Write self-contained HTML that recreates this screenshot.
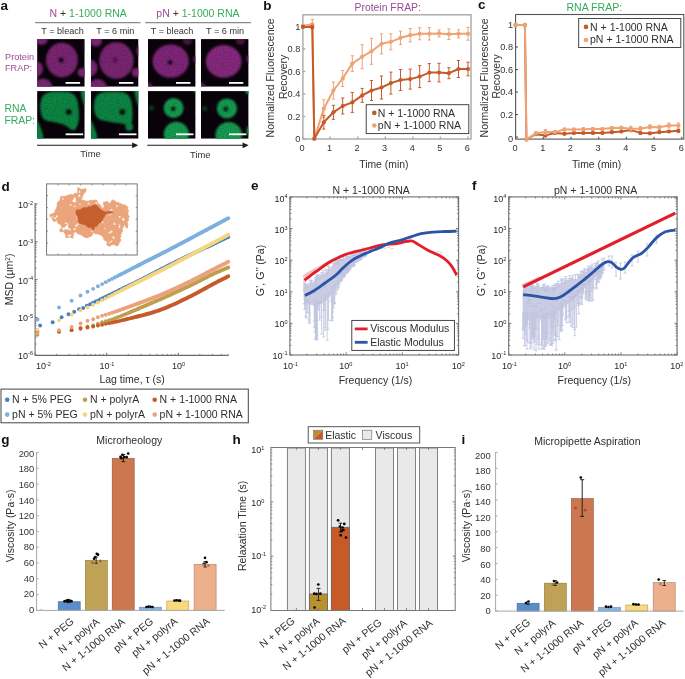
<!DOCTYPE html><html><head><meta charset="utf-8"><style>html,body{margin:0;padding:0;background:#fff;}svg{display:block;will-change:transform;font-family:"Liberation Sans",sans-serif;}</style></head><body>
<svg width="685" height="679" viewBox="0 0 685 679">
<defs><filter id="bl" x="-20%" y="-20%" width="140%" height="140%"><feGaussianBlur stdDeviation="0.9"/></filter><filter id="bl2" x="-50%" y="-50%" width="200%" height="200%"><feGaussianBlur stdDeviation="1.2"/></filter><filter id="bl3" x="-20%" y="-20%" width="140%" height="140%"><feGaussianBlur stdDeviation="1.3"/></filter><filter id="nz" x="0" y="0" width="100%" height="100%" filterUnits="objectBoundingBox"><feTurbulence type="fractalNoise" baseFrequency="0.85" numOctaves="1" seed="4" result="t"/><feColorMatrix in="t" type="matrix" values="0 0 0 0 0  0 0 0 0 0  0 0 0 0 0  0.5 0 0 0 -0.17"/></filter></defs>
<rect width="685" height="679" fill="#fff"/>
<text x="0.4" y="9.7" font-size="13.5" text-anchor="start" fill="#111" font-weight="bold">a</text>
<text x="49.5" y="16.9" font-size="10.5" fill="#262626"><tspan fill="#9a4a98">N</tspan><tspan fill="#333"> + </tspan><tspan fill="#36ac5c">1-1000 RNA</tspan></text>
<text x="156.3" y="16.9" font-size="10.5" fill="#262626"><tspan fill="#9a4a98">pN</tspan><tspan fill="#333"> + </tspan><tspan fill="#36ac5c">1-1000 RNA</tspan></text>
<line x1="35" y1="22.6" x2="140.5" y2="22.6" stroke="#8a8a8a" stroke-width="1.1"/>
<line x1="145.3" y1="22.6" x2="251" y2="22.6" stroke="#8a8a8a" stroke-width="1.1"/>
<text x="41.3" y="33.9" font-size="9.1" text-anchor="start" fill="#333">T = bleach</text>
<text x="96.3" y="33.9" font-size="9.1" text-anchor="start" fill="#333">T = 6 min</text>
<text x="150.8" y="33.9" font-size="9.1" text-anchor="start" fill="#333">T = bleach</text>
<text x="206.1" y="33.9" font-size="9.1" text-anchor="start" fill="#333">T = 6 min</text>
<text x="5" y="60" font-size="9.2" text-anchor="start" fill="#9a4a98">Protein</text>
<text x="5" y="70.8" font-size="9.2" text-anchor="start" fill="#9a4a98">FRAP:</text>
<text x="4.4" y="111.8" font-size="10.4" text-anchor="start" fill="#36ac5c">RNA</text>
<text x="4.4" y="124.4" font-size="10.4" text-anchor="start" fill="#36ac5c">FRAP:</text>
<clipPath id="cp1"><rect x="37.1" y="39.1" width="47.6" height="47.6"/></clipPath>
<g clip-path="url(#cp1)">
<rect x="37.1" y="39.1" width="47.6" height="47.6" fill="#0a020a"/>
<g filter="url(#bl)">
<ellipse cx="61.9" cy="60" rx="16" ry="17.2" fill="#7e2676" opacity="1"/>
<ellipse cx="41.5" cy="40" rx="6" ry="5" fill="#7e2676" opacity="1"/>
<ellipse cx="35.5" cy="69" rx="7.5" ry="8" fill="#7e2676" opacity="1"/>
<ellipse cx="43" cy="88" rx="9.5" ry="9.5" fill="#7e2676" opacity="1"/>
<ellipse cx="82.5" cy="72.5" rx="5" ry="4.6" fill="#7e2676" opacity="1"/>
<ellipse cx="90" cy="46" rx="6" ry="8" fill="#7e2676" opacity="1"/>
<ellipse cx="61.2" cy="60" rx="2.8" ry="2.8" fill="#12030f" opacity="1"/>
</g>
<rect x="37.1" y="39.1" width="47.6" height="47.6" filter="url(#nz)" fill="#000"/>
</g>
<rect x="65.6" y="82" width="14.5" height="1.8" fill="#fff"/>
<clipPath id="cp2"><rect x="90.9" y="39.1" width="47.6" height="47.6"/></clipPath>
<g clip-path="url(#cp2)">
<rect x="90.9" y="39.1" width="47.6" height="47.6" fill="#0a020a"/>
<g filter="url(#bl)">
<ellipse cx="116.4" cy="60.6" rx="17.2" ry="18.4" fill="#7e2676" opacity="1"/>
<ellipse cx="96" cy="41" rx="6" ry="5.5" fill="#7e2676" opacity="1"/>
<ellipse cx="89.5" cy="68" rx="8" ry="8.5" fill="#7e2676" opacity="1"/>
<ellipse cx="97.5" cy="88.5" rx="9.5" ry="9.5" fill="#7e2676" opacity="1"/>
<ellipse cx="136.5" cy="72.5" rx="4.8" ry="4.5" fill="#7e2676" opacity="1"/>
<ellipse cx="146" cy="51" rx="9.5" ry="8" fill="#7e2676" opacity="1"/>
<ellipse cx="115.2" cy="60" rx="2.6" ry="2.6" fill="#4a1040" opacity="0.8"/>
</g>
<rect x="90.9" y="39.1" width="47.6" height="47.6" filter="url(#nz)" fill="#000"/>
</g>
<rect x="118.9" y="82" width="14.5" height="1.8" fill="#fff"/>
<clipPath id="cp3"><rect x="148" y="39.1" width="47.6" height="47.6"/></clipPath>
<g clip-path="url(#cp3)">
<rect x="148" y="39.1" width="47.6" height="47.6" fill="#0a020a"/>
<g filter="url(#bl)">
<ellipse cx="170.7" cy="61.2" rx="18.2" ry="16.6" fill="#83287b" opacity="1"/>
<ellipse cx="187.5" cy="40.8" rx="4.5" ry="4" fill="#5a1a52" opacity="0.8"/>
<ellipse cx="197" cy="59" rx="3.5" ry="4" fill="#83287b" opacity="0.8"/>
<ellipse cx="147.5" cy="87.5" rx="5" ry="5" fill="#83287b" opacity="0.8"/>
<ellipse cx="170.1" cy="62.3" rx="2.6" ry="2.6" fill="#12030f" opacity="1"/>
</g>
<rect x="148" y="39.1" width="47.6" height="47.6" filter="url(#nz)" fill="#000"/>
</g>
<rect x="176" y="82" width="14.4" height="1.8" fill="#fff"/>
<clipPath id="cp4"><rect x="201" y="39.1" width="47.6" height="47.6"/></clipPath>
<g clip-path="url(#cp4)">
<rect x="201" y="39.1" width="47.6" height="47.6" fill="#0a020a"/>
<g filter="url(#bl)">
<ellipse cx="223.7" cy="61.4" rx="17.9" ry="16.4" fill="#8a2b82" opacity="1"/>
<ellipse cx="240.5" cy="40.8" rx="4.5" ry="4" fill="#5a1a52" opacity="0.8"/>
<ellipse cx="250" cy="59" rx="3.5" ry="4" fill="#8a2b82" opacity="0.8"/>
<ellipse cx="200.5" cy="87.5" rx="5" ry="5" fill="#8a2b82" opacity="0.8"/>
</g>
<rect x="201" y="39.1" width="47.6" height="47.6" filter="url(#nz)" fill="#000"/>
</g>
<rect x="229" y="82" width="14.3" height="1.8" fill="#fff"/>
<clipPath id="cp5"><rect x="37.1" y="91.1" width="47.6" height="47.6"/></clipPath>
<g clip-path="url(#cp5)">
<rect x="37.1" y="91.1" width="47.6" height="47.6" fill="#0a020a"/>
<g filter="url(#bl3)">
<path d="M 40.2,108.1 C 40.07,105.52 40.33,102.67 40.9,100.5 C 41.47,98.33 42,96.5 43.6,95.1 C 45.2,93.7 47.68,92.67 50.5,92.1 C 53.32,91.53 57.3,91.65 60.5,91.7 C 63.7,91.75 67.4,91.83 69.7,92.4 C 72,92.97 73.03,93.75 74.3,95.1 C 75.57,96.45 76.6,98.33 77.3,100.5 C 78,102.67 78.22,105.55 78.5,108.1 C 78.78,110.65 78.98,113.62 79,115.8 C 79.02,117.98 78.98,119.28 78.6,121.2 C 78.22,123.12 77.47,125.78 76.7,127.3 C 75.93,128.82 74.95,129.92 74,130.3 C 73.05,130.68 72.13,130.23 71,129.6 C 69.87,128.97 68.6,127.4 67.2,126.5 C 65.8,125.6 64.27,124.83 62.6,124.2 C 60.93,123.57 59.25,123.15 57.2,122.7 C 55.15,122.25 52.33,121.95 50.3,121.5 C 48.27,121.05 46.43,120.92 45,120 C 43.57,119.08 42.5,117.98 41.7,116 C 40.9,114.02 40.33,110.68 40.2,108.1 Z" fill="#0a8a45"/>
<polygon points="36,119.5 37.7,121.2 39.6,125 41.5,130.3 43,135 43.4,140 36,140" fill="#0a8a45"/>
<polygon points="80.5,90 81.2,95 82.5,100.5 84,105 85.5,107.5 86,90" fill="#0a8a45"/>
<ellipse cx="68.7" cy="112" rx="3.2" ry="3.2" fill="#050505" opacity="1"/>
</g>
<rect x="37.1" y="91.1" width="47.6" height="47.6" filter="url(#nz)" fill="#000"/>
</g>
<rect x="65.6" y="133.4" width="17.5" height="1.8" fill="#fff"/>
<clipPath id="cp6"><rect x="90.9" y="91.1" width="47.6" height="47.6"/></clipPath>
<g clip-path="url(#cp6)">
<rect x="90.9" y="91.1" width="47.6" height="47.6" fill="#0a020a"/>
<g filter="url(#bl3)">
<path d="M 94,108.1 C 93.87,105.68 94.13,102.67 94.7,100.5 C 95.27,98.33 95.8,96.5 97.4,95.1 C 99,93.7 101.48,92.67 104.3,92.1 C 107.12,91.53 111.1,91.65 114.3,91.7 C 117.5,91.75 121.2,91.83 123.5,92.4 C 125.8,92.97 126.83,93.75 128.1,95.1 C 129.37,96.45 130.4,98.33 131.1,100.5 C 131.8,102.67 132.07,105.55 132.3,108.1 C 132.53,110.65 132.57,113.5 132.5,115.8 C 132.43,118.1 132.38,120.57 131.9,121.9 C 131.42,123.23 130.62,123.42 129.6,123.8 C 128.58,124.18 127.2,124.25 125.8,124.2 C 124.4,124.15 122.87,123.75 121.2,123.5 C 119.53,123.25 117.6,122.97 115.8,122.7 C 114,122.43 112.32,122.22 110.4,121.9 C 108.48,121.58 106.2,121.3 104.3,120.8 C 102.4,120.3 100.47,119.87 99,118.9 C 97.53,117.93 96.33,116.8 95.5,115 C 94.67,113.2 94.13,110.52 94,108.1 Z" fill="#0a8a45"/>
<polygon points="89.8,119.5 91.5,121.2 93.4,125 95.3,130.3 96.8,135 97.2,140 89.8,140" fill="#0a8a45"/>
<polygon points="134.3,90 135,95 136.3,100.5 137.8,105 139.3,107.5 139.8,90" fill="#0a8a45"/>
<ellipse cx="129.2" cy="126.9" rx="3.8" ry="3.8" fill="#0a8a45" opacity="1"/>
<ellipse cx="122.3" cy="112" rx="3.2" ry="3.2" fill="#050a06" opacity="1"/>
</g>
<rect x="90.9" y="91.1" width="47.6" height="47.6" filter="url(#nz)" fill="#000"/>
</g>
<rect x="118.9" y="133.4" width="17.6" height="1.8" fill="#fff"/>
<clipPath id="cp7"><rect x="148" y="91.1" width="47.6" height="47.6"/></clipPath>
<g clip-path="url(#cp7)">
<rect x="148" y="91.1" width="47.6" height="47.6" fill="#0a020a"/>
<g filter="url(#bl)">
<ellipse cx="173.6" cy="108" rx="10" ry="10" fill="#12a052" opacity="1"/>
<ellipse cx="176.3" cy="134.3" rx="12.6" ry="12.6" fill="#12a052" opacity="1"/>
<ellipse cx="151.4" cy="108.1" rx="2.6" ry="2.6" fill="#0a4a22" opacity="0.8"/>
<ellipse cx="196" cy="91" rx="2" ry="2" fill="#12a052" opacity="1"/>
<ellipse cx="173.2" cy="108.8" rx="2.5" ry="2.5" fill="#050505" opacity="1"/>
</g>
<rect x="148" y="91.1" width="47.6" height="47.6" filter="url(#nz)" fill="#000"/>
</g>
<rect x="176" y="133.4" width="17.5" height="1.8" fill="#fff"/>
<clipPath id="cp8"><rect x="201" y="91.1" width="47.6" height="47.6"/></clipPath>
<g clip-path="url(#cp8)">
<rect x="201" y="91.1" width="47.6" height="47.6" fill="#0a020a"/>
<g filter="url(#bl)">
<ellipse cx="226.9" cy="108.4" rx="10.2" ry="10" fill="#12a052" opacity="1"/>
<ellipse cx="228.7" cy="135.2" rx="13.3" ry="13.3" fill="#12a052" opacity="1"/>
<ellipse cx="204.7" cy="108.5" rx="2.6" ry="2.6" fill="#0a4a22" opacity="0.8"/>
<ellipse cx="248" cy="91.5" rx="2.5" ry="2.5" fill="#12a052" opacity="1"/>
<ellipse cx="249.5" cy="131" rx="3" ry="5" fill="#12a052" opacity="1"/>
<ellipse cx="225.8" cy="109" rx="2.7" ry="2.7" fill="#052a16" opacity="1"/>
</g>
<rect x="201" y="91.1" width="47.6" height="47.6" filter="url(#nz)" fill="#000"/>
</g>
<rect x="229" y="133.4" width="17.3" height="1.8" fill="#fff"/>
<line x1="37" y1="145.3" x2="134.2" y2="145.3" stroke="#1a1a1a" stroke-width="1.1"/>
<polygon points="138.2,145.3 132.2,142.4 132.2,148.2" fill="#1a1a1a"/>
<line x1="147.2" y1="145.3" x2="244.6" y2="145.3" stroke="#1a1a1a" stroke-width="1.1"/>
<polygon points="248.6,145.3 242.6,142.4 242.6,148.2" fill="#1a1a1a"/>
<text x="80.2" y="157.2" font-size="9.4" text-anchor="start" fill="#333">Time</text>
<text x="190" y="157.5" font-size="9.4" text-anchor="start" fill="#333">Time</text>
<text x="263.2" y="9.7" font-size="13.5" text-anchor="start" fill="#111" font-weight="bold">b</text>
<text x="354.5" y="10.6" font-size="10.4" text-anchor="start" fill="#9a4a98">Protein FRAP:</text>
<rect x="302.9" y="14.8" width="168.1" height="124.2" fill="none" stroke="#a8a8a8" stroke-width="1.4"/>
<line x1="302.9" y1="139" x2="305.3" y2="139" stroke="#a8a8a8" stroke-width="1.4"/>
<text x="300.3" y="142.2" font-size="9.2" text-anchor="end" fill="#333">0</text>
<line x1="302.9" y1="116.5" x2="305.3" y2="116.5" stroke="#a8a8a8" stroke-width="1.4"/>
<text x="300.3" y="119.7" font-size="9.2" text-anchor="end" fill="#333">0.2</text>
<line x1="302.9" y1="94" x2="305.3" y2="94" stroke="#a8a8a8" stroke-width="1.4"/>
<text x="300.3" y="97.2" font-size="9.2" text-anchor="end" fill="#333">0.4</text>
<line x1="302.9" y1="71.5" x2="305.3" y2="71.5" stroke="#a8a8a8" stroke-width="1.4"/>
<text x="300.3" y="74.7" font-size="9.2" text-anchor="end" fill="#333">0.6</text>
<line x1="302.9" y1="49" x2="305.3" y2="49" stroke="#a8a8a8" stroke-width="1.4"/>
<text x="300.3" y="52.2" font-size="9.2" text-anchor="end" fill="#333">0.8</text>
<line x1="302.9" y1="26.5" x2="305.3" y2="26.5" stroke="#a8a8a8" stroke-width="1.4"/>
<text x="300.3" y="29.7" font-size="9.2" text-anchor="end" fill="#333">1</text>
<line x1="302.6" y1="139" x2="302.6" y2="136.6" stroke="#a8a8a8" stroke-width="1.4"/>
<text x="302" y="151" font-size="9.2" text-anchor="middle" fill="#333">0</text>
<line x1="330.15" y1="139" x2="330.15" y2="136.6" stroke="#a8a8a8" stroke-width="1.4"/>
<text x="329.55" y="151" font-size="9.2" text-anchor="middle" fill="#333">1</text>
<line x1="357.7" y1="139" x2="357.7" y2="136.6" stroke="#a8a8a8" stroke-width="1.4"/>
<text x="357.1" y="151" font-size="9.2" text-anchor="middle" fill="#333">2</text>
<line x1="385.25" y1="139" x2="385.25" y2="136.6" stroke="#a8a8a8" stroke-width="1.4"/>
<text x="384.65" y="151" font-size="9.2" text-anchor="middle" fill="#333">3</text>
<line x1="412.8" y1="139" x2="412.8" y2="136.6" stroke="#a8a8a8" stroke-width="1.4"/>
<text x="412.2" y="151" font-size="9.2" text-anchor="middle" fill="#333">4</text>
<line x1="440.35" y1="139" x2="440.35" y2="136.6" stroke="#a8a8a8" stroke-width="1.4"/>
<text x="439.75" y="151" font-size="9.2" text-anchor="middle" fill="#333">5</text>
<line x1="467.9" y1="139" x2="467.9" y2="136.6" stroke="#a8a8a8" stroke-width="1.4"/>
<text x="467.3" y="151" font-size="9.2" text-anchor="middle" fill="#333">6</text>
<text transform="translate(273.6,77.9) rotate(-90)" font-size="10.5" text-anchor="middle" fill="#333">Normalized Fluorescence</text>
<text transform="translate(286.8,76.9) rotate(-90)" font-size="10.5" text-anchor="middle" fill="#333">Recovery</text>
<text x="359.2" y="168.2" font-size="10.4" text-anchor="start" fill="#333">Time (min)</text>
<polyline points="303,26 312.3,24.3 314.3,138.7 323.8,108.7 333.4,90.5 342.7,78.5 352.3,63.6 362.2,56.7 371.5,51.3 381.5,43.8 390.9,41.8 400.5,37.8 410.2,35.2 419.7,33.8 429.3,33.8 439,33.4 448.9,34.2 458.5,33.8 468,33.8" fill="none" stroke="#efa274" stroke-width="2" stroke-linejoin="round" stroke-linecap="round"/>
<line x1="303" y1="24.5" x2="303" y2="27.5" stroke="#efa274" stroke-width="1"/>
<line x1="301.4" y1="24.5" x2="304.6" y2="24.5" stroke="#efa274" stroke-width="1"/>
<line x1="301.4" y1="27.5" x2="304.6" y2="27.5" stroke="#efa274" stroke-width="1"/>
<line x1="312.3" y1="19.5" x2="312.3" y2="29.1" stroke="#efa274" stroke-width="1"/>
<line x1="310.7" y1="19.5" x2="313.9" y2="19.5" stroke="#efa274" stroke-width="1"/>
<line x1="310.7" y1="29.1" x2="313.9" y2="29.1" stroke="#efa274" stroke-width="1"/>
<line x1="323.8" y1="99.7" x2="323.8" y2="117.7" stroke="#efa274" stroke-width="1"/>
<line x1="322.2" y1="99.7" x2="325.4" y2="99.7" stroke="#efa274" stroke-width="1"/>
<line x1="322.2" y1="117.7" x2="325.4" y2="117.7" stroke="#efa274" stroke-width="1"/>
<line x1="333.4" y1="82" x2="333.4" y2="99" stroke="#efa274" stroke-width="1"/>
<line x1="331.8" y1="82" x2="335" y2="82" stroke="#efa274" stroke-width="1"/>
<line x1="331.8" y1="99" x2="335" y2="99" stroke="#efa274" stroke-width="1"/>
<line x1="342.7" y1="70.5" x2="342.7" y2="86.5" stroke="#efa274" stroke-width="1"/>
<line x1="341.1" y1="70.5" x2="344.3" y2="70.5" stroke="#efa274" stroke-width="1"/>
<line x1="341.1" y1="86.5" x2="344.3" y2="86.5" stroke="#efa274" stroke-width="1"/>
<line x1="352.3" y1="55.8" x2="352.3" y2="71.4" stroke="#efa274" stroke-width="1"/>
<line x1="350.7" y1="55.8" x2="353.9" y2="55.8" stroke="#efa274" stroke-width="1"/>
<line x1="350.7" y1="71.4" x2="353.9" y2="71.4" stroke="#efa274" stroke-width="1"/>
<line x1="362.2" y1="44.7" x2="362.2" y2="68.7" stroke="#efa274" stroke-width="1"/>
<line x1="360.6" y1="44.7" x2="363.8" y2="44.7" stroke="#efa274" stroke-width="1"/>
<line x1="360.6" y1="68.7" x2="363.8" y2="68.7" stroke="#efa274" stroke-width="1"/>
<line x1="371.5" y1="38.3" x2="371.5" y2="64.3" stroke="#efa274" stroke-width="1"/>
<line x1="369.9" y1="38.3" x2="373.1" y2="38.3" stroke="#efa274" stroke-width="1"/>
<line x1="369.9" y1="64.3" x2="373.1" y2="64.3" stroke="#efa274" stroke-width="1"/>
<line x1="381.5" y1="33.8" x2="381.5" y2="53.8" stroke="#efa274" stroke-width="1"/>
<line x1="379.9" y1="33.8" x2="383.1" y2="33.8" stroke="#efa274" stroke-width="1"/>
<line x1="379.9" y1="53.8" x2="383.1" y2="53.8" stroke="#efa274" stroke-width="1"/>
<line x1="390.9" y1="33.8" x2="390.9" y2="49.8" stroke="#efa274" stroke-width="1"/>
<line x1="389.3" y1="33.8" x2="392.5" y2="33.8" stroke="#efa274" stroke-width="1"/>
<line x1="389.3" y1="49.8" x2="392.5" y2="49.8" stroke="#efa274" stroke-width="1"/>
<line x1="400.5" y1="31.1" x2="400.5" y2="44.5" stroke="#efa274" stroke-width="1"/>
<line x1="398.9" y1="31.1" x2="402.1" y2="31.1" stroke="#efa274" stroke-width="1"/>
<line x1="398.9" y1="44.5" x2="402.1" y2="44.5" stroke="#efa274" stroke-width="1"/>
<line x1="410.2" y1="28.5" x2="410.2" y2="41.9" stroke="#efa274" stroke-width="1"/>
<line x1="408.6" y1="28.5" x2="411.8" y2="28.5" stroke="#efa274" stroke-width="1"/>
<line x1="408.6" y1="41.9" x2="411.8" y2="41.9" stroke="#efa274" stroke-width="1"/>
<line x1="419.7" y1="27.8" x2="419.7" y2="39.8" stroke="#efa274" stroke-width="1"/>
<line x1="418.1" y1="27.8" x2="421.3" y2="27.8" stroke="#efa274" stroke-width="1"/>
<line x1="418.1" y1="39.8" x2="421.3" y2="39.8" stroke="#efa274" stroke-width="1"/>
<line x1="429.3" y1="27.6" x2="429.3" y2="40" stroke="#efa274" stroke-width="1"/>
<line x1="427.7" y1="27.6" x2="430.9" y2="27.6" stroke="#efa274" stroke-width="1"/>
<line x1="427.7" y1="40" x2="430.9" y2="40" stroke="#efa274" stroke-width="1"/>
<line x1="439" y1="29.9" x2="439" y2="36.9" stroke="#efa274" stroke-width="1"/>
<line x1="437.4" y1="29.9" x2="440.6" y2="29.9" stroke="#efa274" stroke-width="1"/>
<line x1="437.4" y1="36.9" x2="440.6" y2="36.9" stroke="#efa274" stroke-width="1"/>
<line x1="448.9" y1="28.9" x2="448.9" y2="39.5" stroke="#efa274" stroke-width="1"/>
<line x1="447.3" y1="28.9" x2="450.5" y2="28.9" stroke="#efa274" stroke-width="1"/>
<line x1="447.3" y1="39.5" x2="450.5" y2="39.5" stroke="#efa274" stroke-width="1"/>
<line x1="458.5" y1="29.8" x2="458.5" y2="37.8" stroke="#efa274" stroke-width="1"/>
<line x1="456.9" y1="29.8" x2="460.1" y2="29.8" stroke="#efa274" stroke-width="1"/>
<line x1="456.9" y1="37.8" x2="460.1" y2="37.8" stroke="#efa274" stroke-width="1"/>
<line x1="468" y1="27.4" x2="468" y2="40.2" stroke="#efa274" stroke-width="1"/>
<line x1="466.4" y1="27.4" x2="469.6" y2="27.4" stroke="#efa274" stroke-width="1"/>
<line x1="466.4" y1="40.2" x2="469.6" y2="40.2" stroke="#efa274" stroke-width="1"/>
<circle cx="303" cy="26" r="2.1" fill="#efa274"/>
<circle cx="312.3" cy="24.3" r="2.1" fill="#efa274"/>
<circle cx="314.3" cy="138.7" r="2.1" fill="#efa274"/>
<circle cx="323.8" cy="108.7" r="2.1" fill="#efa274"/>
<circle cx="333.4" cy="90.5" r="2.1" fill="#efa274"/>
<circle cx="342.7" cy="78.5" r="2.1" fill="#efa274"/>
<circle cx="352.3" cy="63.6" r="2.1" fill="#efa274"/>
<circle cx="362.2" cy="56.7" r="2.1" fill="#efa274"/>
<circle cx="371.5" cy="51.3" r="2.1" fill="#efa274"/>
<circle cx="381.5" cy="43.8" r="2.1" fill="#efa274"/>
<circle cx="390.9" cy="41.8" r="2.1" fill="#efa274"/>
<circle cx="400.5" cy="37.8" r="2.1" fill="#efa274"/>
<circle cx="410.2" cy="35.2" r="2.1" fill="#efa274"/>
<circle cx="419.7" cy="33.8" r="2.1" fill="#efa274"/>
<circle cx="429.3" cy="33.8" r="2.1" fill="#efa274"/>
<circle cx="439" cy="33.4" r="2.1" fill="#efa274"/>
<circle cx="448.9" cy="34.2" r="2.1" fill="#efa274"/>
<circle cx="458.5" cy="33.8" r="2.1" fill="#efa274"/>
<circle cx="468" cy="33.8" r="2.1" fill="#efa274"/>
<polyline points="303,26.9 312.3,26.9 314.3,138.7 323.8,122.3 333.4,112.3 342.7,106 352.3,102.4 362.2,95.4 371.5,90.5 381.5,87.5 390.9,83.1 400.5,80 410.2,79.1 419.7,76.6 429.3,72.6 439,72.6 448.9,73.2 458.5,69 468,69" fill="none" stroke="#c65a28" stroke-width="2" stroke-linejoin="round" stroke-linecap="round"/>
<line x1="303" y1="25.9" x2="303" y2="27.9" stroke="#c65a28" stroke-width="1"/>
<line x1="301.4" y1="25.9" x2="304.6" y2="25.9" stroke="#c65a28" stroke-width="1"/>
<line x1="301.4" y1="27.9" x2="304.6" y2="27.9" stroke="#c65a28" stroke-width="1"/>
<line x1="312.3" y1="25.4" x2="312.3" y2="28.4" stroke="#c65a28" stroke-width="1"/>
<line x1="310.7" y1="25.4" x2="313.9" y2="25.4" stroke="#c65a28" stroke-width="1"/>
<line x1="310.7" y1="28.4" x2="313.9" y2="28.4" stroke="#c65a28" stroke-width="1"/>
<line x1="323.8" y1="115.5" x2="323.8" y2="129.1" stroke="#c65a28" stroke-width="1"/>
<line x1="322.2" y1="115.5" x2="325.4" y2="115.5" stroke="#c65a28" stroke-width="1"/>
<line x1="322.2" y1="129.1" x2="325.4" y2="129.1" stroke="#c65a28" stroke-width="1"/>
<line x1="333.4" y1="105.3" x2="333.4" y2="119.3" stroke="#c65a28" stroke-width="1"/>
<line x1="331.8" y1="105.3" x2="335" y2="105.3" stroke="#c65a28" stroke-width="1"/>
<line x1="331.8" y1="119.3" x2="335" y2="119.3" stroke="#c65a28" stroke-width="1"/>
<line x1="342.7" y1="98" x2="342.7" y2="114" stroke="#c65a28" stroke-width="1"/>
<line x1="341.1" y1="98" x2="344.3" y2="98" stroke="#c65a28" stroke-width="1"/>
<line x1="341.1" y1="114" x2="344.3" y2="114" stroke="#c65a28" stroke-width="1"/>
<line x1="352.3" y1="92.4" x2="352.3" y2="112.4" stroke="#c65a28" stroke-width="1"/>
<line x1="350.7" y1="92.4" x2="353.9" y2="92.4" stroke="#c65a28" stroke-width="1"/>
<line x1="350.7" y1="112.4" x2="353.9" y2="112.4" stroke="#c65a28" stroke-width="1"/>
<line x1="362.2" y1="88.4" x2="362.2" y2="102.4" stroke="#c65a28" stroke-width="1"/>
<line x1="360.6" y1="88.4" x2="363.8" y2="88.4" stroke="#c65a28" stroke-width="1"/>
<line x1="360.6" y1="102.4" x2="363.8" y2="102.4" stroke="#c65a28" stroke-width="1"/>
<line x1="371.5" y1="80.5" x2="371.5" y2="100.5" stroke="#c65a28" stroke-width="1"/>
<line x1="369.9" y1="80.5" x2="373.1" y2="80.5" stroke="#c65a28" stroke-width="1"/>
<line x1="369.9" y1="100.5" x2="373.1" y2="100.5" stroke="#c65a28" stroke-width="1"/>
<line x1="381.5" y1="76" x2="381.5" y2="99" stroke="#c65a28" stroke-width="1"/>
<line x1="379.9" y1="76" x2="383.1" y2="76" stroke="#c65a28" stroke-width="1"/>
<line x1="379.9" y1="99" x2="383.1" y2="99" stroke="#c65a28" stroke-width="1"/>
<line x1="390.9" y1="72.1" x2="390.9" y2="94.1" stroke="#c65a28" stroke-width="1"/>
<line x1="389.3" y1="72.1" x2="392.5" y2="72.1" stroke="#c65a28" stroke-width="1"/>
<line x1="389.3" y1="94.1" x2="392.5" y2="94.1" stroke="#c65a28" stroke-width="1"/>
<line x1="400.5" y1="69.5" x2="400.5" y2="90.5" stroke="#c65a28" stroke-width="1"/>
<line x1="398.9" y1="69.5" x2="402.1" y2="69.5" stroke="#c65a28" stroke-width="1"/>
<line x1="398.9" y1="90.5" x2="402.1" y2="90.5" stroke="#c65a28" stroke-width="1"/>
<line x1="410.2" y1="69.1" x2="410.2" y2="89.1" stroke="#c65a28" stroke-width="1"/>
<line x1="408.6" y1="69.1" x2="411.8" y2="69.1" stroke="#c65a28" stroke-width="1"/>
<line x1="408.6" y1="89.1" x2="411.8" y2="89.1" stroke="#c65a28" stroke-width="1"/>
<line x1="419.7" y1="65.6" x2="419.7" y2="87.6" stroke="#c65a28" stroke-width="1"/>
<line x1="418.1" y1="65.6" x2="421.3" y2="65.6" stroke="#c65a28" stroke-width="1"/>
<line x1="418.1" y1="87.6" x2="421.3" y2="87.6" stroke="#c65a28" stroke-width="1"/>
<line x1="429.3" y1="63.6" x2="429.3" y2="81.6" stroke="#c65a28" stroke-width="1"/>
<line x1="427.7" y1="63.6" x2="430.9" y2="63.6" stroke="#c65a28" stroke-width="1"/>
<line x1="427.7" y1="81.6" x2="430.9" y2="81.6" stroke="#c65a28" stroke-width="1"/>
<line x1="439" y1="63.3" x2="439" y2="81.9" stroke="#c65a28" stroke-width="1"/>
<line x1="437.4" y1="63.3" x2="440.6" y2="63.3" stroke="#c65a28" stroke-width="1"/>
<line x1="437.4" y1="81.9" x2="440.6" y2="81.9" stroke="#c65a28" stroke-width="1"/>
<line x1="448.9" y1="67.7" x2="448.9" y2="78.7" stroke="#c65a28" stroke-width="1"/>
<line x1="447.3" y1="67.7" x2="450.5" y2="67.7" stroke="#c65a28" stroke-width="1"/>
<line x1="447.3" y1="78.7" x2="450.5" y2="78.7" stroke="#c65a28" stroke-width="1"/>
<line x1="458.5" y1="60.5" x2="458.5" y2="77.5" stroke="#c65a28" stroke-width="1"/>
<line x1="456.9" y1="60.5" x2="460.1" y2="60.5" stroke="#c65a28" stroke-width="1"/>
<line x1="456.9" y1="77.5" x2="460.1" y2="77.5" stroke="#c65a28" stroke-width="1"/>
<line x1="468" y1="62.2" x2="468" y2="75.8" stroke="#c65a28" stroke-width="1"/>
<line x1="466.4" y1="62.2" x2="469.6" y2="62.2" stroke="#c65a28" stroke-width="1"/>
<line x1="466.4" y1="75.8" x2="469.6" y2="75.8" stroke="#c65a28" stroke-width="1"/>
<circle cx="303" cy="26.9" r="2.1" fill="#c65a28"/>
<circle cx="312.3" cy="26.9" r="2.1" fill="#c65a28"/>
<circle cx="314.3" cy="138.7" r="2.1" fill="#c65a28"/>
<circle cx="323.8" cy="122.3" r="2.1" fill="#c65a28"/>
<circle cx="333.4" cy="112.3" r="2.1" fill="#c65a28"/>
<circle cx="342.7" cy="106" r="2.1" fill="#c65a28"/>
<circle cx="352.3" cy="102.4" r="2.1" fill="#c65a28"/>
<circle cx="362.2" cy="95.4" r="2.1" fill="#c65a28"/>
<circle cx="371.5" cy="90.5" r="2.1" fill="#c65a28"/>
<circle cx="381.5" cy="87.5" r="2.1" fill="#c65a28"/>
<circle cx="390.9" cy="83.1" r="2.1" fill="#c65a28"/>
<circle cx="400.5" cy="80" r="2.1" fill="#c65a28"/>
<circle cx="410.2" cy="79.1" r="2.1" fill="#c65a28"/>
<circle cx="419.7" cy="76.6" r="2.1" fill="#c65a28"/>
<circle cx="429.3" cy="72.6" r="2.1" fill="#c65a28"/>
<circle cx="439" cy="72.6" r="2.1" fill="#c65a28"/>
<circle cx="448.9" cy="73.2" r="2.1" fill="#c65a28"/>
<circle cx="458.5" cy="69" r="2.1" fill="#c65a28"/>
<circle cx="468" cy="69" r="2.1" fill="#c65a28"/>
<rect x="366.2" y="104.7" width="102.6" height="28.9" fill="#fff" stroke="#333" stroke-width="0.9"/>
<circle cx="374.3" cy="112.9" r="2.3" fill="#c65a28"/>
<circle cx="374.3" cy="125.5" r="2.3" fill="#efa274"/>
<text x="377.8" y="116.6" font-size="10.5" text-anchor="start" fill="#2e2e2e">N + 1-1000 RNA</text>
<text x="377.8" y="129" font-size="10.5" text-anchor="start" fill="#2e2e2e">pN + 1-1000 RNA</text>
<text x="478" y="9.4" font-size="13.5" text-anchor="start" fill="#111" font-weight="bold">c</text>
<text x="566.4" y="10.6" font-size="10.6" text-anchor="start" fill="#36ac5c">RNA FRAP:</text>
<rect x="515.6" y="14.5" width="168.2" height="124.6" fill="none" stroke="#555" stroke-width="1.1"/>
<line x1="515.6" y1="137.1" x2="518" y2="137.1" stroke="#555" stroke-width="1.1"/>
<text x="513" y="142.3" font-size="9.2" text-anchor="end" fill="#333">0</text>
<line x1="515.6" y1="114.58" x2="518" y2="114.58" stroke="#555" stroke-width="1.1"/>
<text x="513" y="117.78" font-size="9.2" text-anchor="end" fill="#333">0.2</text>
<line x1="515.6" y1="92.06" x2="518" y2="92.06" stroke="#555" stroke-width="1.1"/>
<text x="513" y="95.26" font-size="9.2" text-anchor="end" fill="#333">0.4</text>
<line x1="515.6" y1="69.54" x2="518" y2="69.54" stroke="#555" stroke-width="1.1"/>
<text x="513" y="72.74" font-size="9.2" text-anchor="end" fill="#333">0.6</text>
<line x1="515.6" y1="47.02" x2="518" y2="47.02" stroke="#555" stroke-width="1.1"/>
<text x="513" y="50.22" font-size="9.2" text-anchor="end" fill="#333">0.8</text>
<line x1="515.6" y1="24.5" x2="518" y2="24.5" stroke="#555" stroke-width="1.1"/>
<text x="513" y="27.7" font-size="9.2" text-anchor="end" fill="#333">1</text>
<line x1="515.6" y1="139.1" x2="515.6" y2="136.7" stroke="#555" stroke-width="1.1"/>
<text x="515" y="151" font-size="9.2" text-anchor="middle" fill="#333">0</text>
<line x1="543.3" y1="139.1" x2="543.3" y2="136.7" stroke="#555" stroke-width="1.1"/>
<text x="542.7" y="151" font-size="9.2" text-anchor="middle" fill="#333">1</text>
<line x1="571" y1="139.1" x2="571" y2="136.7" stroke="#555" stroke-width="1.1"/>
<text x="570.4" y="151" font-size="9.2" text-anchor="middle" fill="#333">2</text>
<line x1="598.7" y1="139.1" x2="598.7" y2="136.7" stroke="#555" stroke-width="1.1"/>
<text x="598.1" y="151" font-size="9.2" text-anchor="middle" fill="#333">3</text>
<line x1="626.4" y1="139.1" x2="626.4" y2="136.7" stroke="#555" stroke-width="1.1"/>
<text x="625.8" y="151" font-size="9.2" text-anchor="middle" fill="#333">4</text>
<line x1="654.1" y1="139.1" x2="654.1" y2="136.7" stroke="#555" stroke-width="1.1"/>
<text x="653.5" y="151" font-size="9.2" text-anchor="middle" fill="#333">5</text>
<line x1="681.8" y1="139.1" x2="681.8" y2="136.7" stroke="#555" stroke-width="1.1"/>
<text x="681.2" y="151" font-size="9.2" text-anchor="middle" fill="#333">6</text>
<text transform="translate(488.0,77.9) rotate(-90)" font-size="10.5" text-anchor="middle" fill="#333">Normalized Fluorescence</text>
<text transform="translate(499.7,76.4) rotate(-90)" font-size="10.5" text-anchor="middle" fill="#333">Recovery</text>
<text x="571.9" y="168" font-size="10.4" text-anchor="start" fill="#333">Time (min)</text>
<polyline points="515.6,24.9 524.9,24.9 526.4,139.4 535.9,134.2 545.4,135.4 554.9,133 564.4,133.8 573.9,133 583.4,133 592.9,132.9 602.4,132.9 611.9,132.2 621.4,131.5 630.9,130.1 640.4,132.9 649.9,133.3 659.4,132.2 668.9,131.5 678.4,130.8" fill="none" stroke="#c65a28" stroke-width="2" stroke-linejoin="round" stroke-linecap="round"/>
<line x1="535.9" y1="133" x2="535.9" y2="135.4" stroke="#c65a28" stroke-width="1"/>
<line x1="534.3" y1="133" x2="537.5" y2="133" stroke="#c65a28" stroke-width="1"/>
<line x1="534.3" y1="135.4" x2="537.5" y2="135.4" stroke="#c65a28" stroke-width="1"/>
<line x1="545.4" y1="133.9" x2="545.4" y2="136.9" stroke="#c65a28" stroke-width="1"/>
<line x1="543.8" y1="133.9" x2="547" y2="133.9" stroke="#c65a28" stroke-width="1"/>
<line x1="543.8" y1="136.9" x2="547" y2="136.9" stroke="#c65a28" stroke-width="1"/>
<line x1="554.9" y1="132" x2="554.9" y2="134" stroke="#c65a28" stroke-width="1"/>
<line x1="553.3" y1="132" x2="556.5" y2="132" stroke="#c65a28" stroke-width="1"/>
<line x1="553.3" y1="134" x2="556.5" y2="134" stroke="#c65a28" stroke-width="1"/>
<line x1="564.4" y1="132.8" x2="564.4" y2="134.8" stroke="#c65a28" stroke-width="1"/>
<line x1="562.8" y1="132.8" x2="566" y2="132.8" stroke="#c65a28" stroke-width="1"/>
<line x1="562.8" y1="134.8" x2="566" y2="134.8" stroke="#c65a28" stroke-width="1"/>
<line x1="573.9" y1="132" x2="573.9" y2="134" stroke="#c65a28" stroke-width="1"/>
<line x1="572.3" y1="132" x2="575.5" y2="132" stroke="#c65a28" stroke-width="1"/>
<line x1="572.3" y1="134" x2="575.5" y2="134" stroke="#c65a28" stroke-width="1"/>
<line x1="583.4" y1="132" x2="583.4" y2="134" stroke="#c65a28" stroke-width="1"/>
<line x1="581.8" y1="132" x2="585" y2="132" stroke="#c65a28" stroke-width="1"/>
<line x1="581.8" y1="134" x2="585" y2="134" stroke="#c65a28" stroke-width="1"/>
<line x1="592.9" y1="131.9" x2="592.9" y2="133.9" stroke="#c65a28" stroke-width="1"/>
<line x1="591.3" y1="131.9" x2="594.5" y2="131.9" stroke="#c65a28" stroke-width="1"/>
<line x1="591.3" y1="133.9" x2="594.5" y2="133.9" stroke="#c65a28" stroke-width="1"/>
<line x1="602.4" y1="131.9" x2="602.4" y2="133.9" stroke="#c65a28" stroke-width="1"/>
<line x1="600.8" y1="131.9" x2="604" y2="131.9" stroke="#c65a28" stroke-width="1"/>
<line x1="600.8" y1="133.9" x2="604" y2="133.9" stroke="#c65a28" stroke-width="1"/>
<line x1="611.9" y1="131.2" x2="611.9" y2="133.2" stroke="#c65a28" stroke-width="1"/>
<line x1="610.3" y1="131.2" x2="613.5" y2="131.2" stroke="#c65a28" stroke-width="1"/>
<line x1="610.3" y1="133.2" x2="613.5" y2="133.2" stroke="#c65a28" stroke-width="1"/>
<line x1="621.4" y1="130.5" x2="621.4" y2="132.5" stroke="#c65a28" stroke-width="1"/>
<line x1="619.8" y1="130.5" x2="623" y2="130.5" stroke="#c65a28" stroke-width="1"/>
<line x1="619.8" y1="132.5" x2="623" y2="132.5" stroke="#c65a28" stroke-width="1"/>
<line x1="630.9" y1="128.6" x2="630.9" y2="131.6" stroke="#c65a28" stroke-width="1"/>
<line x1="629.3" y1="128.6" x2="632.5" y2="128.6" stroke="#c65a28" stroke-width="1"/>
<line x1="629.3" y1="131.6" x2="632.5" y2="131.6" stroke="#c65a28" stroke-width="1"/>
<line x1="640.4" y1="131.4" x2="640.4" y2="134.4" stroke="#c65a28" stroke-width="1"/>
<line x1="638.8" y1="131.4" x2="642" y2="131.4" stroke="#c65a28" stroke-width="1"/>
<line x1="638.8" y1="134.4" x2="642" y2="134.4" stroke="#c65a28" stroke-width="1"/>
<line x1="649.9" y1="132.3" x2="649.9" y2="134.3" stroke="#c65a28" stroke-width="1"/>
<line x1="648.3" y1="132.3" x2="651.5" y2="132.3" stroke="#c65a28" stroke-width="1"/>
<line x1="648.3" y1="134.3" x2="651.5" y2="134.3" stroke="#c65a28" stroke-width="1"/>
<line x1="659.4" y1="131.2" x2="659.4" y2="133.2" stroke="#c65a28" stroke-width="1"/>
<line x1="657.8" y1="131.2" x2="661" y2="131.2" stroke="#c65a28" stroke-width="1"/>
<line x1="657.8" y1="133.2" x2="661" y2="133.2" stroke="#c65a28" stroke-width="1"/>
<line x1="668.9" y1="130.5" x2="668.9" y2="132.5" stroke="#c65a28" stroke-width="1"/>
<line x1="667.3" y1="130.5" x2="670.5" y2="130.5" stroke="#c65a28" stroke-width="1"/>
<line x1="667.3" y1="132.5" x2="670.5" y2="132.5" stroke="#c65a28" stroke-width="1"/>
<line x1="678.4" y1="129.3" x2="678.4" y2="132.3" stroke="#c65a28" stroke-width="1"/>
<line x1="676.8" y1="129.3" x2="680" y2="129.3" stroke="#c65a28" stroke-width="1"/>
<line x1="676.8" y1="132.3" x2="680" y2="132.3" stroke="#c65a28" stroke-width="1"/>
<circle cx="515.6" cy="24.9" r="2.1" fill="#c65a28"/>
<circle cx="524.9" cy="24.9" r="2.1" fill="#c65a28"/>
<circle cx="526.4" cy="139.4" r="2.1" fill="#c65a28"/>
<circle cx="535.9" cy="134.2" r="2.1" fill="#c65a28"/>
<circle cx="545.4" cy="135.4" r="2.1" fill="#c65a28"/>
<circle cx="554.9" cy="133" r="2.1" fill="#c65a28"/>
<circle cx="564.4" cy="133.8" r="2.1" fill="#c65a28"/>
<circle cx="573.9" cy="133" r="2.1" fill="#c65a28"/>
<circle cx="583.4" cy="133" r="2.1" fill="#c65a28"/>
<circle cx="592.9" cy="132.9" r="2.1" fill="#c65a28"/>
<circle cx="602.4" cy="132.9" r="2.1" fill="#c65a28"/>
<circle cx="611.9" cy="132.2" r="2.1" fill="#c65a28"/>
<circle cx="621.4" cy="131.5" r="2.1" fill="#c65a28"/>
<circle cx="630.9" cy="130.1" r="2.1" fill="#c65a28"/>
<circle cx="640.4" cy="132.9" r="2.1" fill="#c65a28"/>
<circle cx="649.9" cy="133.3" r="2.1" fill="#c65a28"/>
<circle cx="659.4" cy="132.2" r="2.1" fill="#c65a28"/>
<circle cx="668.9" cy="131.5" r="2.1" fill="#c65a28"/>
<circle cx="678.4" cy="130.8" r="2.1" fill="#c65a28"/>
<polyline points="515.6,24.9 524.9,24.9 526.4,139.4 535.9,133.3 545.4,132.1 554.9,132.1 564.4,129.5 573.9,129.6 583.4,129.2 592.9,129.1 602.4,129.1 611.9,128 621.4,127.8 630.9,128.7 640.4,128.7 649.9,126.9 659.4,127.3 668.9,125.5 678.4,125.5" fill="none" stroke="#efa274" stroke-width="2" stroke-linejoin="round" stroke-linecap="round"/>
<line x1="535.9" y1="131.8" x2="535.9" y2="134.8" stroke="#efa274" stroke-width="1"/>
<line x1="534.3" y1="131.8" x2="537.5" y2="131.8" stroke="#efa274" stroke-width="1"/>
<line x1="534.3" y1="134.8" x2="537.5" y2="134.8" stroke="#efa274" stroke-width="1"/>
<line x1="545.4" y1="129.6" x2="545.4" y2="134.6" stroke="#efa274" stroke-width="1"/>
<line x1="543.8" y1="129.6" x2="547" y2="129.6" stroke="#efa274" stroke-width="1"/>
<line x1="543.8" y1="134.6" x2="547" y2="134.6" stroke="#efa274" stroke-width="1"/>
<line x1="554.9" y1="130.6" x2="554.9" y2="133.6" stroke="#efa274" stroke-width="1"/>
<line x1="553.3" y1="130.6" x2="556.5" y2="130.6" stroke="#efa274" stroke-width="1"/>
<line x1="553.3" y1="133.6" x2="556.5" y2="133.6" stroke="#efa274" stroke-width="1"/>
<line x1="564.4" y1="128" x2="564.4" y2="131" stroke="#efa274" stroke-width="1"/>
<line x1="562.8" y1="128" x2="566" y2="128" stroke="#efa274" stroke-width="1"/>
<line x1="562.8" y1="131" x2="566" y2="131" stroke="#efa274" stroke-width="1"/>
<line x1="573.9" y1="128.1" x2="573.9" y2="131.1" stroke="#efa274" stroke-width="1"/>
<line x1="572.3" y1="128.1" x2="575.5" y2="128.1" stroke="#efa274" stroke-width="1"/>
<line x1="572.3" y1="131.1" x2="575.5" y2="131.1" stroke="#efa274" stroke-width="1"/>
<line x1="583.4" y1="127.7" x2="583.4" y2="130.7" stroke="#efa274" stroke-width="1"/>
<line x1="581.8" y1="127.7" x2="585" y2="127.7" stroke="#efa274" stroke-width="1"/>
<line x1="581.8" y1="130.7" x2="585" y2="130.7" stroke="#efa274" stroke-width="1"/>
<line x1="592.9" y1="127.6" x2="592.9" y2="130.6" stroke="#efa274" stroke-width="1"/>
<line x1="591.3" y1="127.6" x2="594.5" y2="127.6" stroke="#efa274" stroke-width="1"/>
<line x1="591.3" y1="130.6" x2="594.5" y2="130.6" stroke="#efa274" stroke-width="1"/>
<line x1="602.4" y1="127.6" x2="602.4" y2="130.6" stroke="#efa274" stroke-width="1"/>
<line x1="600.8" y1="127.6" x2="604" y2="127.6" stroke="#efa274" stroke-width="1"/>
<line x1="600.8" y1="130.6" x2="604" y2="130.6" stroke="#efa274" stroke-width="1"/>
<line x1="611.9" y1="126.5" x2="611.9" y2="129.5" stroke="#efa274" stroke-width="1"/>
<line x1="610.3" y1="126.5" x2="613.5" y2="126.5" stroke="#efa274" stroke-width="1"/>
<line x1="610.3" y1="129.5" x2="613.5" y2="129.5" stroke="#efa274" stroke-width="1"/>
<line x1="621.4" y1="126.3" x2="621.4" y2="129.3" stroke="#efa274" stroke-width="1"/>
<line x1="619.8" y1="126.3" x2="623" y2="126.3" stroke="#efa274" stroke-width="1"/>
<line x1="619.8" y1="129.3" x2="623" y2="129.3" stroke="#efa274" stroke-width="1"/>
<line x1="630.9" y1="126.2" x2="630.9" y2="131.2" stroke="#efa274" stroke-width="1"/>
<line x1="629.3" y1="126.2" x2="632.5" y2="126.2" stroke="#efa274" stroke-width="1"/>
<line x1="629.3" y1="131.2" x2="632.5" y2="131.2" stroke="#efa274" stroke-width="1"/>
<line x1="640.4" y1="126.7" x2="640.4" y2="130.7" stroke="#efa274" stroke-width="1"/>
<line x1="638.8" y1="126.7" x2="642" y2="126.7" stroke="#efa274" stroke-width="1"/>
<line x1="638.8" y1="130.7" x2="642" y2="130.7" stroke="#efa274" stroke-width="1"/>
<line x1="649.9" y1="124.9" x2="649.9" y2="128.9" stroke="#efa274" stroke-width="1"/>
<line x1="648.3" y1="124.9" x2="651.5" y2="124.9" stroke="#efa274" stroke-width="1"/>
<line x1="648.3" y1="128.9" x2="651.5" y2="128.9" stroke="#efa274" stroke-width="1"/>
<line x1="659.4" y1="125.3" x2="659.4" y2="129.3" stroke="#efa274" stroke-width="1"/>
<line x1="657.8" y1="125.3" x2="661" y2="125.3" stroke="#efa274" stroke-width="1"/>
<line x1="657.8" y1="129.3" x2="661" y2="129.3" stroke="#efa274" stroke-width="1"/>
<line x1="668.9" y1="123" x2="668.9" y2="128" stroke="#efa274" stroke-width="1"/>
<line x1="667.3" y1="123" x2="670.5" y2="123" stroke="#efa274" stroke-width="1"/>
<line x1="667.3" y1="128" x2="670.5" y2="128" stroke="#efa274" stroke-width="1"/>
<line x1="678.4" y1="123" x2="678.4" y2="128" stroke="#efa274" stroke-width="1"/>
<line x1="676.8" y1="123" x2="680" y2="123" stroke="#efa274" stroke-width="1"/>
<line x1="676.8" y1="128" x2="680" y2="128" stroke="#efa274" stroke-width="1"/>
<circle cx="515.6" cy="24.9" r="2.1" fill="#efa274"/>
<circle cx="524.9" cy="24.9" r="2.1" fill="#efa274"/>
<circle cx="526.4" cy="139.4" r="2.1" fill="#efa274"/>
<circle cx="535.9" cy="133.3" r="2.1" fill="#efa274"/>
<circle cx="545.4" cy="132.1" r="2.1" fill="#efa274"/>
<circle cx="554.9" cy="132.1" r="2.1" fill="#efa274"/>
<circle cx="564.4" cy="129.5" r="2.1" fill="#efa274"/>
<circle cx="573.9" cy="129.6" r="2.1" fill="#efa274"/>
<circle cx="583.4" cy="129.2" r="2.1" fill="#efa274"/>
<circle cx="592.9" cy="129.1" r="2.1" fill="#efa274"/>
<circle cx="602.4" cy="129.1" r="2.1" fill="#efa274"/>
<circle cx="611.9" cy="128" r="2.1" fill="#efa274"/>
<circle cx="621.4" cy="127.8" r="2.1" fill="#efa274"/>
<circle cx="630.9" cy="128.7" r="2.1" fill="#efa274"/>
<circle cx="640.4" cy="128.7" r="2.1" fill="#efa274"/>
<circle cx="649.9" cy="126.9" r="2.1" fill="#efa274"/>
<circle cx="659.4" cy="127.3" r="2.1" fill="#efa274"/>
<circle cx="668.9" cy="125.5" r="2.1" fill="#efa274"/>
<circle cx="678.4" cy="125.5" r="2.1" fill="#efa274"/>
<rect x="578.7" y="18.5" width="102.1" height="29" fill="#fff" stroke="#333" stroke-width="0.9"/>
<circle cx="586" cy="26.9" r="2.3" fill="#c65a28"/>
<circle cx="586" cy="40" r="2.3" fill="#efa274"/>
<text x="590" y="30.5" font-size="10.55" text-anchor="start" fill="#2e2e2e">N + 1-1000 RNA</text>
<text x="590" y="43.4" font-size="10.55" text-anchor="start" fill="#2e2e2e">pN + 1-1000 RNA</text>
<text x="1.5" y="190.5" font-size="13.5" text-anchor="start" fill="#111" font-weight="bold">d</text>
<line x1="35.1" y1="203" x2="35.1" y2="355.4" stroke="#6a6a6a" stroke-width="1.1"/>
<line x1="35.1" y1="355.4" x2="228.4" y2="355.4" stroke="#6a6a6a" stroke-width="1.1"/>
<line x1="35.1" y1="355.4" x2="37.6" y2="355.4" stroke="#6a6a6a" stroke-width="1"/>
<line x1="35.1" y1="344" x2="36.6" y2="344" stroke="#6a6a6a" stroke-width="0.8"/>
<line x1="35.1" y1="337.33" x2="36.6" y2="337.33" stroke="#6a6a6a" stroke-width="0.8"/>
<line x1="35.1" y1="332.6" x2="36.6" y2="332.6" stroke="#6a6a6a" stroke-width="0.8"/>
<line x1="35.1" y1="328.93" x2="36.6" y2="328.93" stroke="#6a6a6a" stroke-width="0.8"/>
<line x1="35.1" y1="325.93" x2="36.6" y2="325.93" stroke="#6a6a6a" stroke-width="0.8"/>
<line x1="35.1" y1="323.4" x2="36.6" y2="323.4" stroke="#6a6a6a" stroke-width="0.8"/>
<line x1="35.1" y1="321.2" x2="36.6" y2="321.2" stroke="#6a6a6a" stroke-width="0.8"/>
<line x1="35.1" y1="319.26" x2="36.6" y2="319.26" stroke="#6a6a6a" stroke-width="0.8"/>
<text x="33" y="358.8" font-size="9" text-anchor="end" fill="#262626">10<tspan font-size="5.58" dy="-3.42">-6</tspan></text>
<line x1="35.1" y1="317.53" x2="37.6" y2="317.53" stroke="#6a6a6a" stroke-width="1"/>
<line x1="35.1" y1="306.13" x2="36.6" y2="306.13" stroke="#6a6a6a" stroke-width="0.8"/>
<line x1="35.1" y1="299.46" x2="36.6" y2="299.46" stroke="#6a6a6a" stroke-width="0.8"/>
<line x1="35.1" y1="294.73" x2="36.6" y2="294.73" stroke="#6a6a6a" stroke-width="0.8"/>
<line x1="35.1" y1="291.06" x2="36.6" y2="291.06" stroke="#6a6a6a" stroke-width="0.8"/>
<line x1="35.1" y1="288.06" x2="36.6" y2="288.06" stroke="#6a6a6a" stroke-width="0.8"/>
<line x1="35.1" y1="285.53" x2="36.6" y2="285.53" stroke="#6a6a6a" stroke-width="0.8"/>
<line x1="35.1" y1="283.33" x2="36.6" y2="283.33" stroke="#6a6a6a" stroke-width="0.8"/>
<line x1="35.1" y1="281.39" x2="36.6" y2="281.39" stroke="#6a6a6a" stroke-width="0.8"/>
<text x="33" y="321.2" font-size="9" text-anchor="end" fill="#262626">10<tspan font-size="5.58" dy="-3.42">-5</tspan></text>
<line x1="35.1" y1="279.66" x2="37.6" y2="279.66" stroke="#6a6a6a" stroke-width="1"/>
<line x1="35.1" y1="268.26" x2="36.6" y2="268.26" stroke="#6a6a6a" stroke-width="0.8"/>
<line x1="35.1" y1="261.59" x2="36.6" y2="261.59" stroke="#6a6a6a" stroke-width="0.8"/>
<line x1="35.1" y1="256.86" x2="36.6" y2="256.86" stroke="#6a6a6a" stroke-width="0.8"/>
<line x1="35.1" y1="253.19" x2="36.6" y2="253.19" stroke="#6a6a6a" stroke-width="0.8"/>
<line x1="35.1" y1="250.19" x2="36.6" y2="250.19" stroke="#6a6a6a" stroke-width="0.8"/>
<line x1="35.1" y1="247.66" x2="36.6" y2="247.66" stroke="#6a6a6a" stroke-width="0.8"/>
<line x1="35.1" y1="245.46" x2="36.6" y2="245.46" stroke="#6a6a6a" stroke-width="0.8"/>
<line x1="35.1" y1="243.52" x2="36.6" y2="243.52" stroke="#6a6a6a" stroke-width="0.8"/>
<text x="33" y="283.6" font-size="9" text-anchor="end" fill="#262626">10<tspan font-size="5.58" dy="-3.42">-4</tspan></text>
<line x1="35.1" y1="241.79" x2="37.6" y2="241.79" stroke="#6a6a6a" stroke-width="1"/>
<line x1="35.1" y1="230.39" x2="36.6" y2="230.39" stroke="#6a6a6a" stroke-width="0.8"/>
<line x1="35.1" y1="223.72" x2="36.6" y2="223.72" stroke="#6a6a6a" stroke-width="0.8"/>
<line x1="35.1" y1="218.99" x2="36.6" y2="218.99" stroke="#6a6a6a" stroke-width="0.8"/>
<line x1="35.1" y1="215.32" x2="36.6" y2="215.32" stroke="#6a6a6a" stroke-width="0.8"/>
<line x1="35.1" y1="212.32" x2="36.6" y2="212.32" stroke="#6a6a6a" stroke-width="0.8"/>
<line x1="35.1" y1="209.79" x2="36.6" y2="209.79" stroke="#6a6a6a" stroke-width="0.8"/>
<line x1="35.1" y1="207.59" x2="36.6" y2="207.59" stroke="#6a6a6a" stroke-width="0.8"/>
<line x1="35.1" y1="205.65" x2="36.6" y2="205.65" stroke="#6a6a6a" stroke-width="0.8"/>
<text x="33" y="246" font-size="9" text-anchor="end" fill="#262626">10<tspan font-size="5.58" dy="-3.42">-3</tspan></text>
<line x1="35.1" y1="203.92" x2="37.6" y2="203.92" stroke="#6a6a6a" stroke-width="1"/>
<text x="33" y="208.4" font-size="9" text-anchor="end" fill="#262626">10<tspan font-size="5.58" dy="-3.42">-2</tspan></text>
<line x1="35.1" y1="355.4" x2="35.1" y2="352.9" stroke="#6a6a6a" stroke-width="1"/>
<line x1="56.65" y1="355.4" x2="56.65" y2="353.9" stroke="#6a6a6a" stroke-width="0.8"/>
<line x1="69.26" y1="355.4" x2="69.26" y2="353.9" stroke="#6a6a6a" stroke-width="0.8"/>
<line x1="78.21" y1="355.4" x2="78.21" y2="353.9" stroke="#6a6a6a" stroke-width="0.8"/>
<line x1="85.15" y1="355.4" x2="85.15" y2="353.9" stroke="#6a6a6a" stroke-width="0.8"/>
<line x1="90.82" y1="355.4" x2="90.82" y2="353.9" stroke="#6a6a6a" stroke-width="0.8"/>
<line x1="95.61" y1="355.4" x2="95.61" y2="353.9" stroke="#6a6a6a" stroke-width="0.8"/>
<line x1="99.76" y1="355.4" x2="99.76" y2="353.9" stroke="#6a6a6a" stroke-width="0.8"/>
<line x1="103.42" y1="355.4" x2="103.42" y2="353.9" stroke="#6a6a6a" stroke-width="0.8"/>
<line x1="106.7" y1="355.4" x2="106.7" y2="352.9" stroke="#6a6a6a" stroke-width="1"/>
<line x1="128.25" y1="355.4" x2="128.25" y2="353.9" stroke="#6a6a6a" stroke-width="0.8"/>
<line x1="140.86" y1="355.4" x2="140.86" y2="353.9" stroke="#6a6a6a" stroke-width="0.8"/>
<line x1="149.81" y1="355.4" x2="149.81" y2="353.9" stroke="#6a6a6a" stroke-width="0.8"/>
<line x1="156.75" y1="355.4" x2="156.75" y2="353.9" stroke="#6a6a6a" stroke-width="0.8"/>
<line x1="162.42" y1="355.4" x2="162.42" y2="353.9" stroke="#6a6a6a" stroke-width="0.8"/>
<line x1="167.21" y1="355.4" x2="167.21" y2="353.9" stroke="#6a6a6a" stroke-width="0.8"/>
<line x1="171.36" y1="355.4" x2="171.36" y2="353.9" stroke="#6a6a6a" stroke-width="0.8"/>
<line x1="175.02" y1="355.4" x2="175.02" y2="353.9" stroke="#6a6a6a" stroke-width="0.8"/>
<line x1="178.3" y1="355.4" x2="178.3" y2="352.9" stroke="#6a6a6a" stroke-width="1"/>
<line x1="199.85" y1="355.4" x2="199.85" y2="353.9" stroke="#6a6a6a" stroke-width="0.8"/>
<line x1="212.46" y1="355.4" x2="212.46" y2="353.9" stroke="#6a6a6a" stroke-width="0.8"/>
<line x1="221.41" y1="355.4" x2="221.41" y2="353.9" stroke="#6a6a6a" stroke-width="0.8"/>
<line x1="228.35" y1="355.4" x2="228.35" y2="353.9" stroke="#6a6a6a" stroke-width="0.8"/>
<text x="36" y="369" font-size="9" text-anchor="start" fill="#262626">10<tspan font-size="5.58" dy="-3.42">-2</tspan></text>
<text x="107" y="369" font-size="9" text-anchor="middle" fill="#262626">10<tspan font-size="5.58" dy="-3.42">-1</tspan></text>
<text x="178.6" y="369" font-size="9" text-anchor="middle" fill="#262626">10<tspan font-size="5.58" dy="-3.42">0</tspan></text>
<text x="99.4" y="383" font-size="10.5" text-anchor="start" fill="#2e2e2e">Lag time, τ (s)</text>
<text transform="translate(13.3,279.4) rotate(-90)" font-size="10.5" text-anchor="middle" fill="#2e2e2e">MSD (μm<tspan font-size="6.5" dy="-3.8">2</tspan><tspan dy="3.8">)</tspan></text>
<circle cx="37.44" cy="334.8" r="1.95" fill="#bd9f4c"/>
<circle cx="58.99" cy="331.94" r="1.95" fill="#bd9f4c"/>
<circle cx="71.6" cy="329.84" r="1.95" fill="#bd9f4c"/>
<circle cx="80.54" cy="327.61" r="1.95" fill="#bd9f4c"/>
<circle cx="87.48" cy="326.44" r="1.95" fill="#bd9f4c"/>
<circle cx="93.15" cy="325.45" r="1.95" fill="#bd9f4c"/>
<circle cx="97.94" cy="323.62" r="1.95" fill="#bd9f4c"/>
<circle cx="102.1" cy="322.27" r="1.95" fill="#bd9f4c"/>
<circle cx="105.76" cy="321.28" r="1.95" fill="#bd9f4c"/>
<circle cx="109.04" cy="320.3" r="1.95" fill="#bd9f4c"/>
<circle cx="112" cy="319.38" r="1.95" fill="#bd9f4c"/>
<circle cx="114.7" cy="318.44" r="1.95" fill="#bd9f4c"/>
<circle cx="117.19" cy="317.51" r="1.95" fill="#bd9f4c"/>
<circle cx="119.5" cy="316.6" r="1.95" fill="#bd9f4c"/>
<circle cx="121.64" cy="315.73" r="1.95" fill="#bd9f4c"/>
<circle cx="123.65" cy="314.9" r="1.95" fill="#bd9f4c"/>
<circle cx="125.54" cy="314.12" r="1.95" fill="#bd9f4c"/>
<circle cx="127.31" cy="313.38" r="1.95" fill="#bd9f4c"/>
<circle cx="128.99" cy="312.67" r="1.95" fill="#bd9f4c"/>
<circle cx="130.59" cy="312" r="1.95" fill="#bd9f4c"/>
<circle cx="132.11" cy="311.36" r="1.95" fill="#bd9f4c"/>
<circle cx="133.55" cy="310.74" r="1.95" fill="#bd9f4c"/>
<circle cx="134.94" cy="310.16" r="1.95" fill="#bd9f4c"/>
<circle cx="136.26" cy="309.59" r="1.95" fill="#bd9f4c"/>
<circle cx="137.53" cy="309.05" r="1.95" fill="#bd9f4c"/>
<circle cx="138.75" cy="308.53" r="1.95" fill="#bd9f4c"/>
<polyline points="138.75,308.53 139.92,308.03 141.05,307.54 142.14,307.07 143.2,306.62 144.22,306.18 146.16,305.34 147.99,304.55 149.72,303.81 151.36,303.1 152.91,302.42 154.39,301.78 155.81,301.16 157.16,300.57 158.45,300 159.7,299.45 160.89,298.93 162.05,298.42 163.16,297.93 164.23,297.46 165.27,297 166.27,296.55 167.71,295.91 169.1,295.29 170.42,294.7 171.69,294.13 172.91,293.58 174.08,293.05 175.21,292.54 176.31,292.04 177.36,291.56 178.38,291.09 179.69,290.49 180.94,289.91 182.15,289.35 183.32,288.81 184.44,288.28 185.52,287.77 186.56,287.28 187.57,286.8 188.79,286.22 189.97,285.65 191.1,285.1 192.19,284.57 193.24,284.05 194.26,283.54 195.44,282.95 196.58,282.38 197.68,281.82 198.74,281.28 199.76,280.76 200.92,280.17 202.03,279.6 203.11,279.05 204.15,278.52 205.15,278.01 206.26,277.44 207.34,276.9 208.37,276.37 209.38,275.87 210.47,275.32 211.52,274.8 212.54,274.3 213.64,273.78 214.69,273.28 215.72,272.8 216.8,272.3 217.86,271.84 218.87,271.39 219.94,270.92 220.98,270.48 221.98,270.06 223.04,269.63 224.05,269.22 225.11,268.79 226.14,268.38 227.2,267.95 228.22,267.53 228.29,267.5" fill="none" stroke="#bd9f4c" stroke-width="3.9" stroke-linejoin="round" stroke-linecap="round"/>
<circle cx="37.44" cy="331.8" r="1.95" fill="#c65a28"/>
<circle cx="58.99" cy="331.31" r="1.95" fill="#c65a28"/>
<circle cx="71.6" cy="330.13" r="1.95" fill="#c65a28"/>
<circle cx="80.54" cy="328.71" r="1.95" fill="#c65a28"/>
<circle cx="87.48" cy="327.6" r="1.95" fill="#c65a28"/>
<circle cx="93.15" cy="326.55" r="1.95" fill="#c65a28"/>
<circle cx="97.94" cy="325.61" r="1.95" fill="#c65a28"/>
<circle cx="102.1" cy="324.68" r="1.95" fill="#c65a28"/>
<circle cx="105.76" cy="323.85" r="1.95" fill="#c65a28"/>
<circle cx="109.04" cy="323.22" r="1.95" fill="#c65a28"/>
<circle cx="112" cy="322.65" r="1.95" fill="#c65a28"/>
<circle cx="114.7" cy="322.07" r="1.95" fill="#c65a28"/>
<circle cx="117.19" cy="321.49" r="1.95" fill="#c65a28"/>
<circle cx="119.5" cy="320.92" r="1.95" fill="#c65a28"/>
<circle cx="121.64" cy="320.39" r="1.95" fill="#c65a28"/>
<circle cx="123.65" cy="319.9" r="1.95" fill="#c65a28"/>
<circle cx="125.54" cy="319.44" r="1.95" fill="#c65a28"/>
<circle cx="127.31" cy="319.01" r="1.95" fill="#c65a28"/>
<circle cx="128.99" cy="318.61" r="1.95" fill="#c65a28"/>
<circle cx="130.59" cy="318.22" r="1.95" fill="#c65a28"/>
<circle cx="132.11" cy="317.85" r="1.95" fill="#c65a28"/>
<circle cx="133.55" cy="317.49" r="1.95" fill="#c65a28"/>
<circle cx="134.94" cy="317.15" r="1.95" fill="#c65a28"/>
<circle cx="136.26" cy="316.82" r="1.95" fill="#c65a28"/>
<circle cx="137.53" cy="316.51" r="1.95" fill="#c65a28"/>
<circle cx="138.75" cy="316.2" r="1.95" fill="#c65a28"/>
<polyline points="138.75,316.2 139.92,315.9 141.05,315.61 142.14,315.32 143.2,315.04 144.22,314.78 146.16,314.25 147.99,313.75 149.72,313.26 151.36,312.79 152.91,312.32 154.39,311.87 155.81,311.42 157.16,310.98 158.45,310.54 159.7,310.1 160.89,309.67 162.05,309.24 163.16,308.82 164.23,308.4 165.27,307.99 166.27,307.59 167.71,306.98 169.1,306.4 170.42,305.82 171.69,305.27 172.91,304.72 174.08,304.18 175.21,303.66 176.31,303.15 177.36,302.65 178.38,302.17 179.69,301.54 180.94,300.93 182.15,300.35 183.32,299.78 184.44,299.23 185.52,298.71 186.56,298.2 187.57,297.71 188.79,297.11 189.97,296.53 191.1,295.96 192.19,295.41 193.24,294.86 194.26,294.33 195.44,293.71 196.58,293.11 197.68,292.52 198.74,291.95 199.76,291.39 200.92,290.76 202.03,290.15 203.11,289.56 204.15,288.99 205.15,288.43 206.26,287.82 207.34,287.22 208.37,286.65 209.38,286.1 210.47,285.5 211.52,284.93 212.54,284.38 213.64,283.79 214.69,283.24 215.72,282.7 216.8,282.14 217.86,281.59 218.87,281.07 219.94,280.52 220.98,279.99 221.98,279.48 223.04,278.95 224.05,278.44 225.11,277.91 226.14,277.39 227.2,276.86 228.22,276.34 228.29,276.3" fill="none" stroke="#c65a28" stroke-width="3.9" stroke-linejoin="round" stroke-linecap="round"/>
<circle cx="37.44" cy="333.1" r="1.95" fill="#eba27c"/>
<circle cx="58.99" cy="330.15" r="1.95" fill="#eba27c"/>
<circle cx="71.6" cy="326.96" r="1.95" fill="#eba27c"/>
<circle cx="80.54" cy="323.42" r="1.95" fill="#eba27c"/>
<circle cx="87.48" cy="320.81" r="1.95" fill="#eba27c"/>
<circle cx="93.15" cy="319.28" r="1.95" fill="#eba27c"/>
<circle cx="97.94" cy="317.22" r="1.95" fill="#eba27c"/>
<circle cx="102.1" cy="315.77" r="1.95" fill="#eba27c"/>
<circle cx="105.76" cy="314.78" r="1.95" fill="#eba27c"/>
<circle cx="109.04" cy="313.75" r="1.95" fill="#eba27c"/>
<circle cx="112" cy="312.79" r="1.95" fill="#eba27c"/>
<circle cx="114.7" cy="311.88" r="1.95" fill="#eba27c"/>
<circle cx="117.19" cy="311" r="1.95" fill="#eba27c"/>
<circle cx="119.5" cy="310.18" r="1.95" fill="#eba27c"/>
<circle cx="121.64" cy="309.41" r="1.95" fill="#eba27c"/>
<circle cx="123.65" cy="308.69" r="1.95" fill="#eba27c"/>
<circle cx="125.54" cy="308.01" r="1.95" fill="#eba27c"/>
<circle cx="127.31" cy="307.37" r="1.95" fill="#eba27c"/>
<circle cx="128.99" cy="306.76" r="1.95" fill="#eba27c"/>
<circle cx="130.59" cy="306.19" r="1.95" fill="#eba27c"/>
<circle cx="132.11" cy="305.64" r="1.95" fill="#eba27c"/>
<circle cx="133.55" cy="305.12" r="1.95" fill="#eba27c"/>
<circle cx="134.94" cy="304.62" r="1.95" fill="#eba27c"/>
<circle cx="136.26" cy="304.13" r="1.95" fill="#eba27c"/>
<circle cx="137.53" cy="303.67" r="1.95" fill="#eba27c"/>
<circle cx="138.75" cy="303.23" r="1.95" fill="#eba27c"/>
<polyline points="138.75,303.23 139.92,302.79 141.05,302.38 142.14,301.98 143.2,301.59 144.22,301.21 146.16,300.48 147.99,299.79 149.72,299.14 151.36,298.51 152.91,297.91 154.39,297.34 155.81,296.78 157.16,296.24 158.45,295.71 159.7,295.2 160.89,294.71 162.05,294.23 163.16,293.76 164.23,293.31 165.27,292.86 166.27,292.43 167.71,291.8 169.1,291.19 170.42,290.6 171.69,290.04 172.91,289.49 174.08,288.95 175.21,288.43 176.31,287.93 177.36,287.44 178.38,286.97 179.69,286.36 180.94,285.77 182.15,285.19 183.32,284.64 184.44,284.11 185.52,283.59 186.56,283.09 187.57,282.6 188.79,282.01 189.97,281.44 191.1,280.89 192.19,280.34 193.24,279.81 194.26,279.3 195.44,278.7 196.58,278.11 197.68,277.55 198.74,277 199.76,276.47 200.92,275.86 202.03,275.28 203.11,274.71 204.15,274.17 205.15,273.63 206.26,273.05 207.34,272.48 208.37,271.93 209.38,271.41 210.47,270.83 211.52,270.28 212.54,269.75 213.64,269.19 214.69,268.65 215.72,268.12 216.8,267.57 217.86,267.04 218.87,266.53 219.94,265.98 220.98,265.46 221.98,264.96 223.04,264.43 224.05,263.92 225.11,263.39 226.14,262.88 227.2,262.35 228.22,261.84 228.29,261.8" fill="none" stroke="#eba27c" stroke-width="3.9" stroke-linejoin="round" stroke-linecap="round"/>
<circle cx="40.09" cy="325.53" r="1.95" fill="#4a7ec2"/>
<circle cx="52.7" cy="322.27" r="1.95" fill="#4a7ec2"/>
<circle cx="61.64" cy="317.28" r="1.95" fill="#4a7ec2"/>
<circle cx="68.58" cy="314.32" r="1.95" fill="#4a7ec2"/>
<circle cx="74.25" cy="311.73" r="1.95" fill="#4a7ec2"/>
<circle cx="79.04" cy="309.3" r="1.95" fill="#4a7ec2"/>
<circle cx="83.2" cy="308" r="1.95" fill="#4a7ec2"/>
<circle cx="86.86" cy="305.76" r="1.95" fill="#4a7ec2"/>
<circle cx="90.13" cy="304.23" r="1.95" fill="#4a7ec2"/>
<circle cx="93.1" cy="302.82" r="1.95" fill="#4a7ec2"/>
<circle cx="95.8" cy="301.53" r="1.95" fill="#4a7ec2"/>
<circle cx="98.29" cy="300.34" r="1.95" fill="#4a7ec2"/>
<circle cx="100.6" cy="299.24" r="1.95" fill="#4a7ec2"/>
<circle cx="102.74" cy="298.21" r="1.95" fill="#4a7ec2"/>
<circle cx="104.75" cy="297.25" r="1.95" fill="#4a7ec2"/>
<circle cx="106.63" cy="296.35" r="1.95" fill="#4a7ec2"/>
<circle cx="108.41" cy="295.5" r="1.95" fill="#4a7ec2"/>
<circle cx="110.09" cy="294.69" r="1.95" fill="#4a7ec2"/>
<circle cx="111.69" cy="293.92" r="1.95" fill="#4a7ec2"/>
<circle cx="113.21" cy="293.2" r="1.95" fill="#4a7ec2"/>
<circle cx="114.65" cy="292.5" r="1.95" fill="#4a7ec2"/>
<circle cx="116.03" cy="291.84" r="1.95" fill="#4a7ec2"/>
<circle cx="117.36" cy="291.2" r="1.95" fill="#4a7ec2"/>
<circle cx="118.63" cy="290.59" r="1.95" fill="#4a7ec2"/>
<circle cx="119.85" cy="290" r="1.95" fill="#4a7ec2"/>
<polyline points="119.85,290 121.02,289.43 122.15,288.89 123.24,288.36 124.3,287.85 125.32,287.36 127.26,286.42 129.09,285.53 130.82,284.69 132.45,283.9 134.01,283.14 135.49,282.41 136.9,281.72 138.26,281.06 139.55,280.42 140.8,279.8 141.99,279.21 143.14,278.63 144.26,278.07 145.33,277.53 146.36,277.01 147.37,276.49 148.81,275.75 150.2,275.04 151.52,274.35 152.79,273.69 154.01,273.05 155.18,272.44 156.31,271.85 157.4,271.27 158.46,270.72 159.48,270.19 160.79,269.5 162.04,268.85 163.25,268.22 164.41,267.62 165.53,267.04 166.62,266.49 167.66,265.96 168.67,265.45 169.89,264.84 171.07,264.25 172.2,263.69 173.29,263.15 174.34,262.62 175.36,262.12 176.54,261.55 177.68,260.99 178.78,260.46 179.84,259.95 180.86,259.45 182.02,258.89 183.13,258.36 184.21,257.84 185.25,257.34 186.25,256.86 187.36,256.33 188.43,255.81 189.47,255.32 190.47,254.84 191.57,254.32 192.62,253.81 193.64,253.33 194.73,252.81 195.79,252.3 196.82,251.82 197.9,251.3 198.95,250.8 199.97,250.32 201.04,249.81 202.08,249.32 203.08,248.84 204.13,248.34 205.15,247.86 206.21,247.36 207.24,246.87 208.3,246.37 209.32,245.88 210.38,245.38 211.41,244.9 212.46,244.4 213.48,243.92 214.52,243.43 215.53,242.95 216.56,242.46 217.61,241.97 218.62,241.49 219.65,241 220.7,240.5 221.71,240.03 222.73,239.54 223.76,239.05 224.8,238.56 225.81,238.08 226.82,237.6 227.84,237.12 228.28,236.91" fill="none" stroke="#4a7ec2" stroke-width="3.9" stroke-linejoin="round" stroke-linecap="round"/>
<circle cx="37.44" cy="329.58" r="1.95" fill="#f6d67c"/>
<circle cx="58.99" cy="320.33" r="1.95" fill="#f6d67c"/>
<circle cx="71.6" cy="314.79" r="1.95" fill="#f6d67c"/>
<circle cx="80.54" cy="310.33" r="1.95" fill="#f6d67c"/>
<circle cx="87.48" cy="307.41" r="1.95" fill="#f6d67c"/>
<circle cx="93.15" cy="304.82" r="1.95" fill="#f6d67c"/>
<circle cx="97.94" cy="302.48" r="1.95" fill="#f6d67c"/>
<circle cx="102.1" cy="300.21" r="1.95" fill="#f6d67c"/>
<circle cx="105.76" cy="298.42" r="1.95" fill="#f6d67c"/>
<circle cx="109.04" cy="296.63" r="1.95" fill="#f6d67c"/>
<circle cx="112" cy="295.13" r="1.95" fill="#f6d67c"/>
<circle cx="114.7" cy="293.76" r="1.95" fill="#f6d67c"/>
<circle cx="117.19" cy="292.5" r="1.95" fill="#f6d67c"/>
<circle cx="119.5" cy="291.34" r="1.95" fill="#f6d67c"/>
<circle cx="121.64" cy="290.26" r="1.95" fill="#f6d67c"/>
<circle cx="123.65" cy="289.25" r="1.95" fill="#f6d67c"/>
<circle cx="125.54" cy="288.3" r="1.95" fill="#f6d67c"/>
<circle cx="127.31" cy="287.4" r="1.95" fill="#f6d67c"/>
<circle cx="128.99" cy="286.55" r="1.95" fill="#f6d67c"/>
<circle cx="130.59" cy="285.75" r="1.95" fill="#f6d67c"/>
<circle cx="132.11" cy="284.98" r="1.95" fill="#f6d67c"/>
<circle cx="133.55" cy="284.25" r="1.95" fill="#f6d67c"/>
<circle cx="134.94" cy="283.56" r="1.95" fill="#f6d67c"/>
<circle cx="136.26" cy="282.89" r="1.95" fill="#f6d67c"/>
<circle cx="137.53" cy="282.25" r="1.95" fill="#f6d67c"/>
<circle cx="138.75" cy="281.63" r="1.95" fill="#f6d67c"/>
<polyline points="138.75,281.63 139.92,281.04 141.05,280.47 142.14,279.92 143.2,279.39 144.22,278.88 146.16,277.91 147.99,277 149.72,276.14 151.36,275.32 152.91,274.55 154.39,273.81 155.81,273.1 157.16,272.43 158.45,271.78 159.7,271.15 160.89,270.55 162.05,269.97 163.16,269.4 164.23,268.86 165.27,268.33 166.27,267.82 167.71,267.08 169.1,266.36 170.42,265.68 171.69,265.02 172.91,264.39 174.08,263.78 175.21,263.19 176.31,262.61 177.36,262.06 178.38,261.52 179.69,260.83 180.94,260.17 182.15,259.53 183.32,258.91 184.44,258.32 185.52,257.74 186.56,257.18 187.57,256.65 188.79,256 189.97,255.37 191.1,254.77 192.19,254.18 193.24,253.62 194.26,253.07 195.44,252.44 196.58,251.83 197.68,251.25 198.74,250.68 199.76,250.13 200.92,249.51 202.03,248.91 203.11,248.33 204.15,247.78 205.15,247.24 206.26,246.64 207.34,246.06 208.37,245.51 209.38,244.97 210.47,244.38 211.52,243.82 212.54,243.27 213.64,242.68 214.69,242.11 215.72,241.56 216.8,240.98 217.86,240.41 218.87,239.86 219.94,239.29 220.98,238.73 221.98,238.19 223.04,237.62 224.05,237.08 225.11,236.51 226.14,235.96 227.2,235.39 228.22,234.84 228.29,234.8" fill="none" stroke="#f6d67c" stroke-width="3.9" stroke-linejoin="round" stroke-linecap="round"/>
<circle cx="37.44" cy="319.58" r="1.95" fill="#7eb0df"/>
<circle cx="58.99" cy="307.57" r="1.95" fill="#7eb0df"/>
<circle cx="71.6" cy="300.71" r="1.95" fill="#7eb0df"/>
<circle cx="80.54" cy="295.53" r="1.95" fill="#7eb0df"/>
<circle cx="87.48" cy="291.81" r="1.95" fill="#7eb0df"/>
<circle cx="93.15" cy="288.83" r="1.95" fill="#7eb0df"/>
<circle cx="97.94" cy="286.18" r="1.95" fill="#7eb0df"/>
<circle cx="102.1" cy="284.1" r="1.95" fill="#7eb0df"/>
<circle cx="105.76" cy="282.13" r="1.95" fill="#7eb0df"/>
<circle cx="109.04" cy="280.33" r="1.95" fill="#7eb0df"/>
<circle cx="112" cy="278.9" r="1.95" fill="#7eb0df"/>
<circle cx="114.7" cy="277.52" r="1.95" fill="#7eb0df"/>
<circle cx="117.19" cy="276.24" r="1.95" fill="#7eb0df"/>
<circle cx="119.5" cy="275.05" r="1.95" fill="#7eb0df"/>
<circle cx="121.64" cy="273.94" r="1.95" fill="#7eb0df"/>
<circle cx="123.65" cy="272.91" r="1.95" fill="#7eb0df"/>
<circle cx="125.54" cy="271.94" r="1.95" fill="#7eb0df"/>
<circle cx="127.31" cy="271.02" r="1.95" fill="#7eb0df"/>
<circle cx="128.99" cy="270.16" r="1.95" fill="#7eb0df"/>
<circle cx="130.59" cy="269.34" r="1.95" fill="#7eb0df"/>
<circle cx="132.11" cy="268.56" r="1.95" fill="#7eb0df"/>
<circle cx="133.55" cy="267.81" r="1.95" fill="#7eb0df"/>
<circle cx="134.94" cy="267.1" r="1.95" fill="#7eb0df"/>
<circle cx="136.26" cy="266.42" r="1.95" fill="#7eb0df"/>
<circle cx="137.53" cy="265.77" r="1.95" fill="#7eb0df"/>
<circle cx="138.75" cy="265.14" r="1.95" fill="#7eb0df"/>
<polyline points="138.75,265.14 139.92,264.54 141.05,263.96 142.14,263.4 143.2,262.87 144.22,262.35 146.16,261.36 147.99,260.44 149.72,259.56 151.36,258.73 152.91,257.95 154.39,257.2 155.81,256.48 157.16,255.8 158.45,255.14 159.7,254.5 160.89,253.89 162.05,253.31 163.16,252.74 164.23,252.19 165.27,251.66 166.27,251.14 167.71,250.39 169.1,249.68 170.42,248.99 171.69,248.33 172.91,247.69 174.08,247.08 175.21,246.49 176.31,245.91 177.36,245.36 178.38,244.82 179.69,244.13 180.94,243.47 182.15,242.83 183.32,242.21 184.44,241.62 185.52,241.04 186.56,240.49 187.57,239.95 188.79,239.3 189.97,238.68 191.1,238.08 192.19,237.5 193.24,236.93 194.26,236.39 195.44,235.76 196.58,235.15 197.68,234.57 198.74,234 199.76,233.46 200.92,232.84 202.03,232.24 203.11,231.67 204.15,231.12 205.15,230.58 206.26,229.98 207.34,229.41 208.37,228.86 209.38,228.32 210.47,227.74 211.52,227.17 212.54,226.63 213.64,226.04 214.69,225.48 215.72,224.93 216.8,224.35 217.86,223.78 218.87,223.24 219.94,222.67 220.98,222.11 221.98,221.57 223.04,221.01 224.05,220.47 225.11,219.9 226.14,219.35 227.2,218.79 228.22,218.24 228.29,218.2" fill="none" stroke="#7eb0df" stroke-width="3.9" stroke-linejoin="round" stroke-linecap="round"/>
<rect x="46.6" y="183.9" width="90.6" height="71.1" fill="#fff" stroke="#777" stroke-width="1"/>
<line x1="58" y1="183.9" x2="58" y2="185.4" stroke="#777" stroke-width="0.8"/>
<line x1="58" y1="255" x2="58" y2="253.5" stroke="#777" stroke-width="0.8"/>
<line x1="69.2" y1="183.9" x2="69.2" y2="185.4" stroke="#777" stroke-width="0.8"/>
<line x1="69.2" y1="255" x2="69.2" y2="253.5" stroke="#777" stroke-width="0.8"/>
<line x1="80.7" y1="183.9" x2="80.7" y2="185.4" stroke="#777" stroke-width="0.8"/>
<line x1="80.7" y1="255" x2="80.7" y2="253.5" stroke="#777" stroke-width="0.8"/>
<line x1="91.9" y1="183.9" x2="91.9" y2="185.4" stroke="#777" stroke-width="0.8"/>
<line x1="91.9" y1="255" x2="91.9" y2="253.5" stroke="#777" stroke-width="0.8"/>
<line x1="103.1" y1="183.9" x2="103.1" y2="185.4" stroke="#777" stroke-width="0.8"/>
<line x1="103.1" y1="255" x2="103.1" y2="253.5" stroke="#777" stroke-width="0.8"/>
<line x1="114.8" y1="183.9" x2="114.8" y2="185.4" stroke="#777" stroke-width="0.8"/>
<line x1="114.8" y1="255" x2="114.8" y2="253.5" stroke="#777" stroke-width="0.8"/>
<line x1="126" y1="183.9" x2="126" y2="185.4" stroke="#777" stroke-width="0.8"/>
<line x1="126" y1="255" x2="126" y2="253.5" stroke="#777" stroke-width="0.8"/>
<line x1="46.6" y1="195.7" x2="48.1" y2="195.7" stroke="#777" stroke-width="0.8"/>
<line x1="137.2" y1="195.7" x2="135.7" y2="195.7" stroke="#777" stroke-width="0.8"/>
<line x1="46.6" y1="207.6" x2="48.1" y2="207.6" stroke="#777" stroke-width="0.8"/>
<line x1="137.2" y1="207.6" x2="135.7" y2="207.6" stroke="#777" stroke-width="0.8"/>
<line x1="46.6" y1="219.2" x2="48.1" y2="219.2" stroke="#777" stroke-width="0.8"/>
<line x1="137.2" y1="219.2" x2="135.7" y2="219.2" stroke="#777" stroke-width="0.8"/>
<line x1="46.6" y1="231.2" x2="48.1" y2="231.2" stroke="#777" stroke-width="0.8"/>
<line x1="137.2" y1="231.2" x2="135.7" y2="231.2" stroke="#777" stroke-width="0.8"/>
<line x1="46.6" y1="243.1" x2="48.1" y2="243.1" stroke="#777" stroke-width="0.8"/>
<line x1="137.2" y1="243.1" x2="135.7" y2="243.1" stroke="#777" stroke-width="0.8"/>
<polygon points="49.72,214.55 51.22,214.41 52.4,213.57 53.92,213.27 54.92,211.83 55.3,209.72 55.94,209.66 56.64,207.67 57.29,205.45 57.01,203.76 57.6,202.68 58.38,201.23 60.12,200.73 60.07,199.23 60.8,198.02 60.99,196.1 62.58,196.62 64.12,196.74 66.44,195.7 67.79,195.54 68.81,194.97 70.98,194.57 72.77,194.91 73.95,194.02 75.45,193.07 76.54,193.95 77.22,195.56 76.82,193.92 77.44,192.42 77.92,190.86 77.81,189.13 77.31,188 79.15,187.98 80.43,189.33 82.92,189.27 84.7,189.36 85.29,187.95 86.18,189.63 85.8,191.01 85.3,192.5 83.54,193.1 83.54,194.75 82.55,195.81 82.29,197.23 81.2,199.57 82.98,200.36 84.29,200.46 85.54,201 86.9,201.15 88.52,201.15 89.82,200.34 91.34,200.48 92.46,200.08 93.97,200.81 95.5,199.71 97.15,200.72 97.35,202.96 98.72,204.07 100,204.69 101.22,206.17 101.94,208.15 103.05,208.28 104.16,206.9 103.87,205.41 103.53,203.91 103.64,201.88 105.51,202.24 105.82,201.51 107.92,201.83 108.45,203.93 109.81,203.07 110.75,202.82 111.46,201.17 112.16,199.98 113.68,200.32 115.35,201.29 117.07,202.65 118.68,202.29 119.6,203.78 121.05,203.67 122.24,204.71 123.52,205.03 124.9,204.44 125.32,205.97 127.16,206.3 127.84,207.5 127.35,209 128.58,210.26 128.31,211.56 127.98,212.86 127.66,214.2 128.69,215.5 129.19,216.91 128.23,218.4 128.77,220.05 127.44,221.29 127.2,222.85 127.9,224.27 127.65,225.59 127.43,226.92 127.41,228.04 126.03,227.73 125.65,226.45 125.42,225.13 124.28,223.56 124.17,225.33 123.55,226.85 122.4,228.1 122.4,229.65 122.55,231.13 121.94,232.1 121.48,233.59 120.45,234.57 121.15,235.97 120.34,237.19 119.92,238.49 121.05,239.81 120.39,241.27 119.15,242.71 118.73,244.62 117.22,246.08 115.65,245.58 114.28,244.52 112.43,244.48 111.06,245.05 110.53,245.94 108.44,245.92 106.73,244.53 107.18,242.76 106.89,240.81 104.97,240.73 103.93,239.47 103.65,237.94 102.84,236.75 101.67,235.72 100.53,234.87 98.93,234.46 97.38,233.78 95.59,233.9 93.92,232.78 92.5,233.3 92.52,234.92 90.83,236.42 89.47,236.49 88.34,237.47 87,237.94 85.84,237.25 84.66,237.35 82.8,236.03 81.47,235.17 80.23,234.32 78.24,234.14 77,232.9 75.37,231.86 73.19,233.06 73.66,234.59 72.83,235.98 73.24,238.03 71.88,237.76 70.52,237.26 69.15,236.88 67.79,237.58 66,237.61 65.52,236.35 65.83,234.9 65.16,234.01 63.59,231.67 62.14,231.38 60.1,231.79 59.83,229.51 62.03,227.61 61.29,226.24 60.9,224.48 59.22,224.08 57.58,223.01 57.59,221.51 57.5,219.55 56.5,220.82 55.16,221.19 53.67,221.52 52.94,220.3 52.2,219.09 52.09,217.31 50.23,216.57" fill="#eba57d" stroke="#eba57d" stroke-width="0.8" stroke-linejoin="miter"/>
<polygon points="71.43,200.84 72.58,200.21 73.02,199.21 73.59,198.28 73.68,197.11 73.99,196.45 74.98,197.16 76.38,197.6 76.08,198.85 76.13,200.08 76.39,201.28 76.64,202.46 75.18,202.65 73.64,202.58 72.62,201.92" fill="#fff" stroke="#eba57d" stroke-width="0.9"/>
<polygon points="62.26,229.51 63.22,228.93 63.65,227.95 64.61,227.37 64.75,226.16 65.92,225.74 66.41,224.81 66.67,224.12 67.66,225.08 68.54,225.79 68.64,227.12 68.92,228.47 68.37,229.52 67.2,229.98 66.04,229.88 64.87,229.59 63.71,229.7" fill="#fff" stroke="#eba57d" stroke-width="0.9"/>
<polygon points="66.92,234.03 67.97,234.57 69.09,234.43 70.21,234.33 71.47,234.49 71.52,235.68 72.26,236.55 71.05,236.3 69.83,236.65 68.62,236.77 67.43,236.52 67.4,235.26" fill="#fff" stroke="#eba57d" stroke-width="0.9"/>
<polygon points="78.69,189.6 79.72,190.54 80.69,190.77 80.61,192.08 80.44,193.37 80.25,194.98 79.87,193.9 79.36,193.2 78.55,192.16 78.57,191" fill="#fff" stroke="#eba57d" stroke-width="0.9"/>
<polygon points="51.43,215.44 52.31,216.12 53.32,216.53 54.29,217.09 53.38,217.64 52.45,218.71 52,217.72 51.57,216.72" fill="#fff" stroke="#eba57d" stroke-width="0.9"/>
<polygon points="118.01,225.55 118.96,225.18 120.17,225.54 120.75,224.78 121.05,225.93 120.43,226.8 120.29,227.82 119.99,228.79 119.45,229.76 119.31,228.71 118.89,227.75 118.36,226.84" fill="#fff" stroke="#eba57d" stroke-width="0.9"/>
<polygon points="108.46,241.16 109.64,241.75 111.08,242.51 110.28,243.32 109.98,244.23 109.26,243.38 108.56,242.51" fill="#fff" stroke="#eba57d" stroke-width="0.9"/>
<polygon points="124.53,209.06 125.44,209.68 126.3,210.22 125.68,211.13 125.31,212.24 125.3,211.16 124.84,210.23" fill="#fff" stroke="#eba57d" stroke-width="0.9"/>
<polygon points="91.37,230.64 92.6,231.09 93.78,231.67 92.94,232.28 92.26,233.14 91.98,231.85" fill="#fff" stroke="#eba57d" stroke-width="0.9"/>
<polygon points="61.51,228.63 63.91,227.23 63.99,229.81" fill="#fff" opacity="0.85"/>
<polygon points="118.68,225.24 118.87,223.58 120.04,224.5" fill="#fff" opacity="0.85"/>
<polygon points="78.08,216.68 76.2,217.52 77.09,215.49" fill="#fff" opacity="0.85"/>
<polygon points="109.09,231.48 110.9,233.34 108.2,233.62" fill="#fff" opacity="0.85"/>
<polygon points="66.27,223.11 68.95,223.9 67.29,225.36" fill="#fff" opacity="0.85"/>
<polygon points="111.01,208.5 113.04,210.69 110.12,211.44" fill="#fff" opacity="0.85"/>
<polygon points="119.5,218.24 118.5,216.12 121,216.29" fill="#fff" opacity="0.85"/>
<polygon points="71.32,206.23 69.07,204.67 71.26,203.94" fill="#fff" opacity="0.85"/>
<polygon points="91.56,231.92 90.72,230.67 92.18,230.39" fill="#fff" opacity="0.85"/>
<polygon points="116.63,207.65 116.06,204.95 118.29,205.74" fill="#fff" opacity="0.85"/>
<polygon points="97.51,202.55 96.13,204.52 94.99,202.24" fill="#fff" opacity="0.85"/>
<polygon points="62.83,197.71 64.33,199.48 62.04,199.59" fill="#fff" opacity="0.85"/>
<polygon points="63.34,229.01 65.02,230.07 62.88,230.95" fill="#fff" opacity="0.85"/>
<polygon points="73.03,228.47 75.88,228.26 74.86,230.73" fill="#fff" opacity="0.85"/>
<polygon points="111.58,214.58 109.06,215.75 109.35,213.09" fill="#fff" opacity="0.85"/>
<polygon points="69.17,227.84 71.24,230.17 68.03,230.25" fill="#fff" opacity="0.85"/>
<polygon points="56.78,214.86 58.08,216.96 55.57,217" fill="#fff" opacity="0.85"/>
<polygon points="106.19,227.78 104.99,229.42 104.43,228.02" fill="#fff" opacity="0.85"/>
<polygon points="75.48,207.21 73.41,206.21 75.39,205.16" fill="#fff" opacity="0.85"/>
<polygon points="75.94,227.5 75,224.67 77.8,225.31" fill="#fff" opacity="0.85"/>
<polygon points="64.73,224.13 65.47,222.09 66.98,223.4" fill="#fff" opacity="0.85"/>
<polygon points="81.34,204 79.82,205.09 79.43,203.27" fill="#fff" opacity="0.85"/>
<polygon points="80.03,194.22 80.48,197.37 77.46,196.36" fill="#fff" opacity="0.85"/>
<polygon points="114.38,236.55 114.23,239.68 111.68,236.88" fill="#fff" opacity="0.85"/>
<polygon points="112.82,224.22 114.73,222.25 115.55,225.07" fill="#fff" opacity="0.85"/>
<polygon points="56.16,219.51 53.71,217.95 56.51,217.01" fill="#fff" opacity="0.85"/>
<polygon points="123.22,218.51 124.88,220.24 122.88,221.01" fill="#fff" opacity="0.85"/>
<polygon points="78.38,220.83 76.26,219.01 78.93,218.34" fill="#fff" opacity="0.85"/>
<polygon points="112.86,240.37 111.12,242.72 110.26,240.99" fill="#fff" opacity="0.85"/>
<polygon points="77.99,222.66 78.87,225.07 76.28,225.16" fill="#fff" opacity="0.85"/>
<polygon points="110.45,233.15 110.33,229.88 113.01,231.86" fill="#fff" opacity="0.85"/>
<polygon points="121.42,218.99 124.3,217.42 123.78,220.67" fill="#fff" opacity="0.85"/>
<polygon points="87.4,203.76 89.15,202.32 89.56,204.87" fill="#fff" opacity="0.85"/>
<polygon points="103.99,222.03 101.55,223.48 101.69,221.24" fill="#fff" opacity="0.85"/>
<polygon points="76.17,209.73 77.99,209.92 79.58,209.82 81.14,209.53 82.05,208.11 83.57,207.9 84.89,207.25 86.23,207.63 87.46,207.46 88.52,206.44 89.9,206.91 91.2,206.44 92.37,205.4 93.77,205.35 95.15,204.63 96.39,205.22 97.51,206.04 98.26,207.24 99.33,208.12 100.67,209.21 101.85,210.52 102.97,211.06 104.18,211.19 105.48,212.33 106.67,211.36 107.99,211.39 109.3,212.1 110.73,211.25 112.01,211.48 113.38,212.75 111.81,212.02 110.76,213.29 109.35,213.85 107.89,212.7 106.9,213.42 105.01,214.95 104.74,216.25 104.09,217.3 102.98,218.67 102.47,220.39 101.3,220.97 101.01,222.6 99.36,222.65 98.64,223.87 97.46,224.64 97.09,226.22 95.48,226.55 94.32,227.34 94.22,229.18 92.64,229.89 91.9,228.68 91.01,227.33 89.29,227.63 87.65,227.13 86.73,226.15 85.7,225.19 84.56,224.53 83.15,224.51 81.93,224.06 80.48,223.53 78.87,222.97 78.57,221.58 77.73,220.35 77.91,218.82 78.15,217.28 77.02,216.14 76.97,214.68 75.71,213.67 75.93,212.26 76.27,211.07" fill="#c65f2d" stroke="#c65f2d" stroke-width="0.6"/>
<rect x="1" y="389.1" width="247.3" height="33.7" fill="#fff" stroke="#444" stroke-width="1"/>
<circle cx="7.2" cy="399.8" r="2.3" fill="#4a7ec2"/>
<text x="12.1" y="403.4" font-size="10.5" text-anchor="start" fill="#2e2e2e">N + 5% PEG</text>
<circle cx="7.2" cy="414.6" r="2.3" fill="#7eb0df"/>
<text x="12.1" y="418.2" font-size="10.5" text-anchor="start" fill="#2e2e2e">pN + 5% PEG</text>
<circle cx="85" cy="399.8" r="2.3" fill="#bd9f4c"/>
<text x="89.9" y="403.4" font-size="10.5" text-anchor="start" fill="#2e2e2e">N + polyrA</text>
<circle cx="85" cy="414.6" r="2.3" fill="#f6d67c"/>
<text x="89.9" y="418.2" font-size="10.5" text-anchor="start" fill="#2e2e2e">pN + polyrA</text>
<circle cx="154.7" cy="399.8" r="2.3" fill="#c65a28"/>
<text x="159.6" y="403.4" font-size="10.5" text-anchor="start" fill="#2e2e2e">N + 1-1000 RNA</text>
<circle cx="154.7" cy="414.6" r="2.3" fill="#eba27c"/>
<text x="159.6" y="418.2" font-size="10.5" text-anchor="start" fill="#2e2e2e">pN + 1-1000 RNA</text>
<text x="251" y="190.4" font-size="13.5" text-anchor="start" fill="#111" font-weight="bold">e</text>
<text x="371.2" y="193.7" font-size="10.5" text-anchor="middle" fill="#2e2e2e">N + 1-1000 RNA</text>
<text transform="translate(264.4,270.5) rotate(-90)" font-size="10.5" text-anchor="middle" fill="#2e2e2e">G’, G’’ (Pa)</text>
<text x="375.4" y="384.2" font-size="10.5" text-anchor="middle" fill="#2e2e2e">Frequency (1/s)</text>
<path d="M 303.4,277 C 304.33,276.37 307.07,274.37 309,273.2 C 310.93,272.03 313,271.03 315,270 C 317,268.97 319,268.03 321,267 C 323,265.97 325,264.87 327,263.8 C 329,262.73 332,261.13 333,260.6" fill="none" stroke="#f3c3c3" stroke-width="3.4" stroke-linecap="butt" stroke-linejoin="round" stroke-linecap="round"/>
<polygon points="303.2,276 306,276 306,292 303.2,292" fill="#f6d2d2"/>
<polygon points="303.6,284 309.8,283.5 315.7,280.5 321.6,276 327.5,271 333.4,264.5 339.3,260.5 345.2,257.5 351.1,255.5 357,254 366,251.5 366,255 360,259 354.5,264 348.6,270 342.7,276.5 336.8,287 332.6,293 327.5,299.5 322,303.5 316,306 309.8,304.5 303.6,300.5" fill="#c3c6e0" opacity="0.9"/>
<line x1="331.83" y1="288.62" x2="331.83" y2="320.87" stroke="#c3c6e0" stroke-width="0.85"/>
<line x1="330.33" y1="320.87" x2="333.33" y2="320.87" stroke="#c3c6e0" stroke-width="0.85"/>
<line x1="332.66" y1="287.87" x2="332.66" y2="312.13" stroke="#c3c6e0" stroke-width="0.85"/>
<line x1="331.16" y1="312.13" x2="334.16" y2="312.13" stroke="#c3c6e0" stroke-width="0.85"/>
<line x1="315.12" y1="300.72" x2="315.12" y2="332.1" stroke="#c3c6e0" stroke-width="0.85"/>
<line x1="313.62" y1="332.1" x2="316.62" y2="332.1" stroke="#c3c6e0" stroke-width="0.85"/>
<line x1="353.08" y1="262.88" x2="353.08" y2="265.93" stroke="#c3c6e0" stroke-width="0.85"/>
<line x1="351.58" y1="265.93" x2="354.58" y2="265.93" stroke="#c3c6e0" stroke-width="0.85"/>
<line x1="309.26" y1="297.29" x2="309.26" y2="320.09" stroke="#c3c6e0" stroke-width="0.85"/>
<line x1="307.76" y1="320.09" x2="310.76" y2="320.09" stroke="#c3c6e0" stroke-width="0.85"/>
<line x1="306.21" y1="294.29" x2="306.21" y2="318.05" stroke="#c3c6e0" stroke-width="0.85"/>
<line x1="304.71" y1="318.05" x2="307.71" y2="318.05" stroke="#c3c6e0" stroke-width="0.85"/>
<line x1="344.4" y1="268.93" x2="344.4" y2="275.07" stroke="#c3c6e0" stroke-width="0.85"/>
<line x1="342.9" y1="275.07" x2="345.9" y2="275.07" stroke="#c3c6e0" stroke-width="0.85"/>
<line x1="304.54" y1="295.93" x2="304.54" y2="303.54" stroke="#c3c6e0" stroke-width="0.85"/>
<line x1="303.04" y1="303.54" x2="306.04" y2="303.54" stroke="#c3c6e0" stroke-width="0.85"/>
<line x1="315.47" y1="302.42" x2="315.47" y2="310.15" stroke="#c3c6e0" stroke-width="0.85"/>
<line x1="313.97" y1="310.15" x2="316.97" y2="310.15" stroke="#c3c6e0" stroke-width="0.85"/>
<line x1="332.55" y1="288.42" x2="332.55" y2="317.33" stroke="#c3c6e0" stroke-width="0.85"/>
<line x1="331.05" y1="317.33" x2="334.05" y2="317.33" stroke="#c3c6e0" stroke-width="0.85"/>
<line x1="335.99" y1="282.31" x2="335.99" y2="292.57" stroke="#c3c6e0" stroke-width="0.85"/>
<line x1="334.49" y1="292.57" x2="337.49" y2="292.57" stroke="#c3c6e0" stroke-width="0.85"/>
<line x1="344.94" y1="269.29" x2="344.94" y2="274.64" stroke="#c3c6e0" stroke-width="0.85"/>
<line x1="343.44" y1="274.64" x2="346.44" y2="274.64" stroke="#c3c6e0" stroke-width="0.85"/>
<line x1="365.85" y1="247.12" x2="365.85" y2="255.55" stroke="#c3c6e0" stroke-width="0.85"/>
<line x1="364.35" y1="255.55" x2="367.35" y2="255.55" stroke="#c3c6e0" stroke-width="0.85"/>
<line x1="347.77" y1="267.03" x2="347.77" y2="271.36" stroke="#c3c6e0" stroke-width="0.85"/>
<line x1="346.27" y1="271.36" x2="349.27" y2="271.36" stroke="#c3c6e0" stroke-width="0.85"/>
<line x1="321.64" y1="301.23" x2="321.64" y2="334.11" stroke="#c3c6e0" stroke-width="0.85"/>
<line x1="320.14" y1="334.11" x2="323.14" y2="334.11" stroke="#c3c6e0" stroke-width="0.85"/>
<line x1="328.58" y1="291.04" x2="328.58" y2="320.37" stroke="#c3c6e0" stroke-width="0.85"/>
<line x1="327.08" y1="320.37" x2="330.08" y2="320.37" stroke="#c3c6e0" stroke-width="0.85"/>
<line x1="363.38" y1="249.66" x2="363.38" y2="256.75" stroke="#c3c6e0" stroke-width="0.85"/>
<line x1="361.88" y1="256.75" x2="364.88" y2="256.75" stroke="#c3c6e0" stroke-width="0.85"/>
<line x1="316.69" y1="298.25" x2="316.69" y2="328.11" stroke="#c3c6e0" stroke-width="0.85"/>
<line x1="315.19" y1="328.11" x2="318.19" y2="328.11" stroke="#c3c6e0" stroke-width="0.85"/>
<line x1="364.77" y1="251.43" x2="364.77" y2="255.92" stroke="#c3c6e0" stroke-width="0.85"/>
<line x1="363.27" y1="255.92" x2="366.27" y2="255.92" stroke="#c3c6e0" stroke-width="0.85"/>
<line x1="342.88" y1="269.63" x2="342.88" y2="276.98" stroke="#c3c6e0" stroke-width="0.85"/>
<line x1="341.38" y1="276.98" x2="344.38" y2="276.98" stroke="#c3c6e0" stroke-width="0.85"/>
<line x1="309.04" y1="300.01" x2="309.04" y2="323.17" stroke="#c3c6e0" stroke-width="0.85"/>
<line x1="307.54" y1="323.17" x2="310.54" y2="323.17" stroke="#c3c6e0" stroke-width="0.85"/>
<line x1="350.9" y1="264.95" x2="350.9" y2="268.09" stroke="#c3c6e0" stroke-width="0.85"/>
<line x1="349.4" y1="268.09" x2="352.4" y2="268.09" stroke="#c3c6e0" stroke-width="0.85"/>
<line x1="309.91" y1="302.17" x2="309.91" y2="322.8" stroke="#c3c6e0" stroke-width="0.85"/>
<line x1="308.41" y1="322.8" x2="311.41" y2="322.8" stroke="#c3c6e0" stroke-width="0.85"/>
<line x1="314.69" y1="300.33" x2="314.69" y2="326.88" stroke="#c3c6e0" stroke-width="0.85"/>
<line x1="313.19" y1="326.88" x2="316.19" y2="326.88" stroke="#c3c6e0" stroke-width="0.85"/>
<line x1="315.5" y1="299.49" x2="315.5" y2="316.23" stroke="#c3c6e0" stroke-width="0.85"/>
<line x1="314" y1="316.23" x2="317" y2="316.23" stroke="#c3c6e0" stroke-width="0.85"/>
<line x1="343.77" y1="272.62" x2="343.77" y2="276.16" stroke="#c3c6e0" stroke-width="0.85"/>
<line x1="342.27" y1="276.16" x2="345.27" y2="276.16" stroke="#c3c6e0" stroke-width="0.85"/>
<line x1="316.88" y1="302.01" x2="316.88" y2="339.69" stroke="#c3c6e0" stroke-width="0.85"/>
<line x1="315.38" y1="339.69" x2="318.38" y2="339.69" stroke="#c3c6e0" stroke-width="0.85"/>
<line x1="353.73" y1="260.96" x2="353.73" y2="265.71" stroke="#c3c6e0" stroke-width="0.85"/>
<line x1="352.23" y1="265.71" x2="355.23" y2="265.71" stroke="#c3c6e0" stroke-width="0.85"/>
<line x1="316.75" y1="301.32" x2="316.75" y2="337.59" stroke="#c3c6e0" stroke-width="0.85"/>
<line x1="315.25" y1="337.59" x2="318.25" y2="337.59" stroke="#c3c6e0" stroke-width="0.85"/>
<line x1="343.65" y1="272.85" x2="343.65" y2="276.86" stroke="#c3c6e0" stroke-width="0.85"/>
<line x1="342.15" y1="276.86" x2="345.15" y2="276.86" stroke="#c3c6e0" stroke-width="0.85"/>
<line x1="316.91" y1="302.07" x2="316.91" y2="335.26" stroke="#c3c6e0" stroke-width="0.85"/>
<line x1="315.41" y1="335.26" x2="318.41" y2="335.26" stroke="#c3c6e0" stroke-width="0.85"/>
<line x1="324.13" y1="298.18" x2="324.13" y2="310.18" stroke="#c3c6e0" stroke-width="0.85"/>
<line x1="322.63" y1="310.18" x2="325.63" y2="310.18" stroke="#c3c6e0" stroke-width="0.85"/>
<line x1="309.22" y1="298.63" x2="309.22" y2="312.61" stroke="#c3c6e0" stroke-width="0.85"/>
<line x1="307.72" y1="312.61" x2="310.72" y2="312.61" stroke="#c3c6e0" stroke-width="0.85"/>
<line x1="341.12" y1="275.08" x2="341.12" y2="280.84" stroke="#c3c6e0" stroke-width="0.85"/>
<line x1="339.62" y1="280.84" x2="342.62" y2="280.84" stroke="#c3c6e0" stroke-width="0.85"/>
<line x1="363.45" y1="251.8" x2="363.45" y2="257.06" stroke="#c3c6e0" stroke-width="0.85"/>
<line x1="361.95" y1="257.06" x2="364.95" y2="257.06" stroke="#c3c6e0" stroke-width="0.85"/>
<line x1="357.67" y1="258.02" x2="357.67" y2="261.35" stroke="#c3c6e0" stroke-width="0.85"/>
<line x1="356.17" y1="261.35" x2="359.17" y2="261.35" stroke="#c3c6e0" stroke-width="0.85"/>
<line x1="360.29" y1="251.9" x2="360.29" y2="259.03" stroke="#c3c6e0" stroke-width="0.85"/>
<line x1="358.79" y1="259.03" x2="361.79" y2="259.03" stroke="#c3c6e0" stroke-width="0.85"/>
<line x1="315.44" y1="299.43" x2="315.44" y2="339.59" stroke="#c3c6e0" stroke-width="0.85"/>
<line x1="313.94" y1="339.59" x2="316.94" y2="339.59" stroke="#c3c6e0" stroke-width="0.85"/>
<line x1="315.87" y1="298.27" x2="315.87" y2="338.76" stroke="#c3c6e0" stroke-width="0.85"/>
<line x1="314.37" y1="338.76" x2="317.37" y2="338.76" stroke="#c3c6e0" stroke-width="0.85"/>
<line x1="341.26" y1="274.53" x2="341.26" y2="279.67" stroke="#c3c6e0" stroke-width="0.85"/>
<line x1="339.76" y1="279.67" x2="342.76" y2="279.67" stroke="#c3c6e0" stroke-width="0.85"/>
<line x1="306.01" y1="294.28" x2="306.01" y2="308.81" stroke="#c3c6e0" stroke-width="0.85"/>
<line x1="304.51" y1="308.81" x2="307.51" y2="308.81" stroke="#c3c6e0" stroke-width="0.85"/>
<line x1="347.57" y1="267.6" x2="347.57" y2="272.11" stroke="#c3c6e0" stroke-width="0.85"/>
<line x1="346.07" y1="272.11" x2="349.07" y2="272.11" stroke="#c3c6e0" stroke-width="0.85"/>
<line x1="340.82" y1="276.09" x2="340.82" y2="280.77" stroke="#c3c6e0" stroke-width="0.85"/>
<line x1="339.32" y1="280.77" x2="342.32" y2="280.77" stroke="#c3c6e0" stroke-width="0.85"/>
<line x1="348.55" y1="267.64" x2="348.55" y2="270.47" stroke="#c3c6e0" stroke-width="0.85"/>
<line x1="347.05" y1="270.47" x2="350.05" y2="270.47" stroke="#c3c6e0" stroke-width="0.85"/>
<line x1="338.5" y1="276.85" x2="338.5" y2="286.97" stroke="#c3c6e0" stroke-width="0.85"/>
<line x1="337" y1="286.97" x2="340" y2="286.97" stroke="#c3c6e0" stroke-width="0.85"/>
<line x1="321.09" y1="296.38" x2="321.09" y2="317.45" stroke="#c3c6e0" stroke-width="0.85"/>
<line x1="319.59" y1="317.45" x2="322.59" y2="317.45" stroke="#c3c6e0" stroke-width="0.85"/>
<line x1="304.63" y1="297.55" x2="304.63" y2="309.43" stroke="#c3c6e0" stroke-width="0.85"/>
<line x1="303.13" y1="309.43" x2="306.13" y2="309.43" stroke="#c3c6e0" stroke-width="0.85"/>
<line x1="307.37" y1="299.88" x2="307.37" y2="312.6" stroke="#c3c6e0" stroke-width="0.85"/>
<line x1="305.87" y1="312.6" x2="308.87" y2="312.6" stroke="#c3c6e0" stroke-width="0.85"/>
<line x1="339.3" y1="279.76" x2="339.3" y2="284.47" stroke="#c3c6e0" stroke-width="0.85"/>
<line x1="337.8" y1="284.47" x2="340.8" y2="284.47" stroke="#c3c6e0" stroke-width="0.85"/>
<line x1="359.19" y1="251.85" x2="359.19" y2="260.18" stroke="#c3c6e0" stroke-width="0.85"/>
<line x1="357.69" y1="260.18" x2="360.69" y2="260.18" stroke="#c3c6e0" stroke-width="0.85"/>
<line x1="346.73" y1="266.55" x2="346.73" y2="272.41" stroke="#c3c6e0" stroke-width="0.85"/>
<line x1="345.23" y1="272.41" x2="348.23" y2="272.41" stroke="#c3c6e0" stroke-width="0.85"/>
<line x1="305.79" y1="299.8" x2="305.79" y2="316.62" stroke="#c3c6e0" stroke-width="0.85"/>
<line x1="304.29" y1="316.62" x2="307.29" y2="316.62" stroke="#c3c6e0" stroke-width="0.85"/>
<line x1="347.34" y1="263.61" x2="347.34" y2="271.5" stroke="#c3c6e0" stroke-width="0.85"/>
<line x1="345.84" y1="271.5" x2="348.84" y2="271.5" stroke="#c3c6e0" stroke-width="0.85"/>
<line x1="343.3" y1="270.95" x2="343.3" y2="277.04" stroke="#c3c6e0" stroke-width="0.85"/>
<line x1="341.8" y1="277.04" x2="344.8" y2="277.04" stroke="#c3c6e0" stroke-width="0.85"/>
<line x1="323.5" y1="294.41" x2="323.5" y2="310.44" stroke="#c3c6e0" stroke-width="0.85"/>
<line x1="322" y1="310.44" x2="325" y2="310.44" stroke="#c3c6e0" stroke-width="0.85"/>
<line x1="337.68" y1="279.02" x2="337.68" y2="289.96" stroke="#c3c6e0" stroke-width="0.85"/>
<line x1="336.18" y1="289.96" x2="339.18" y2="289.96" stroke="#c3c6e0" stroke-width="0.85"/>
<line x1="349.59" y1="262.77" x2="349.59" y2="269.86" stroke="#c3c6e0" stroke-width="0.85"/>
<line x1="348.09" y1="269.86" x2="351.09" y2="269.86" stroke="#c3c6e0" stroke-width="0.85"/>
<line x1="360.7" y1="254.42" x2="360.7" y2="258.93" stroke="#c3c6e0" stroke-width="0.85"/>
<line x1="359.2" y1="258.93" x2="362.2" y2="258.93" stroke="#c3c6e0" stroke-width="0.85"/>
<line x1="359.81" y1="251.94" x2="359.81" y2="259.48" stroke="#c3c6e0" stroke-width="0.85"/>
<line x1="358.31" y1="259.48" x2="361.31" y2="259.48" stroke="#c3c6e0" stroke-width="0.85"/>
<line x1="352.93" y1="258.42" x2="352.93" y2="266.31" stroke="#c3c6e0" stroke-width="0.85"/>
<line x1="351.43" y1="266.31" x2="354.43" y2="266.31" stroke="#c3c6e0" stroke-width="0.85"/>
<line x1="342.6" y1="272.39" x2="342.6" y2="277.81" stroke="#c3c6e0" stroke-width="0.85"/>
<line x1="341.1" y1="277.81" x2="344.1" y2="277.81" stroke="#c3c6e0" stroke-width="0.85"/>
<line x1="341.59" y1="275.99" x2="341.59" y2="280.13" stroke="#c3c6e0" stroke-width="0.85"/>
<line x1="340.09" y1="280.13" x2="343.09" y2="280.13" stroke="#c3c6e0" stroke-width="0.85"/>
<line x1="365.58" y1="248" x2="365.58" y2="255.69" stroke="#c3c6e0" stroke-width="0.85"/>
<line x1="364.08" y1="255.69" x2="367.08" y2="255.69" stroke="#c3c6e0" stroke-width="0.85"/>
<line x1="327.84" y1="292.66" x2="327.84" y2="329.68" stroke="#c3c6e0" stroke-width="0.85"/>
<line x1="326.34" y1="329.68" x2="329.34" y2="329.68" stroke="#c3c6e0" stroke-width="0.85"/>
<line x1="331.09" y1="287.9" x2="331.09" y2="301.59" stroke="#c3c6e0" stroke-width="0.85"/>
<line x1="329.59" y1="301.59" x2="332.59" y2="301.59" stroke="#c3c6e0" stroke-width="0.85"/>
<line x1="350.41" y1="265.98" x2="350.41" y2="268.89" stroke="#c3c6e0" stroke-width="0.85"/>
<line x1="348.91" y1="268.89" x2="351.91" y2="268.89" stroke="#c3c6e0" stroke-width="0.85"/>
<line x1="333.61" y1="288.17" x2="333.61" y2="307.91" stroke="#c3c6e0" stroke-width="0.85"/>
<line x1="332.11" y1="307.91" x2="335.11" y2="307.91" stroke="#c3c6e0" stroke-width="0.85"/>
<line x1="334.63" y1="284.42" x2="334.63" y2="302.89" stroke="#c3c6e0" stroke-width="0.85"/>
<line x1="333.13" y1="302.89" x2="336.13" y2="302.89" stroke="#c3c6e0" stroke-width="0.85"/>
<line x1="319.56" y1="302.45" x2="319.56" y2="320.05" stroke="#c3c6e0" stroke-width="0.85"/>
<line x1="318.06" y1="320.05" x2="321.06" y2="320.05" stroke="#c3c6e0" stroke-width="0.85"/>
<line x1="345.92" y1="269.74" x2="345.92" y2="273.38" stroke="#c3c6e0" stroke-width="0.85"/>
<line x1="344.42" y1="273.38" x2="347.42" y2="273.38" stroke="#c3c6e0" stroke-width="0.85"/>
<line x1="360.12" y1="252.96" x2="360.12" y2="259.23" stroke="#c3c6e0" stroke-width="0.85"/>
<line x1="358.62" y1="259.23" x2="361.62" y2="259.23" stroke="#c3c6e0" stroke-width="0.85"/>
<line x1="359.24" y1="255.73" x2="359.24" y2="260.13" stroke="#c3c6e0" stroke-width="0.85"/>
<line x1="357.74" y1="260.13" x2="360.74" y2="260.13" stroke="#c3c6e0" stroke-width="0.85"/>
<line x1="315.99" y1="301.41" x2="315.99" y2="337.15" stroke="#c3c6e0" stroke-width="0.85"/>
<line x1="314.49" y1="337.15" x2="317.49" y2="337.15" stroke="#c3c6e0" stroke-width="0.85"/>
<line x1="360.65" y1="251.29" x2="360.65" y2="258.85" stroke="#c3c6e0" stroke-width="0.85"/>
<line x1="359.15" y1="258.85" x2="362.15" y2="258.85" stroke="#c3c6e0" stroke-width="0.85"/>
<line x1="339.99" y1="277.43" x2="339.99" y2="282.28" stroke="#c3c6e0" stroke-width="0.85"/>
<line x1="338.49" y1="282.28" x2="341.49" y2="282.28" stroke="#c3c6e0" stroke-width="0.85"/>
<line x1="334.58" y1="283.15" x2="334.58" y2="302.67" stroke="#c3c6e0" stroke-width="0.85"/>
<line x1="333.08" y1="302.67" x2="336.08" y2="302.67" stroke="#c3c6e0" stroke-width="0.85"/>
<line x1="347.98" y1="262.98" x2="347.98" y2="271.17" stroke="#c3c6e0" stroke-width="0.85"/>
<line x1="346.48" y1="271.17" x2="349.48" y2="271.17" stroke="#c3c6e0" stroke-width="0.85"/>
<line x1="314.15" y1="300.85" x2="314.15" y2="321.15" stroke="#c3c6e0" stroke-width="0.85"/>
<line x1="312.65" y1="321.15" x2="315.65" y2="321.15" stroke="#c3c6e0" stroke-width="0.85"/>
<line x1="316.96" y1="301.12" x2="316.96" y2="331.6" stroke="#c3c6e0" stroke-width="0.85"/>
<line x1="315.46" y1="331.6" x2="318.46" y2="331.6" stroke="#c3c6e0" stroke-width="0.85"/>
<line x1="334.42" y1="286.51" x2="334.42" y2="303.83" stroke="#c3c6e0" stroke-width="0.85"/>
<line x1="332.92" y1="303.83" x2="335.92" y2="303.83" stroke="#c3c6e0" stroke-width="0.85"/>
<line x1="364.88" y1="251.03" x2="364.88" y2="255.85" stroke="#c3c6e0" stroke-width="0.85"/>
<line x1="363.38" y1="255.85" x2="366.38" y2="255.85" stroke="#c3c6e0" stroke-width="0.85"/>
<line x1="305.56" y1="294.53" x2="305.56" y2="304.01" stroke="#c3c6e0" stroke-width="0.85"/>
<line x1="304.06" y1="304.01" x2="307.06" y2="304.01" stroke="#c3c6e0" stroke-width="0.85"/>
<line x1="347.82" y1="265.44" x2="347.82" y2="271.39" stroke="#c3c6e0" stroke-width="0.85"/>
<line x1="346.32" y1="271.39" x2="349.32" y2="271.39" stroke="#c3c6e0" stroke-width="0.85"/>
<line x1="352.99" y1="263.42" x2="352.99" y2="265.84" stroke="#c3c6e0" stroke-width="0.85"/>
<line x1="351.49" y1="265.84" x2="354.49" y2="265.84" stroke="#c3c6e0" stroke-width="0.85"/>
<line x1="331.98" y1="291.64" x2="331.98" y2="318.74" stroke="#c3c6e0" stroke-width="0.85"/>
<line x1="330.48" y1="318.74" x2="333.48" y2="318.74" stroke="#c3c6e0" stroke-width="0.85"/>
<line x1="318.41" y1="302.15" x2="318.41" y2="309.82" stroke="#c3c6e0" stroke-width="0.85"/>
<line x1="316.91" y1="309.82" x2="319.91" y2="309.82" stroke="#c3c6e0" stroke-width="0.85"/>
<line x1="342.86" y1="271.64" x2="342.86" y2="277.45" stroke="#c3c6e0" stroke-width="0.85"/>
<line x1="341.36" y1="277.45" x2="344.36" y2="277.45" stroke="#c3c6e0" stroke-width="0.85"/>
<line x1="344.47" y1="267.7" x2="344.47" y2="275.86" stroke="#c3c6e0" stroke-width="0.85"/>
<line x1="342.97" y1="275.86" x2="345.97" y2="275.86" stroke="#c3c6e0" stroke-width="0.85"/>
<line x1="346.31" y1="269.32" x2="346.31" y2="273.28" stroke="#c3c6e0" stroke-width="0.85"/>
<line x1="344.81" y1="273.28" x2="347.81" y2="273.28" stroke="#c3c6e0" stroke-width="0.85"/>
<line x1="314.75" y1="303.63" x2="314.75" y2="327.63" stroke="#c3c6e0" stroke-width="0.85"/>
<line x1="313.25" y1="327.63" x2="316.25" y2="327.63" stroke="#c3c6e0" stroke-width="0.85"/>
<line x1="348.16" y1="267.41" x2="348.16" y2="270.96" stroke="#c3c6e0" stroke-width="0.85"/>
<line x1="346.66" y1="270.96" x2="349.66" y2="270.96" stroke="#c3c6e0" stroke-width="0.85"/>
<line x1="325.17" y1="295.01" x2="325.17" y2="330.25" stroke="#c3c6e0" stroke-width="0.85"/>
<line x1="323.67" y1="330.25" x2="326.67" y2="330.25" stroke="#c3c6e0" stroke-width="0.85"/>
<line x1="341.94" y1="271.31" x2="341.94" y2="278.97" stroke="#c3c6e0" stroke-width="0.85"/>
<line x1="340.44" y1="278.97" x2="343.44" y2="278.97" stroke="#c3c6e0" stroke-width="0.85"/>
<line x1="353.02" y1="258.07" x2="353.02" y2="265.74" stroke="#c3c6e0" stroke-width="0.85"/>
<line x1="351.52" y1="265.74" x2="354.52" y2="265.74" stroke="#c3c6e0" stroke-width="0.85"/>
<line x1="361.79" y1="251.47" x2="361.79" y2="257.95" stroke="#c3c6e0" stroke-width="0.85"/>
<line x1="360.29" y1="257.95" x2="363.29" y2="257.95" stroke="#c3c6e0" stroke-width="0.85"/>
<line x1="331.9" y1="288.14" x2="331.9" y2="320.4" stroke="#c3c6e0" stroke-width="0.85"/>
<line x1="330.4" y1="320.4" x2="333.4" y2="320.4" stroke="#c3c6e0" stroke-width="0.85"/>
<line x1="327.11" y1="294.37" x2="327.11" y2="340.18" stroke="#c3c6e0" stroke-width="0.85"/>
<line x1="325.61" y1="340.18" x2="328.61" y2="340.18" stroke="#c3c6e0" stroke-width="0.85"/>
<line x1="353.32" y1="257.54" x2="353.32" y2="265.83" stroke="#c3c6e0" stroke-width="0.85"/>
<line x1="351.82" y1="265.83" x2="354.82" y2="265.83" stroke="#c3c6e0" stroke-width="0.85"/>
<line x1="344.24" y1="271.57" x2="344.24" y2="275.93" stroke="#c3c6e0" stroke-width="0.85"/>
<line x1="342.74" y1="275.93" x2="345.74" y2="275.93" stroke="#c3c6e0" stroke-width="0.85"/>
<line x1="354.66" y1="258" x2="354.66" y2="264.66" stroke="#c3c6e0" stroke-width="0.85"/>
<line x1="353.16" y1="264.66" x2="356.16" y2="264.66" stroke="#c3c6e0" stroke-width="0.85"/>
<line x1="316.91" y1="298.22" x2="316.91" y2="339.8" stroke="#c3c6e0" stroke-width="0.85"/>
<line x1="315.41" y1="339.8" x2="318.41" y2="339.8" stroke="#c3c6e0" stroke-width="0.85"/>
<line x1="364.59" y1="250.72" x2="364.59" y2="256.38" stroke="#c3c6e0" stroke-width="0.85"/>
<line x1="363.09" y1="256.38" x2="366.09" y2="256.38" stroke="#c3c6e0" stroke-width="0.85"/>
<line x1="323.59" y1="294.88" x2="323.59" y2="337" stroke="#c3c6e0" stroke-width="0.85"/>
<line x1="322.09" y1="337" x2="325.09" y2="337" stroke="#c3c6e0" stroke-width="0.85"/>
<line x1="325.35" y1="298.57" x2="325.35" y2="327.73" stroke="#c3c6e0" stroke-width="0.85"/>
<line x1="323.85" y1="327.73" x2="326.85" y2="327.73" stroke="#c3c6e0" stroke-width="0.85"/>
<line x1="337.94" y1="278.36" x2="337.94" y2="287.94" stroke="#c3c6e0" stroke-width="0.85"/>
<line x1="336.44" y1="287.94" x2="339.44" y2="287.94" stroke="#c3c6e0" stroke-width="0.85"/>
<line x1="305.37" y1="294.79" x2="305.37" y2="304.49" stroke="#c3c6e0" stroke-width="0.85"/>
<line x1="303.87" y1="304.49" x2="306.87" y2="304.49" stroke="#c3c6e0" stroke-width="0.85"/>
<line x1="353.51" y1="261.97" x2="353.51" y2="265.52" stroke="#c3c6e0" stroke-width="0.85"/>
<line x1="352.01" y1="265.52" x2="355.01" y2="265.52" stroke="#c3c6e0" stroke-width="0.85"/>
<line x1="352.77" y1="262.92" x2="352.77" y2="266.08" stroke="#c3c6e0" stroke-width="0.85"/>
<line x1="351.27" y1="266.08" x2="354.27" y2="266.08" stroke="#c3c6e0" stroke-width="0.85"/>
<line x1="335.83" y1="282.04" x2="335.83" y2="294.61" stroke="#c3c6e0" stroke-width="0.85"/>
<line x1="334.33" y1="294.61" x2="337.33" y2="294.61" stroke="#c3c6e0" stroke-width="0.85"/>
<line x1="346.62" y1="264.51" x2="346.62" y2="272.95" stroke="#c3c6e0" stroke-width="0.85"/>
<line x1="345.12" y1="272.95" x2="348.12" y2="272.95" stroke="#c3c6e0" stroke-width="0.85"/>
<line x1="362.83" y1="251.99" x2="362.83" y2="254.38" stroke="#c3c6e0" stroke-width="0.85"/>
<line x1="361.33" y1="251.99" x2="364.33" y2="251.99" stroke="#c3c6e0" stroke-width="0.85"/>
<line x1="317.42" y1="276.82" x2="317.42" y2="281.19" stroke="#c3c6e0" stroke-width="0.85"/>
<line x1="315.92" y1="276.82" x2="318.92" y2="276.82" stroke="#c3c6e0" stroke-width="0.85"/>
<line x1="321.71" y1="272.63" x2="321.71" y2="277.91" stroke="#c3c6e0" stroke-width="0.85"/>
<line x1="320.21" y1="272.63" x2="323.21" y2="272.63" stroke="#c3c6e0" stroke-width="0.85"/>
<line x1="343.47" y1="256.03" x2="343.47" y2="260.38" stroke="#c3c6e0" stroke-width="0.85"/>
<line x1="341.97" y1="256.03" x2="344.97" y2="256.03" stroke="#c3c6e0" stroke-width="0.85"/>
<line x1="356.24" y1="251.67" x2="356.24" y2="256.19" stroke="#c3c6e0" stroke-width="0.85"/>
<line x1="354.74" y1="251.67" x2="357.74" y2="251.67" stroke="#c3c6e0" stroke-width="0.85"/>
<line x1="323.05" y1="273.06" x2="323.05" y2="276.77" stroke="#c3c6e0" stroke-width="0.85"/>
<line x1="321.55" y1="273.06" x2="324.55" y2="273.06" stroke="#c3c6e0" stroke-width="0.85"/>
<line x1="356.34" y1="250.11" x2="356.34" y2="256.17" stroke="#c3c6e0" stroke-width="0.85"/>
<line x1="354.84" y1="250.11" x2="357.84" y2="250.11" stroke="#c3c6e0" stroke-width="0.85"/>
<line x1="316.59" y1="275.99" x2="316.59" y2="281.82" stroke="#c3c6e0" stroke-width="0.85"/>
<line x1="315.09" y1="275.99" x2="318.09" y2="275.99" stroke="#c3c6e0" stroke-width="0.85"/>
<line x1="364.03" y1="249.69" x2="364.03" y2="254.05" stroke="#c3c6e0" stroke-width="0.85"/>
<line x1="362.53" y1="249.69" x2="365.53" y2="249.69" stroke="#c3c6e0" stroke-width="0.85"/>
<line x1="339.35" y1="259.57" x2="339.35" y2="262.47" stroke="#c3c6e0" stroke-width="0.85"/>
<line x1="337.85" y1="259.57" x2="340.85" y2="259.57" stroke="#c3c6e0" stroke-width="0.85"/>
<line x1="337.04" y1="259.77" x2="337.04" y2="264.03" stroke="#c3c6e0" stroke-width="0.85"/>
<line x1="335.54" y1="259.77" x2="338.54" y2="259.77" stroke="#c3c6e0" stroke-width="0.85"/>
<line x1="341.37" y1="259.32" x2="341.37" y2="261.45" stroke="#c3c6e0" stroke-width="0.85"/>
<line x1="339.87" y1="259.32" x2="342.87" y2="259.32" stroke="#c3c6e0" stroke-width="0.85"/>
<line x1="364.09" y1="249.71" x2="364.09" y2="254.03" stroke="#c3c6e0" stroke-width="0.85"/>
<line x1="362.59" y1="249.71" x2="365.59" y2="249.71" stroke="#c3c6e0" stroke-width="0.85"/>
<line x1="328.6" y1="266.19" x2="328.6" y2="271.79" stroke="#c3c6e0" stroke-width="0.85"/>
<line x1="327.1" y1="266.19" x2="330.1" y2="266.19" stroke="#c3c6e0" stroke-width="0.85"/>
<line x1="338.72" y1="258.68" x2="338.72" y2="262.89" stroke="#c3c6e0" stroke-width="0.85"/>
<line x1="337.22" y1="258.68" x2="340.22" y2="258.68" stroke="#c3c6e0" stroke-width="0.85"/>
<line x1="346.72" y1="256.69" x2="346.72" y2="258.99" stroke="#c3c6e0" stroke-width="0.85"/>
<line x1="345.22" y1="256.69" x2="348.22" y2="256.69" stroke="#c3c6e0" stroke-width="0.85"/>
<line x1="337.22" y1="260.05" x2="337.22" y2="263.91" stroke="#c3c6e0" stroke-width="0.85"/>
<line x1="335.72" y1="260.05" x2="338.72" y2="260.05" stroke="#c3c6e0" stroke-width="0.85"/>
<line x1="363.31" y1="248.09" x2="363.31" y2="254.25" stroke="#c3c6e0" stroke-width="0.85"/>
<line x1="361.81" y1="248.09" x2="364.81" y2="248.09" stroke="#c3c6e0" stroke-width="0.85"/>
<line x1="320.4" y1="274.79" x2="320.4" y2="278.92" stroke="#c3c6e0" stroke-width="0.85"/>
<line x1="318.9" y1="274.79" x2="321.9" y2="274.79" stroke="#c3c6e0" stroke-width="0.85"/>
<line x1="311.52" y1="280.67" x2="311.52" y2="284.62" stroke="#c3c6e0" stroke-width="0.85"/>
<line x1="310.02" y1="280.67" x2="313.02" y2="280.67" stroke="#c3c6e0" stroke-width="0.85"/>
<line x1="354.5" y1="250.58" x2="354.5" y2="256.64" stroke="#c3c6e0" stroke-width="0.85"/>
<line x1="353" y1="250.58" x2="356" y2="250.58" stroke="#c3c6e0" stroke-width="0.85"/>
<line x1="333.34" y1="263.14" x2="333.34" y2="266.57" stroke="#c3c6e0" stroke-width="0.85"/>
<line x1="331.84" y1="263.14" x2="334.84" y2="263.14" stroke="#c3c6e0" stroke-width="0.85"/>
<line x1="315.55" y1="277.8" x2="315.55" y2="282.58" stroke="#c3c6e0" stroke-width="0.85"/>
<line x1="314.05" y1="277.8" x2="317.05" y2="277.8" stroke="#c3c6e0" stroke-width="0.85"/>
<line x1="361.34" y1="252.21" x2="361.34" y2="254.8" stroke="#c3c6e0" stroke-width="0.85"/>
<line x1="359.84" y1="252.21" x2="362.84" y2="252.21" stroke="#c3c6e0" stroke-width="0.85"/>
<line x1="352.23" y1="255.11" x2="352.23" y2="257.21" stroke="#c3c6e0" stroke-width="0.85"/>
<line x1="350.73" y1="255.11" x2="353.73" y2="255.11" stroke="#c3c6e0" stroke-width="0.85"/>
<line x1="315.71" y1="279.47" x2="315.71" y2="282.49" stroke="#c3c6e0" stroke-width="0.85"/>
<line x1="314.21" y1="279.47" x2="317.21" y2="279.47" stroke="#c3c6e0" stroke-width="0.85"/>
<line x1="346.47" y1="255.62" x2="346.47" y2="259.07" stroke="#c3c6e0" stroke-width="0.85"/>
<line x1="344.97" y1="255.62" x2="347.97" y2="255.62" stroke="#c3c6e0" stroke-width="0.85"/>
<line x1="325.77" y1="269.67" x2="325.77" y2="274.46" stroke="#c3c6e0" stroke-width="0.85"/>
<line x1="324.27" y1="269.67" x2="327.27" y2="269.67" stroke="#c3c6e0" stroke-width="0.85"/>
<line x1="310.14" y1="280.04" x2="310.14" y2="285.32" stroke="#c3c6e0" stroke-width="0.85"/>
<line x1="308.64" y1="280.04" x2="311.64" y2="280.04" stroke="#c3c6e0" stroke-width="0.85"/>
<line x1="311.26" y1="280.46" x2="311.26" y2="284.76" stroke="#c3c6e0" stroke-width="0.85"/>
<line x1="309.76" y1="280.46" x2="312.76" y2="280.46" stroke="#c3c6e0" stroke-width="0.85"/>
<line x1="319.23" y1="276.91" x2="319.23" y2="279.8" stroke="#c3c6e0" stroke-width="0.85"/>
<line x1="317.73" y1="276.91" x2="320.73" y2="276.91" stroke="#c3c6e0" stroke-width="0.85"/>
<line x1="336.69" y1="260.3" x2="336.69" y2="264.27" stroke="#c3c6e0" stroke-width="0.85"/>
<line x1="335.19" y1="260.3" x2="338.19" y2="260.3" stroke="#c3c6e0" stroke-width="0.85"/>
<line x1="327.05" y1="269.52" x2="327.05" y2="273.38" stroke="#c3c6e0" stroke-width="0.85"/>
<line x1="325.55" y1="269.52" x2="328.55" y2="269.52" stroke="#c3c6e0" stroke-width="0.85"/>
<line x1="336.63" y1="261.59" x2="336.63" y2="264.31" stroke="#c3c6e0" stroke-width="0.85"/>
<line x1="335.13" y1="261.59" x2="338.13" y2="261.59" stroke="#c3c6e0" stroke-width="0.85"/>
<line x1="316.35" y1="277.17" x2="316.35" y2="282.01" stroke="#c3c6e0" stroke-width="0.85"/>
<line x1="314.85" y1="277.17" x2="317.85" y2="277.17" stroke="#c3c6e0" stroke-width="0.85"/>
<line x1="343.44" y1="256.01" x2="343.44" y2="260.39" stroke="#c3c6e0" stroke-width="0.85"/>
<line x1="341.94" y1="256.01" x2="344.94" y2="256.01" stroke="#c3c6e0" stroke-width="0.85"/>
<line x1="356.72" y1="251.32" x2="356.72" y2="256.07" stroke="#c3c6e0" stroke-width="0.85"/>
<line x1="355.22" y1="251.32" x2="358.22" y2="251.32" stroke="#c3c6e0" stroke-width="0.85"/>
<line x1="357.06" y1="252.94" x2="357.06" y2="255.98" stroke="#c3c6e0" stroke-width="0.85"/>
<line x1="355.56" y1="252.94" x2="358.56" y2="252.94" stroke="#c3c6e0" stroke-width="0.85"/>
<line x1="349.82" y1="252.29" x2="349.82" y2="257.93" stroke="#c3c6e0" stroke-width="0.85"/>
<line x1="348.32" y1="252.29" x2="351.32" y2="252.29" stroke="#c3c6e0" stroke-width="0.85"/>
<line x1="359.93" y1="251.77" x2="359.93" y2="255.19" stroke="#c3c6e0" stroke-width="0.85"/>
<line x1="358.43" y1="251.77" x2="361.43" y2="251.77" stroke="#c3c6e0" stroke-width="0.85"/>
<line x1="323.26" y1="270.44" x2="323.26" y2="276.6" stroke="#c3c6e0" stroke-width="0.85"/>
<line x1="321.76" y1="270.44" x2="324.76" y2="270.44" stroke="#c3c6e0" stroke-width="0.85"/>
<line x1="317.21" y1="274.85" x2="317.21" y2="281.35" stroke="#c3c6e0" stroke-width="0.85"/>
<line x1="315.71" y1="274.85" x2="318.71" y2="274.85" stroke="#c3c6e0" stroke-width="0.85"/>
<line x1="358.98" y1="252.85" x2="358.98" y2="255.45" stroke="#c3c6e0" stroke-width="0.85"/>
<line x1="357.48" y1="252.85" x2="360.48" y2="252.85" stroke="#c3c6e0" stroke-width="0.85"/>
<line x1="318.54" y1="275.07" x2="318.54" y2="280.34" stroke="#c3c6e0" stroke-width="0.85"/>
<line x1="317.04" y1="275.07" x2="320.04" y2="275.07" stroke="#c3c6e0" stroke-width="0.85"/>
<line x1="319.79" y1="276.94" x2="319.79" y2="279.38" stroke="#c3c6e0" stroke-width="0.85"/>
<line x1="318.29" y1="276.94" x2="321.29" y2="276.94" stroke="#c3c6e0" stroke-width="0.85"/>
<line x1="355.53" y1="252.48" x2="355.53" y2="256.37" stroke="#c3c6e0" stroke-width="0.85"/>
<line x1="354.03" y1="252.48" x2="357.03" y2="252.48" stroke="#c3c6e0" stroke-width="0.85"/>
<line x1="352.89" y1="254.48" x2="352.89" y2="257.04" stroke="#c3c6e0" stroke-width="0.85"/>
<line x1="351.39" y1="254.48" x2="354.39" y2="254.48" stroke="#c3c6e0" stroke-width="0.85"/>
<line x1="328.73" y1="266.56" x2="328.73" y2="271.64" stroke="#c3c6e0" stroke-width="0.85"/>
<line x1="327.23" y1="266.56" x2="330.23" y2="266.56" stroke="#c3c6e0" stroke-width="0.85"/>
<line x1="304.71" y1="283.01" x2="304.71" y2="285.91" stroke="#c3c6e0" stroke-width="0.85"/>
<line x1="303.21" y1="283.01" x2="306.21" y2="283.01" stroke="#c3c6e0" stroke-width="0.85"/>
<line x1="346.18" y1="253.07" x2="346.18" y2="259.17" stroke="#c3c6e0" stroke-width="0.85"/>
<line x1="344.68" y1="253.07" x2="347.68" y2="253.07" stroke="#c3c6e0" stroke-width="0.85"/>
<line x1="364.03" y1="251.53" x2="364.03" y2="254.05" stroke="#c3c6e0" stroke-width="0.85"/>
<line x1="362.53" y1="251.53" x2="365.53" y2="251.53" stroke="#c3c6e0" stroke-width="0.85"/>
<line x1="335.15" y1="259.9" x2="335.15" y2="265.31" stroke="#c3c6e0" stroke-width="0.85"/>
<line x1="333.65" y1="259.9" x2="336.65" y2="259.9" stroke="#c3c6e0" stroke-width="0.85"/>
<line x1="334.97" y1="260.35" x2="334.97" y2="265.43" stroke="#c3c6e0" stroke-width="0.85"/>
<line x1="333.47" y1="260.35" x2="336.47" y2="260.35" stroke="#c3c6e0" stroke-width="0.85"/>
<line x1="315.39" y1="280.34" x2="315.39" y2="282.66" stroke="#c3c6e0" stroke-width="0.85"/>
<line x1="313.89" y1="280.34" x2="316.89" y2="280.34" stroke="#c3c6e0" stroke-width="0.85"/>
<line x1="310.23" y1="283.12" x2="310.23" y2="285.28" stroke="#c3c6e0" stroke-width="0.85"/>
<line x1="308.73" y1="283.12" x2="311.73" y2="283.12" stroke="#c3c6e0" stroke-width="0.85"/>
<line x1="336.52" y1="273.44" x2="339.52" y2="273.44" stroke="#b9bcd9" stroke-width="0.7"/>
<line x1="337.59" y1="263.91" x2="340.59" y2="263.91" stroke="#b9bcd9" stroke-width="0.7"/>
<line x1="313.62" y1="285.89" x2="316.62" y2="285.89" stroke="#b9bcd9" stroke-width="0.7"/>
<line x1="354.53" y1="262.53" x2="357.53" y2="262.53" stroke="#b9bcd9" stroke-width="0.7"/>
<line x1="359.94" y1="253.27" x2="362.94" y2="253.27" stroke="#b9bcd9" stroke-width="0.7"/>
<line x1="305.97" y1="302.06" x2="308.97" y2="302.06" stroke="#b9bcd9" stroke-width="0.7"/>
<line x1="330.93" y1="286.71" x2="333.93" y2="286.71" stroke="#b9bcd9" stroke-width="0.7"/>
<line x1="322.49" y1="287.08" x2="325.49" y2="287.08" stroke="#b9bcd9" stroke-width="0.7"/>
<line x1="334.25" y1="273.91" x2="337.25" y2="273.91" stroke="#b9bcd9" stroke-width="0.7"/>
<line x1="339.6" y1="259.85" x2="342.6" y2="259.85" stroke="#b9bcd9" stroke-width="0.7"/>
<line x1="345.84" y1="269.11" x2="348.84" y2="269.11" stroke="#b9bcd9" stroke-width="0.7"/>
<line x1="313.41" y1="292.18" x2="316.41" y2="292.18" stroke="#b9bcd9" stroke-width="0.7"/>
<line x1="348.23" y1="261.18" x2="351.23" y2="261.18" stroke="#b9bcd9" stroke-width="0.7"/>
<line x1="314.28" y1="284.65" x2="317.28" y2="284.65" stroke="#b9bcd9" stroke-width="0.7"/>
<line x1="334.08" y1="263.42" x2="337.08" y2="263.42" stroke="#b9bcd9" stroke-width="0.7"/>
<line x1="357.83" y1="258.36" x2="360.83" y2="258.36" stroke="#b9bcd9" stroke-width="0.7"/>
<line x1="346.07" y1="269.12" x2="349.07" y2="269.12" stroke="#b9bcd9" stroke-width="0.7"/>
<line x1="341.37" y1="265.81" x2="344.37" y2="265.81" stroke="#b9bcd9" stroke-width="0.7"/>
<line x1="339.52" y1="269.65" x2="342.52" y2="269.65" stroke="#b9bcd9" stroke-width="0.7"/>
<line x1="363.42" y1="254.96" x2="366.42" y2="254.96" stroke="#b9bcd9" stroke-width="0.7"/>
<line x1="318.22" y1="302.06" x2="321.22" y2="302.06" stroke="#b9bcd9" stroke-width="0.7"/>
<line x1="348.55" y1="265.71" x2="351.55" y2="265.71" stroke="#b9bcd9" stroke-width="0.7"/>
<line x1="352.93" y1="258.47" x2="355.93" y2="258.47" stroke="#b9bcd9" stroke-width="0.7"/>
<line x1="358.04" y1="258.68" x2="361.04" y2="258.68" stroke="#b9bcd9" stroke-width="0.7"/>
<line x1="345.46" y1="268.34" x2="348.46" y2="268.34" stroke="#b9bcd9" stroke-width="0.7"/>
<line x1="349.85" y1="260.21" x2="352.85" y2="260.21" stroke="#b9bcd9" stroke-width="0.7"/>
<line x1="347.19" y1="257.27" x2="350.19" y2="257.27" stroke="#b9bcd9" stroke-width="0.7"/>
<line x1="323.42" y1="286.4" x2="326.42" y2="286.4" stroke="#b9bcd9" stroke-width="0.7"/>
<line x1="302.76" y1="289.99" x2="305.76" y2="289.99" stroke="#b9bcd9" stroke-width="0.7"/>
<line x1="341.96" y1="269.17" x2="344.96" y2="269.17" stroke="#b9bcd9" stroke-width="0.7"/>
<line x1="316.58" y1="303.67" x2="319.58" y2="303.67" stroke="#b9bcd9" stroke-width="0.7"/>
<line x1="343.66" y1="263.01" x2="346.66" y2="263.01" stroke="#b9bcd9" stroke-width="0.7"/>
<line x1="343.27" y1="267.12" x2="346.27" y2="267.12" stroke="#b9bcd9" stroke-width="0.7"/>
<line x1="335.36" y1="271.79" x2="338.36" y2="271.79" stroke="#b9bcd9" stroke-width="0.7"/>
<line x1="364.49" y1="253.75" x2="367.49" y2="253.75" stroke="#b9bcd9" stroke-width="0.7"/>
<line x1="345.86" y1="267.89" x2="348.86" y2="267.89" stroke="#b9bcd9" stroke-width="0.7"/>
<line x1="363.26" y1="251.94" x2="366.26" y2="251.94" stroke="#b9bcd9" stroke-width="0.7"/>
<line x1="340.5" y1="272.88" x2="343.5" y2="272.88" stroke="#b9bcd9" stroke-width="0.7"/>
<line x1="318.11" y1="288.35" x2="321.11" y2="288.35" stroke="#b9bcd9" stroke-width="0.7"/>
<line x1="305.25" y1="287.42" x2="308.25" y2="287.42" stroke="#b9bcd9" stroke-width="0.7"/>
<line x1="325.54" y1="274.19" x2="328.54" y2="274.19" stroke="#b9bcd9" stroke-width="0.7"/>
<line x1="317.76" y1="302.11" x2="320.76" y2="302.11" stroke="#b9bcd9" stroke-width="0.7"/>
<line x1="336.42" y1="273.4" x2="339.42" y2="273.4" stroke="#b9bcd9" stroke-width="0.7"/>
<line x1="362.45" y1="254.51" x2="365.45" y2="254.51" stroke="#b9bcd9" stroke-width="0.7"/>
<line x1="364.19" y1="253.89" x2="367.19" y2="253.89" stroke="#b9bcd9" stroke-width="0.7"/>
<line x1="352.61" y1="255.47" x2="355.61" y2="255.47" stroke="#b9bcd9" stroke-width="0.7"/>
<line x1="339.39" y1="274.9" x2="342.39" y2="274.9" stroke="#b9bcd9" stroke-width="0.7"/>
<line x1="304.92" y1="301.02" x2="307.92" y2="301.02" stroke="#b9bcd9" stroke-width="0.7"/>
<line x1="312.08" y1="292.82" x2="315.08" y2="292.82" stroke="#b9bcd9" stroke-width="0.7"/>
<line x1="312.65" y1="293.31" x2="315.65" y2="293.31" stroke="#b9bcd9" stroke-width="0.7"/>
<line x1="340.24" y1="260.37" x2="343.24" y2="260.37" stroke="#b9bcd9" stroke-width="0.7"/>
<line x1="361.09" y1="254.48" x2="364.09" y2="254.48" stroke="#b9bcd9" stroke-width="0.7"/>
<line x1="334.97" y1="277.4" x2="337.97" y2="277.4" stroke="#b9bcd9" stroke-width="0.7"/>
<line x1="324.91" y1="280.03" x2="327.91" y2="280.03" stroke="#b9bcd9" stroke-width="0.7"/>
<line x1="342.98" y1="267.21" x2="345.98" y2="267.21" stroke="#b9bcd9" stroke-width="0.7"/>
<line x1="383.5" y1="248.5" x2="386.5" y2="247.9" stroke="#f0bcbc" stroke-width="0.9"/>
<line x1="387.5" y1="247.5" x2="390.5" y2="246.9" stroke="#f0bcbc" stroke-width="0.9"/>
<line x1="390.5" y1="249" x2="393.5" y2="248.4" stroke="#f0bcbc" stroke-width="0.9"/>
<line x1="436.5" y1="252" x2="439.5" y2="251.4" stroke="#f0bcbc" stroke-width="0.9"/>
<line x1="439.5" y1="253" x2="442.5" y2="252.4" stroke="#f0bcbc" stroke-width="0.9"/>
<path d="M 304.6,280.3 C 306.02,279.18 310.7,275.38 313.1,273.6 C 315.5,271.82 317.02,271.03 319,269.6 C 320.98,268.17 323.02,266.4 325,265 C 326.98,263.6 328.93,262.32 330.9,261.2 C 332.87,260.08 334.83,259.23 336.8,258.3 C 338.77,257.37 340.73,256.4 342.7,255.6 C 344.67,254.8 346.63,254.13 348.6,253.5 C 350.57,252.87 350.93,252.7 354.5,251.8 C 358.07,250.9 365.47,249.23 370,248.1 C 374.53,246.97 377.8,245.7 381.7,245 C 385.6,244.3 390.48,244.22 393.4,243.9 C 396.32,243.58 397.27,243.47 399.2,243.1 C 401.13,242.73 403.2,242.05 405,241.7 C 406.8,241.35 408.67,241.07 410,241 C 411.33,240.93 411.58,240.7 413,241.3 C 414.42,241.9 415.95,243.08 418.5,244.6 C 421.05,246.12 424.83,248.57 428.3,250.4 C 431.77,252.23 436.3,253.95 439.3,255.6 C 442.3,257.25 444.22,258.5 446.3,260.3 C 448.38,262.1 450.07,263.92 451.8,266.4 C 453.53,268.88 455.88,273.73 456.7,275.2" fill="none" stroke="#e31e2b" stroke-width="2.8" stroke-linecap="butt" stroke-linejoin="round"/>
<path d="M 304.8,295.6 C 306.18,294.87 310.73,292.58 313.1,291.2 C 315.47,289.82 317.02,288.67 319,287.3 C 320.98,285.93 323.02,284.4 325,283 C 326.98,281.6 328.93,280.37 330.9,278.9 C 332.87,277.43 334.83,275.97 336.8,274.2 C 338.77,272.43 340.73,270.17 342.7,268.3 C 344.67,266.43 346.63,264.58 348.6,263 C 350.57,261.42 352.27,260.13 354.5,258.8 C 356.73,257.47 359.42,256.2 362,255 C 364.58,253.8 366.72,252.95 370,251.6 C 373.28,250.25 378.78,248.2 381.7,246.9 C 384.62,245.6 385.55,244.65 387.5,243.8 C 389.45,242.95 391.45,242.35 393.4,241.8 C 395.35,241.25 397.27,241 399.2,240.5 C 401.13,240 402.93,239.45 405,238.8 C 407.07,238.15 408.88,237.47 411.6,236.6 C 414.32,235.73 417.83,234.35 421.3,233.6 C 424.77,232.85 428.47,232.45 432.4,232.1 C 436.33,231.75 440.85,231.65 444.9,231.5 C 448.95,231.35 454.73,231.25 456.7,231.2" fill="none" stroke="#2c54a6" stroke-width="2.8" stroke-linecap="butt" stroke-linejoin="round"/>
<rect x="289.9" y="196.9" width="168.7" height="158.1" fill="none" stroke="#6e6e6e" stroke-width="1.1"/>
<line x1="289.9" y1="355" x2="289.9" y2="352.4" stroke="#6e6e6e" stroke-width="0.9"/>
<line x1="289.9" y1="196.9" x2="289.9" y2="199.5" stroke="#6e6e6e" stroke-width="0.9"/>
<line x1="306.83" y1="355" x2="306.83" y2="353.5" stroke="#6e6e6e" stroke-width="0.9"/>
<line x1="306.83" y1="196.9" x2="306.83" y2="198.4" stroke="#6e6e6e" stroke-width="0.9"/>
<line x1="316.73" y1="355" x2="316.73" y2="353.5" stroke="#6e6e6e" stroke-width="0.9"/>
<line x1="316.73" y1="196.9" x2="316.73" y2="198.4" stroke="#6e6e6e" stroke-width="0.9"/>
<line x1="323.76" y1="355" x2="323.76" y2="353.5" stroke="#6e6e6e" stroke-width="0.9"/>
<line x1="323.76" y1="196.9" x2="323.76" y2="198.4" stroke="#6e6e6e" stroke-width="0.9"/>
<line x1="329.21" y1="355" x2="329.21" y2="353.5" stroke="#6e6e6e" stroke-width="0.9"/>
<line x1="329.21" y1="196.9" x2="329.21" y2="198.4" stroke="#6e6e6e" stroke-width="0.9"/>
<line x1="333.66" y1="355" x2="333.66" y2="353.5" stroke="#6e6e6e" stroke-width="0.9"/>
<line x1="333.66" y1="196.9" x2="333.66" y2="198.4" stroke="#6e6e6e" stroke-width="0.9"/>
<line x1="337.42" y1="355" x2="337.42" y2="353.5" stroke="#6e6e6e" stroke-width="0.9"/>
<line x1="337.42" y1="196.9" x2="337.42" y2="198.4" stroke="#6e6e6e" stroke-width="0.9"/>
<line x1="340.68" y1="355" x2="340.68" y2="353.5" stroke="#6e6e6e" stroke-width="0.9"/>
<line x1="340.68" y1="196.9" x2="340.68" y2="198.4" stroke="#6e6e6e" stroke-width="0.9"/>
<line x1="343.56" y1="355" x2="343.56" y2="353.5" stroke="#6e6e6e" stroke-width="0.9"/>
<line x1="343.56" y1="196.9" x2="343.56" y2="198.4" stroke="#6e6e6e" stroke-width="0.9"/>
<line x1="346.13" y1="355" x2="346.13" y2="352.4" stroke="#6e6e6e" stroke-width="0.9"/>
<line x1="346.13" y1="196.9" x2="346.13" y2="199.5" stroke="#6e6e6e" stroke-width="0.9"/>
<line x1="363.06" y1="355" x2="363.06" y2="353.5" stroke="#6e6e6e" stroke-width="0.9"/>
<line x1="363.06" y1="196.9" x2="363.06" y2="198.4" stroke="#6e6e6e" stroke-width="0.9"/>
<line x1="372.96" y1="355" x2="372.96" y2="353.5" stroke="#6e6e6e" stroke-width="0.9"/>
<line x1="372.96" y1="196.9" x2="372.96" y2="198.4" stroke="#6e6e6e" stroke-width="0.9"/>
<line x1="379.99" y1="355" x2="379.99" y2="353.5" stroke="#6e6e6e" stroke-width="0.9"/>
<line x1="379.99" y1="196.9" x2="379.99" y2="198.4" stroke="#6e6e6e" stroke-width="0.9"/>
<line x1="385.44" y1="355" x2="385.44" y2="353.5" stroke="#6e6e6e" stroke-width="0.9"/>
<line x1="385.44" y1="196.9" x2="385.44" y2="198.4" stroke="#6e6e6e" stroke-width="0.9"/>
<line x1="389.89" y1="355" x2="389.89" y2="353.5" stroke="#6e6e6e" stroke-width="0.9"/>
<line x1="389.89" y1="196.9" x2="389.89" y2="198.4" stroke="#6e6e6e" stroke-width="0.9"/>
<line x1="393.66" y1="355" x2="393.66" y2="353.5" stroke="#6e6e6e" stroke-width="0.9"/>
<line x1="393.66" y1="196.9" x2="393.66" y2="198.4" stroke="#6e6e6e" stroke-width="0.9"/>
<line x1="396.92" y1="355" x2="396.92" y2="353.5" stroke="#6e6e6e" stroke-width="0.9"/>
<line x1="396.92" y1="196.9" x2="396.92" y2="198.4" stroke="#6e6e6e" stroke-width="0.9"/>
<line x1="399.79" y1="355" x2="399.79" y2="353.5" stroke="#6e6e6e" stroke-width="0.9"/>
<line x1="399.79" y1="196.9" x2="399.79" y2="198.4" stroke="#6e6e6e" stroke-width="0.9"/>
<line x1="402.37" y1="355" x2="402.37" y2="352.4" stroke="#6e6e6e" stroke-width="0.9"/>
<line x1="402.37" y1="196.9" x2="402.37" y2="199.5" stroke="#6e6e6e" stroke-width="0.9"/>
<line x1="419.29" y1="355" x2="419.29" y2="353.5" stroke="#6e6e6e" stroke-width="0.9"/>
<line x1="419.29" y1="196.9" x2="419.29" y2="198.4" stroke="#6e6e6e" stroke-width="0.9"/>
<line x1="429.2" y1="355" x2="429.2" y2="353.5" stroke="#6e6e6e" stroke-width="0.9"/>
<line x1="429.2" y1="196.9" x2="429.2" y2="198.4" stroke="#6e6e6e" stroke-width="0.9"/>
<line x1="436.22" y1="355" x2="436.22" y2="353.5" stroke="#6e6e6e" stroke-width="0.9"/>
<line x1="436.22" y1="196.9" x2="436.22" y2="198.4" stroke="#6e6e6e" stroke-width="0.9"/>
<line x1="441.67" y1="355" x2="441.67" y2="353.5" stroke="#6e6e6e" stroke-width="0.9"/>
<line x1="441.67" y1="196.9" x2="441.67" y2="198.4" stroke="#6e6e6e" stroke-width="0.9"/>
<line x1="446.12" y1="355" x2="446.12" y2="353.5" stroke="#6e6e6e" stroke-width="0.9"/>
<line x1="446.12" y1="196.9" x2="446.12" y2="198.4" stroke="#6e6e6e" stroke-width="0.9"/>
<line x1="449.89" y1="355" x2="449.89" y2="353.5" stroke="#6e6e6e" stroke-width="0.9"/>
<line x1="449.89" y1="196.9" x2="449.89" y2="198.4" stroke="#6e6e6e" stroke-width="0.9"/>
<line x1="453.15" y1="355" x2="453.15" y2="353.5" stroke="#6e6e6e" stroke-width="0.9"/>
<line x1="453.15" y1="196.9" x2="453.15" y2="198.4" stroke="#6e6e6e" stroke-width="0.9"/>
<line x1="456.03" y1="355" x2="456.03" y2="353.5" stroke="#6e6e6e" stroke-width="0.9"/>
<line x1="456.03" y1="196.9" x2="456.03" y2="198.4" stroke="#6e6e6e" stroke-width="0.9"/>
<line x1="458.6" y1="355" x2="458.6" y2="352.4" stroke="#6e6e6e" stroke-width="0.9"/>
<line x1="458.6" y1="196.9" x2="458.6" y2="199.5" stroke="#6e6e6e" stroke-width="0.9"/>
<line x1="289.9" y1="355" x2="292.5" y2="355" stroke="#6e6e6e" stroke-width="0.9"/>
<line x1="458.6" y1="355" x2="456" y2="355" stroke="#6e6e6e" stroke-width="0.9"/>
<line x1="289.9" y1="345.48" x2="291.4" y2="345.48" stroke="#6e6e6e" stroke-width="0.9"/>
<line x1="458.6" y1="345.48" x2="457.1" y2="345.48" stroke="#6e6e6e" stroke-width="0.9"/>
<line x1="289.9" y1="339.91" x2="291.4" y2="339.91" stroke="#6e6e6e" stroke-width="0.9"/>
<line x1="458.6" y1="339.91" x2="457.1" y2="339.91" stroke="#6e6e6e" stroke-width="0.9"/>
<line x1="289.9" y1="335.96" x2="291.4" y2="335.96" stroke="#6e6e6e" stroke-width="0.9"/>
<line x1="458.6" y1="335.96" x2="457.1" y2="335.96" stroke="#6e6e6e" stroke-width="0.9"/>
<line x1="289.9" y1="332.9" x2="291.4" y2="332.9" stroke="#6e6e6e" stroke-width="0.9"/>
<line x1="458.6" y1="332.9" x2="457.1" y2="332.9" stroke="#6e6e6e" stroke-width="0.9"/>
<line x1="289.9" y1="330.39" x2="291.4" y2="330.39" stroke="#6e6e6e" stroke-width="0.9"/>
<line x1="458.6" y1="330.39" x2="457.1" y2="330.39" stroke="#6e6e6e" stroke-width="0.9"/>
<line x1="289.9" y1="328.28" x2="291.4" y2="328.28" stroke="#6e6e6e" stroke-width="0.9"/>
<line x1="458.6" y1="328.28" x2="457.1" y2="328.28" stroke="#6e6e6e" stroke-width="0.9"/>
<line x1="289.9" y1="326.44" x2="291.4" y2="326.44" stroke="#6e6e6e" stroke-width="0.9"/>
<line x1="458.6" y1="326.44" x2="457.1" y2="326.44" stroke="#6e6e6e" stroke-width="0.9"/>
<line x1="289.9" y1="324.83" x2="291.4" y2="324.83" stroke="#6e6e6e" stroke-width="0.9"/>
<line x1="458.6" y1="324.83" x2="457.1" y2="324.83" stroke="#6e6e6e" stroke-width="0.9"/>
<line x1="289.9" y1="323.38" x2="292.5" y2="323.38" stroke="#6e6e6e" stroke-width="0.9"/>
<line x1="458.6" y1="323.38" x2="456" y2="323.38" stroke="#6e6e6e" stroke-width="0.9"/>
<line x1="289.9" y1="313.86" x2="291.4" y2="313.86" stroke="#6e6e6e" stroke-width="0.9"/>
<line x1="458.6" y1="313.86" x2="457.1" y2="313.86" stroke="#6e6e6e" stroke-width="0.9"/>
<line x1="289.9" y1="308.29" x2="291.4" y2="308.29" stroke="#6e6e6e" stroke-width="0.9"/>
<line x1="458.6" y1="308.29" x2="457.1" y2="308.29" stroke="#6e6e6e" stroke-width="0.9"/>
<line x1="289.9" y1="304.34" x2="291.4" y2="304.34" stroke="#6e6e6e" stroke-width="0.9"/>
<line x1="458.6" y1="304.34" x2="457.1" y2="304.34" stroke="#6e6e6e" stroke-width="0.9"/>
<line x1="289.9" y1="301.28" x2="291.4" y2="301.28" stroke="#6e6e6e" stroke-width="0.9"/>
<line x1="458.6" y1="301.28" x2="457.1" y2="301.28" stroke="#6e6e6e" stroke-width="0.9"/>
<line x1="289.9" y1="298.77" x2="291.4" y2="298.77" stroke="#6e6e6e" stroke-width="0.9"/>
<line x1="458.6" y1="298.77" x2="457.1" y2="298.77" stroke="#6e6e6e" stroke-width="0.9"/>
<line x1="289.9" y1="296.66" x2="291.4" y2="296.66" stroke="#6e6e6e" stroke-width="0.9"/>
<line x1="458.6" y1="296.66" x2="457.1" y2="296.66" stroke="#6e6e6e" stroke-width="0.9"/>
<line x1="289.9" y1="294.82" x2="291.4" y2="294.82" stroke="#6e6e6e" stroke-width="0.9"/>
<line x1="458.6" y1="294.82" x2="457.1" y2="294.82" stroke="#6e6e6e" stroke-width="0.9"/>
<line x1="289.9" y1="293.21" x2="291.4" y2="293.21" stroke="#6e6e6e" stroke-width="0.9"/>
<line x1="458.6" y1="293.21" x2="457.1" y2="293.21" stroke="#6e6e6e" stroke-width="0.9"/>
<line x1="289.9" y1="291.76" x2="292.5" y2="291.76" stroke="#6e6e6e" stroke-width="0.9"/>
<line x1="458.6" y1="291.76" x2="456" y2="291.76" stroke="#6e6e6e" stroke-width="0.9"/>
<line x1="289.9" y1="282.24" x2="291.4" y2="282.24" stroke="#6e6e6e" stroke-width="0.9"/>
<line x1="458.6" y1="282.24" x2="457.1" y2="282.24" stroke="#6e6e6e" stroke-width="0.9"/>
<line x1="289.9" y1="276.67" x2="291.4" y2="276.67" stroke="#6e6e6e" stroke-width="0.9"/>
<line x1="458.6" y1="276.67" x2="457.1" y2="276.67" stroke="#6e6e6e" stroke-width="0.9"/>
<line x1="289.9" y1="272.72" x2="291.4" y2="272.72" stroke="#6e6e6e" stroke-width="0.9"/>
<line x1="458.6" y1="272.72" x2="457.1" y2="272.72" stroke="#6e6e6e" stroke-width="0.9"/>
<line x1="289.9" y1="269.66" x2="291.4" y2="269.66" stroke="#6e6e6e" stroke-width="0.9"/>
<line x1="458.6" y1="269.66" x2="457.1" y2="269.66" stroke="#6e6e6e" stroke-width="0.9"/>
<line x1="289.9" y1="267.15" x2="291.4" y2="267.15" stroke="#6e6e6e" stroke-width="0.9"/>
<line x1="458.6" y1="267.15" x2="457.1" y2="267.15" stroke="#6e6e6e" stroke-width="0.9"/>
<line x1="289.9" y1="265.04" x2="291.4" y2="265.04" stroke="#6e6e6e" stroke-width="0.9"/>
<line x1="458.6" y1="265.04" x2="457.1" y2="265.04" stroke="#6e6e6e" stroke-width="0.9"/>
<line x1="289.9" y1="263.2" x2="291.4" y2="263.2" stroke="#6e6e6e" stroke-width="0.9"/>
<line x1="458.6" y1="263.2" x2="457.1" y2="263.2" stroke="#6e6e6e" stroke-width="0.9"/>
<line x1="289.9" y1="261.59" x2="291.4" y2="261.59" stroke="#6e6e6e" stroke-width="0.9"/>
<line x1="458.6" y1="261.59" x2="457.1" y2="261.59" stroke="#6e6e6e" stroke-width="0.9"/>
<line x1="289.9" y1="260.14" x2="292.5" y2="260.14" stroke="#6e6e6e" stroke-width="0.9"/>
<line x1="458.6" y1="260.14" x2="456" y2="260.14" stroke="#6e6e6e" stroke-width="0.9"/>
<line x1="289.9" y1="250.62" x2="291.4" y2="250.62" stroke="#6e6e6e" stroke-width="0.9"/>
<line x1="458.6" y1="250.62" x2="457.1" y2="250.62" stroke="#6e6e6e" stroke-width="0.9"/>
<line x1="289.9" y1="245.05" x2="291.4" y2="245.05" stroke="#6e6e6e" stroke-width="0.9"/>
<line x1="458.6" y1="245.05" x2="457.1" y2="245.05" stroke="#6e6e6e" stroke-width="0.9"/>
<line x1="289.9" y1="241.1" x2="291.4" y2="241.1" stroke="#6e6e6e" stroke-width="0.9"/>
<line x1="458.6" y1="241.1" x2="457.1" y2="241.1" stroke="#6e6e6e" stroke-width="0.9"/>
<line x1="289.9" y1="238.04" x2="291.4" y2="238.04" stroke="#6e6e6e" stroke-width="0.9"/>
<line x1="458.6" y1="238.04" x2="457.1" y2="238.04" stroke="#6e6e6e" stroke-width="0.9"/>
<line x1="289.9" y1="235.53" x2="291.4" y2="235.53" stroke="#6e6e6e" stroke-width="0.9"/>
<line x1="458.6" y1="235.53" x2="457.1" y2="235.53" stroke="#6e6e6e" stroke-width="0.9"/>
<line x1="289.9" y1="233.42" x2="291.4" y2="233.42" stroke="#6e6e6e" stroke-width="0.9"/>
<line x1="458.6" y1="233.42" x2="457.1" y2="233.42" stroke="#6e6e6e" stroke-width="0.9"/>
<line x1="289.9" y1="231.58" x2="291.4" y2="231.58" stroke="#6e6e6e" stroke-width="0.9"/>
<line x1="458.6" y1="231.58" x2="457.1" y2="231.58" stroke="#6e6e6e" stroke-width="0.9"/>
<line x1="289.9" y1="229.97" x2="291.4" y2="229.97" stroke="#6e6e6e" stroke-width="0.9"/>
<line x1="458.6" y1="229.97" x2="457.1" y2="229.97" stroke="#6e6e6e" stroke-width="0.9"/>
<line x1="289.9" y1="228.52" x2="292.5" y2="228.52" stroke="#6e6e6e" stroke-width="0.9"/>
<line x1="458.6" y1="228.52" x2="456" y2="228.52" stroke="#6e6e6e" stroke-width="0.9"/>
<line x1="289.9" y1="219" x2="291.4" y2="219" stroke="#6e6e6e" stroke-width="0.9"/>
<line x1="458.6" y1="219" x2="457.1" y2="219" stroke="#6e6e6e" stroke-width="0.9"/>
<line x1="289.9" y1="213.43" x2="291.4" y2="213.43" stroke="#6e6e6e" stroke-width="0.9"/>
<line x1="458.6" y1="213.43" x2="457.1" y2="213.43" stroke="#6e6e6e" stroke-width="0.9"/>
<line x1="289.9" y1="209.48" x2="291.4" y2="209.48" stroke="#6e6e6e" stroke-width="0.9"/>
<line x1="458.6" y1="209.48" x2="457.1" y2="209.48" stroke="#6e6e6e" stroke-width="0.9"/>
<line x1="289.9" y1="206.42" x2="291.4" y2="206.42" stroke="#6e6e6e" stroke-width="0.9"/>
<line x1="458.6" y1="206.42" x2="457.1" y2="206.42" stroke="#6e6e6e" stroke-width="0.9"/>
<line x1="289.9" y1="203.91" x2="291.4" y2="203.91" stroke="#6e6e6e" stroke-width="0.9"/>
<line x1="458.6" y1="203.91" x2="457.1" y2="203.91" stroke="#6e6e6e" stroke-width="0.9"/>
<line x1="289.9" y1="201.8" x2="291.4" y2="201.8" stroke="#6e6e6e" stroke-width="0.9"/>
<line x1="458.6" y1="201.8" x2="457.1" y2="201.8" stroke="#6e6e6e" stroke-width="0.9"/>
<line x1="289.9" y1="199.96" x2="291.4" y2="199.96" stroke="#6e6e6e" stroke-width="0.9"/>
<line x1="458.6" y1="199.96" x2="457.1" y2="199.96" stroke="#6e6e6e" stroke-width="0.9"/>
<line x1="289.9" y1="198.35" x2="291.4" y2="198.35" stroke="#6e6e6e" stroke-width="0.9"/>
<line x1="458.6" y1="198.35" x2="457.1" y2="198.35" stroke="#6e6e6e" stroke-width="0.9"/>
<line x1="289.9" y1="196.9" x2="292.5" y2="196.9" stroke="#6e6e6e" stroke-width="0.9"/>
<line x1="458.6" y1="196.9" x2="456" y2="196.9" stroke="#6e6e6e" stroke-width="0.9"/>
<text x="287.5" y="358.8" font-size="9" text-anchor="end" fill="#262626">10<tspan font-size="5.58" dy="-3.42">-1</tspan></text>
<text x="287.5" y="327.36" font-size="9" text-anchor="end" fill="#262626">10<tspan font-size="5.58" dy="-3.42">0</tspan></text>
<text x="287.5" y="295.92" font-size="9" text-anchor="end" fill="#262626">10<tspan font-size="5.58" dy="-3.42">1</tspan></text>
<text x="287.5" y="264.48" font-size="9" text-anchor="end" fill="#262626">10<tspan font-size="5.58" dy="-3.42">2</tspan></text>
<text x="287.5" y="233.04" font-size="9" text-anchor="end" fill="#262626">10<tspan font-size="5.58" dy="-3.42">3</tspan></text>
<text x="287.5" y="201.6" font-size="9" text-anchor="end" fill="#262626">10<tspan font-size="5.58" dy="-3.42">4</tspan></text>
<text x="283.1" y="369" font-size="9" text-anchor="start" fill="#262626">10<tspan font-size="5.58" dy="-3.42">-1</tspan></text>
<text x="339.33" y="369" font-size="9" text-anchor="start" fill="#262626">10<tspan font-size="5.58" dy="-3.42">0</tspan></text>
<text x="395.57" y="369" font-size="9" text-anchor="start" fill="#262626">10<tspan font-size="5.58" dy="-3.42">1</tspan></text>
<text x="451.8" y="369" font-size="9" text-anchor="start" fill="#262626">10<tspan font-size="5.58" dy="-3.42">2</tspan></text>
<rect x="351.8" y="320.4" width="102.6" height="30" fill="#fff" stroke="#333" stroke-width="0.9"/>
<line x1="354.8" y1="328.9" x2="367.6" y2="328.9" stroke="#e31e2b" stroke-width="2.8"/>
<line x1="354.8" y1="342.3" x2="367.6" y2="342.3" stroke="#2c54a6" stroke-width="2.8"/>
<text x="370.2" y="332.3" font-size="10.5" text-anchor="start" fill="#2e2e2e">Viscous Modulus</text>
<text x="370.2" y="346" font-size="10.5" text-anchor="start" fill="#2e2e2e">Elastic Modulus</text>
<text x="471.9" y="190.3" font-size="13.5" text-anchor="start" fill="#111" font-weight="bold">f</text>
<text x="595.6" y="193.7" font-size="10.5" text-anchor="middle" fill="#2e2e2e">pN + 1-1000 RNA</text>
<text transform="translate(485.0,270.5) rotate(-90)" font-size="10.5" text-anchor="middle" fill="#2e2e2e">G’, G’’ (Pa)</text>
<text x="594.3" y="384.2" font-size="10.5" text-anchor="middle" fill="#2e2e2e">Frequency (1/s)</text>
<path d="M 522.4,286.2 C 523.33,285.77 526.07,284.5 528,283.6 C 529.93,282.7 532,281.73 534,280.8 C 536,279.87 539,278.47 540,278" fill="none" stroke="#f3c3c3" stroke-width="4" stroke-linecap="butt" stroke-linejoin="round" stroke-linecap="round"/>
<polygon points="522.6,289.5 529.7,287.7 537.1,285.5 541.5,287.7 548.9,287.7 554.8,288.5 559.2,284.1 565.1,281.1 571,278.9 576.9,278.9 581.3,275.2 587.2,270.8 593.1,267.9 597.5,264.9 603.4,262 603.4,269 596,276 588.6,284 581.3,292 573.9,298.5 566.5,305 559.2,311 551.8,317 544.5,321 537.1,318 529.7,321 522.6,318" fill="#c3c6e0" opacity="0.9"/>
<line x1="572.93" y1="292.9" x2="572.93" y2="327.56" stroke="#c3c6e0" stroke-width="0.85"/>
<line x1="571.43" y1="327.56" x2="574.43" y2="327.56" stroke="#c3c6e0" stroke-width="0.85"/>
<line x1="598.75" y1="266.96" x2="598.75" y2="282.49" stroke="#c3c6e0" stroke-width="0.85"/>
<line x1="597.25" y1="282.49" x2="600.25" y2="282.49" stroke="#c3c6e0" stroke-width="0.85"/>
<line x1="524.94" y1="314.2" x2="524.94" y2="345.8" stroke="#c3c6e0" stroke-width="0.85"/>
<line x1="523.44" y1="345.8" x2="526.44" y2="345.8" stroke="#c3c6e0" stroke-width="0.85"/>
<line x1="575.04" y1="290.1" x2="575.04" y2="308.16" stroke="#c3c6e0" stroke-width="0.85"/>
<line x1="573.54" y1="308.16" x2="576.54" y2="308.16" stroke="#c3c6e0" stroke-width="0.85"/>
<line x1="560.5" y1="306.45" x2="560.5" y2="328.96" stroke="#c3c6e0" stroke-width="0.85"/>
<line x1="559" y1="328.96" x2="562" y2="328.96" stroke="#c3c6e0" stroke-width="0.85"/>
<line x1="568.97" y1="300.75" x2="568.97" y2="311.47" stroke="#c3c6e0" stroke-width="0.85"/>
<line x1="567.47" y1="311.47" x2="570.47" y2="311.47" stroke="#c3c6e0" stroke-width="0.85"/>
<line x1="545.18" y1="313.13" x2="545.18" y2="344.89" stroke="#c3c6e0" stroke-width="0.85"/>
<line x1="543.68" y1="344.89" x2="546.68" y2="344.89" stroke="#c3c6e0" stroke-width="0.85"/>
<line x1="535.5" y1="311.87" x2="535.5" y2="328.79" stroke="#c3c6e0" stroke-width="0.85"/>
<line x1="534" y1="328.79" x2="537" y2="328.79" stroke="#c3c6e0" stroke-width="0.85"/>
<line x1="572.49" y1="296.98" x2="572.49" y2="300.43" stroke="#c3c6e0" stroke-width="0.85"/>
<line x1="570.99" y1="300.43" x2="573.99" y2="300.43" stroke="#c3c6e0" stroke-width="0.85"/>
<line x1="593.01" y1="275.98" x2="593.01" y2="287.35" stroke="#c3c6e0" stroke-width="0.85"/>
<line x1="591.51" y1="287.35" x2="594.51" y2="287.35" stroke="#c3c6e0" stroke-width="0.85"/>
<line x1="601.98" y1="263.11" x2="601.98" y2="272.68" stroke="#c3c6e0" stroke-width="0.85"/>
<line x1="600.48" y1="272.68" x2="603.48" y2="272.68" stroke="#c3c6e0" stroke-width="0.85"/>
<line x1="600.29" y1="266.71" x2="600.29" y2="277.65" stroke="#c3c6e0" stroke-width="0.85"/>
<line x1="598.79" y1="277.65" x2="601.79" y2="277.65" stroke="#c3c6e0" stroke-width="0.85"/>
<line x1="539.15" y1="311.18" x2="539.15" y2="344.67" stroke="#c3c6e0" stroke-width="0.85"/>
<line x1="537.65" y1="344.67" x2="540.65" y2="344.67" stroke="#c3c6e0" stroke-width="0.85"/>
<line x1="600.7" y1="264.19" x2="600.7" y2="274.77" stroke="#c3c6e0" stroke-width="0.85"/>
<line x1="599.2" y1="274.77" x2="602.2" y2="274.77" stroke="#c3c6e0" stroke-width="0.85"/>
<line x1="551.78" y1="314.01" x2="551.78" y2="327.42" stroke="#c3c6e0" stroke-width="0.85"/>
<line x1="550.28" y1="327.42" x2="553.28" y2="327.42" stroke="#c3c6e0" stroke-width="0.85"/>
<line x1="527.86" y1="316.42" x2="527.86" y2="342.36" stroke="#c3c6e0" stroke-width="0.85"/>
<line x1="526.36" y1="342.36" x2="529.36" y2="342.36" stroke="#c3c6e0" stroke-width="0.85"/>
<line x1="522.87" y1="312.05" x2="522.87" y2="329.94" stroke="#c3c6e0" stroke-width="0.85"/>
<line x1="521.37" y1="329.94" x2="524.37" y2="329.94" stroke="#c3c6e0" stroke-width="0.85"/>
<line x1="547.64" y1="312.37" x2="547.64" y2="338.79" stroke="#c3c6e0" stroke-width="0.85"/>
<line x1="546.14" y1="338.79" x2="549.14" y2="338.79" stroke="#c3c6e0" stroke-width="0.85"/>
<line x1="548.12" y1="314.13" x2="548.12" y2="343.85" stroke="#c3c6e0" stroke-width="0.85"/>
<line x1="546.62" y1="343.85" x2="549.62" y2="343.85" stroke="#c3c6e0" stroke-width="0.85"/>
<line x1="527.21" y1="312.1" x2="527.21" y2="323.07" stroke="#c3c6e0" stroke-width="0.85"/>
<line x1="525.71" y1="323.07" x2="528.71" y2="323.07" stroke="#c3c6e0" stroke-width="0.85"/>
<line x1="583.18" y1="282.87" x2="583.18" y2="291.26" stroke="#c3c6e0" stroke-width="0.85"/>
<line x1="581.68" y1="291.26" x2="584.68" y2="291.26" stroke="#c3c6e0" stroke-width="0.85"/>
<line x1="586.25" y1="282.38" x2="586.25" y2="298.55" stroke="#c3c6e0" stroke-width="0.85"/>
<line x1="584.75" y1="298.55" x2="587.75" y2="298.55" stroke="#c3c6e0" stroke-width="0.85"/>
<line x1="523.33" y1="316.03" x2="523.33" y2="326.84" stroke="#c3c6e0" stroke-width="0.85"/>
<line x1="521.83" y1="326.84" x2="524.83" y2="326.84" stroke="#c3c6e0" stroke-width="0.85"/>
<line x1="599.78" y1="269.25" x2="599.78" y2="279.09" stroke="#c3c6e0" stroke-width="0.85"/>
<line x1="598.28" y1="279.09" x2="601.28" y2="279.09" stroke="#c3c6e0" stroke-width="0.85"/>
<line x1="597.72" y1="266.72" x2="597.72" y2="280.74" stroke="#c3c6e0" stroke-width="0.85"/>
<line x1="596.22" y1="280.74" x2="599.22" y2="280.74" stroke="#c3c6e0" stroke-width="0.85"/>
<line x1="551.27" y1="312.14" x2="551.27" y2="345.4" stroke="#c3c6e0" stroke-width="0.85"/>
<line x1="549.77" y1="345.4" x2="552.77" y2="345.4" stroke="#c3c6e0" stroke-width="0.85"/>
<line x1="531.33" y1="313.85" x2="531.33" y2="347.05" stroke="#c3c6e0" stroke-width="0.85"/>
<line x1="529.83" y1="347.05" x2="532.83" y2="347.05" stroke="#c3c6e0" stroke-width="0.85"/>
<line x1="592.06" y1="278.04" x2="592.06" y2="300.98" stroke="#c3c6e0" stroke-width="0.85"/>
<line x1="590.56" y1="300.98" x2="593.56" y2="300.98" stroke="#c3c6e0" stroke-width="0.85"/>
<line x1="529.97" y1="316.85" x2="529.97" y2="343.04" stroke="#c3c6e0" stroke-width="0.85"/>
<line x1="528.47" y1="343.04" x2="531.47" y2="343.04" stroke="#c3c6e0" stroke-width="0.85"/>
<line x1="596.78" y1="271.22" x2="596.78" y2="288.93" stroke="#c3c6e0" stroke-width="0.85"/>
<line x1="595.28" y1="288.93" x2="598.28" y2="288.93" stroke="#c3c6e0" stroke-width="0.85"/>
<line x1="566.65" y1="301" x2="566.65" y2="317.25" stroke="#c3c6e0" stroke-width="0.85"/>
<line x1="565.15" y1="317.25" x2="568.15" y2="317.25" stroke="#c3c6e0" stroke-width="0.85"/>
<line x1="536.94" y1="315.6" x2="536.94" y2="328.83" stroke="#c3c6e0" stroke-width="0.85"/>
<line x1="535.44" y1="328.83" x2="538.44" y2="328.83" stroke="#c3c6e0" stroke-width="0.85"/>
<line x1="578.29" y1="286.67" x2="578.29" y2="303.56" stroke="#c3c6e0" stroke-width="0.85"/>
<line x1="576.79" y1="303.56" x2="579.79" y2="303.56" stroke="#c3c6e0" stroke-width="0.85"/>
<line x1="526.52" y1="311.74" x2="526.52" y2="340.41" stroke="#c3c6e0" stroke-width="0.85"/>
<line x1="525.02" y1="340.41" x2="528.02" y2="340.41" stroke="#c3c6e0" stroke-width="0.85"/>
<line x1="555.4" y1="310.66" x2="555.4" y2="340.68" stroke="#c3c6e0" stroke-width="0.85"/>
<line x1="553.9" y1="340.68" x2="556.9" y2="340.68" stroke="#c3c6e0" stroke-width="0.85"/>
<line x1="589.36" y1="278.44" x2="589.36" y2="294.93" stroke="#c3c6e0" stroke-width="0.85"/>
<line x1="587.86" y1="294.93" x2="590.86" y2="294.93" stroke="#c3c6e0" stroke-width="0.85"/>
<line x1="527.1" y1="312.41" x2="527.1" y2="323.77" stroke="#c3c6e0" stroke-width="0.85"/>
<line x1="525.6" y1="323.77" x2="528.6" y2="323.77" stroke="#c3c6e0" stroke-width="0.85"/>
<line x1="562.48" y1="301.27" x2="562.48" y2="316.11" stroke="#c3c6e0" stroke-width="0.85"/>
<line x1="560.98" y1="316.11" x2="563.98" y2="316.11" stroke="#c3c6e0" stroke-width="0.85"/>
<line x1="581.72" y1="283.84" x2="581.72" y2="302.76" stroke="#c3c6e0" stroke-width="0.85"/>
<line x1="580.22" y1="302.76" x2="583.22" y2="302.76" stroke="#c3c6e0" stroke-width="0.85"/>
<line x1="586.27" y1="283.91" x2="586.27" y2="296.65" stroke="#c3c6e0" stroke-width="0.85"/>
<line x1="584.77" y1="296.65" x2="587.77" y2="296.65" stroke="#c3c6e0" stroke-width="0.85"/>
<line x1="534.66" y1="311.92" x2="534.66" y2="334.68" stroke="#c3c6e0" stroke-width="0.85"/>
<line x1="533.16" y1="334.68" x2="536.16" y2="334.68" stroke="#c3c6e0" stroke-width="0.85"/>
<line x1="559.21" y1="302.99" x2="559.21" y2="339.36" stroke="#c3c6e0" stroke-width="0.85"/>
<line x1="557.71" y1="339.36" x2="560.71" y2="339.36" stroke="#c3c6e0" stroke-width="0.85"/>
<line x1="601.46" y1="266.11" x2="601.46" y2="274.49" stroke="#c3c6e0" stroke-width="0.85"/>
<line x1="599.96" y1="274.49" x2="602.96" y2="274.49" stroke="#c3c6e0" stroke-width="0.85"/>
<line x1="581.54" y1="286.86" x2="581.54" y2="298.79" stroke="#c3c6e0" stroke-width="0.85"/>
<line x1="580.04" y1="298.79" x2="583.04" y2="298.79" stroke="#c3c6e0" stroke-width="0.85"/>
<line x1="555.23" y1="311.34" x2="555.23" y2="334.38" stroke="#c3c6e0" stroke-width="0.85"/>
<line x1="553.73" y1="334.38" x2="556.73" y2="334.38" stroke="#c3c6e0" stroke-width="0.85"/>
<line x1="602.46" y1="262.13" x2="602.46" y2="273.11" stroke="#c3c6e0" stroke-width="0.85"/>
<line x1="600.96" y1="273.11" x2="603.96" y2="273.11" stroke="#c3c6e0" stroke-width="0.85"/>
<line x1="562.95" y1="303.89" x2="562.95" y2="314.11" stroke="#c3c6e0" stroke-width="0.85"/>
<line x1="561.45" y1="314.11" x2="564.45" y2="314.11" stroke="#c3c6e0" stroke-width="0.85"/>
<line x1="544.6" y1="314.25" x2="544.6" y2="346.98" stroke="#c3c6e0" stroke-width="0.85"/>
<line x1="543.1" y1="346.98" x2="546.1" y2="346.98" stroke="#c3c6e0" stroke-width="0.85"/>
<line x1="551.8" y1="310.29" x2="551.8" y2="345.39" stroke="#c3c6e0" stroke-width="0.85"/>
<line x1="550.3" y1="345.39" x2="553.3" y2="345.39" stroke="#c3c6e0" stroke-width="0.85"/>
<line x1="578.72" y1="288.28" x2="578.72" y2="314.04" stroke="#c3c6e0" stroke-width="0.85"/>
<line x1="577.22" y1="314.04" x2="580.22" y2="314.04" stroke="#c3c6e0" stroke-width="0.85"/>
<line x1="551.97" y1="310.64" x2="551.97" y2="332.38" stroke="#c3c6e0" stroke-width="0.85"/>
<line x1="550.47" y1="332.38" x2="553.47" y2="332.38" stroke="#c3c6e0" stroke-width="0.85"/>
<line x1="561.84" y1="302.21" x2="561.84" y2="330.14" stroke="#c3c6e0" stroke-width="0.85"/>
<line x1="560.34" y1="330.14" x2="563.34" y2="330.14" stroke="#c3c6e0" stroke-width="0.85"/>
<line x1="546.34" y1="312.32" x2="546.34" y2="342.63" stroke="#c3c6e0" stroke-width="0.85"/>
<line x1="544.84" y1="342.63" x2="547.84" y2="342.63" stroke="#c3c6e0" stroke-width="0.85"/>
<line x1="569.52" y1="300.28" x2="569.52" y2="316.97" stroke="#c3c6e0" stroke-width="0.85"/>
<line x1="568.02" y1="316.97" x2="571.02" y2="316.97" stroke="#c3c6e0" stroke-width="0.85"/>
<line x1="542.86" y1="314.3" x2="542.86" y2="338.94" stroke="#c3c6e0" stroke-width="0.85"/>
<line x1="541.36" y1="338.94" x2="544.36" y2="338.94" stroke="#c3c6e0" stroke-width="0.85"/>
<line x1="588.59" y1="278.13" x2="588.59" y2="300.58" stroke="#c3c6e0" stroke-width="0.85"/>
<line x1="587.09" y1="300.58" x2="590.09" y2="300.58" stroke="#c3c6e0" stroke-width="0.85"/>
<line x1="550.71" y1="311.73" x2="550.71" y2="344.58" stroke="#c3c6e0" stroke-width="0.85"/>
<line x1="549.21" y1="344.58" x2="552.21" y2="344.58" stroke="#c3c6e0" stroke-width="0.85"/>
<line x1="589.52" y1="278.91" x2="589.52" y2="300.96" stroke="#c3c6e0" stroke-width="0.85"/>
<line x1="588.02" y1="300.96" x2="591.02" y2="300.96" stroke="#c3c6e0" stroke-width="0.85"/>
<line x1="592.89" y1="273.23" x2="592.89" y2="299.58" stroke="#c3c6e0" stroke-width="0.85"/>
<line x1="591.39" y1="299.58" x2="594.39" y2="299.58" stroke="#c3c6e0" stroke-width="0.85"/>
<line x1="599.89" y1="267.21" x2="599.89" y2="277.61" stroke="#c3c6e0" stroke-width="0.85"/>
<line x1="598.39" y1="277.61" x2="601.39" y2="277.61" stroke="#c3c6e0" stroke-width="0.85"/>
<line x1="536.03" y1="311.42" x2="536.03" y2="350.65" stroke="#c3c6e0" stroke-width="0.85"/>
<line x1="534.53" y1="350.65" x2="537.53" y2="350.65" stroke="#c3c6e0" stroke-width="0.85"/>
<line x1="561.16" y1="303.24" x2="561.16" y2="331.34" stroke="#c3c6e0" stroke-width="0.85"/>
<line x1="559.66" y1="331.34" x2="562.66" y2="331.34" stroke="#c3c6e0" stroke-width="0.85"/>
<line x1="581.61" y1="288.63" x2="581.61" y2="304.41" stroke="#c3c6e0" stroke-width="0.85"/>
<line x1="580.11" y1="304.41" x2="583.11" y2="304.41" stroke="#c3c6e0" stroke-width="0.85"/>
<line x1="569.53" y1="296.34" x2="569.53" y2="314.85" stroke="#c3c6e0" stroke-width="0.85"/>
<line x1="568.03" y1="314.85" x2="571.03" y2="314.85" stroke="#c3c6e0" stroke-width="0.85"/>
<line x1="573" y1="292.64" x2="573" y2="324.16" stroke="#c3c6e0" stroke-width="0.85"/>
<line x1="571.5" y1="324.16" x2="574.5" y2="324.16" stroke="#c3c6e0" stroke-width="0.85"/>
<line x1="580.81" y1="290.27" x2="580.81" y2="297.42" stroke="#c3c6e0" stroke-width="0.85"/>
<line x1="579.31" y1="297.42" x2="582.31" y2="297.42" stroke="#c3c6e0" stroke-width="0.85"/>
<line x1="558.24" y1="305.88" x2="558.24" y2="325.5" stroke="#c3c6e0" stroke-width="0.85"/>
<line x1="556.74" y1="325.5" x2="559.74" y2="325.5" stroke="#c3c6e0" stroke-width="0.85"/>
<line x1="578.03" y1="289.09" x2="578.03" y2="299.13" stroke="#c3c6e0" stroke-width="0.85"/>
<line x1="576.53" y1="299.13" x2="579.53" y2="299.13" stroke="#c3c6e0" stroke-width="0.85"/>
<line x1="560.7" y1="306.41" x2="560.7" y2="314.43" stroke="#c3c6e0" stroke-width="0.85"/>
<line x1="559.2" y1="314.43" x2="562.2" y2="314.43" stroke="#c3c6e0" stroke-width="0.85"/>
<line x1="533.39" y1="315.6" x2="533.39" y2="330.95" stroke="#c3c6e0" stroke-width="0.85"/>
<line x1="531.89" y1="330.95" x2="534.89" y2="330.95" stroke="#c3c6e0" stroke-width="0.85"/>
<line x1="538.22" y1="316.24" x2="538.22" y2="339.27" stroke="#c3c6e0" stroke-width="0.85"/>
<line x1="536.72" y1="339.27" x2="539.72" y2="339.27" stroke="#c3c6e0" stroke-width="0.85"/>
<line x1="553.33" y1="310.09" x2="553.33" y2="340.89" stroke="#c3c6e0" stroke-width="0.85"/>
<line x1="551.83" y1="340.89" x2="554.83" y2="340.89" stroke="#c3c6e0" stroke-width="0.85"/>
<line x1="541.82" y1="312.49" x2="541.82" y2="320.29" stroke="#c3c6e0" stroke-width="0.85"/>
<line x1="540.32" y1="320.29" x2="543.32" y2="320.29" stroke="#c3c6e0" stroke-width="0.85"/>
<line x1="555.35" y1="310.45" x2="555.35" y2="335.39" stroke="#c3c6e0" stroke-width="0.85"/>
<line x1="553.85" y1="335.39" x2="556.85" y2="335.39" stroke="#c3c6e0" stroke-width="0.85"/>
<line x1="531.9" y1="313.12" x2="531.9" y2="337.26" stroke="#c3c6e0" stroke-width="0.85"/>
<line x1="530.4" y1="337.26" x2="533.4" y2="337.26" stroke="#c3c6e0" stroke-width="0.85"/>
<line x1="525.51" y1="313.55" x2="525.51" y2="326.33" stroke="#c3c6e0" stroke-width="0.85"/>
<line x1="524.01" y1="326.33" x2="527.01" y2="326.33" stroke="#c3c6e0" stroke-width="0.85"/>
<line x1="566.65" y1="300.83" x2="566.65" y2="322.67" stroke="#c3c6e0" stroke-width="0.85"/>
<line x1="565.15" y1="322.67" x2="568.15" y2="322.67" stroke="#c3c6e0" stroke-width="0.85"/>
<line x1="600.03" y1="265.28" x2="600.03" y2="276.67" stroke="#c3c6e0" stroke-width="0.85"/>
<line x1="598.53" y1="276.67" x2="601.53" y2="276.67" stroke="#c3c6e0" stroke-width="0.85"/>
<line x1="588.29" y1="278.49" x2="588.29" y2="294.61" stroke="#c3c6e0" stroke-width="0.85"/>
<line x1="586.79" y1="294.61" x2="589.79" y2="294.61" stroke="#c3c6e0" stroke-width="0.85"/>
<line x1="534.08" y1="313.65" x2="534.08" y2="342.12" stroke="#c3c6e0" stroke-width="0.85"/>
<line x1="532.58" y1="342.12" x2="535.58" y2="342.12" stroke="#c3c6e0" stroke-width="0.85"/>
<line x1="599.94" y1="264.46" x2="599.94" y2="277.96" stroke="#c3c6e0" stroke-width="0.85"/>
<line x1="598.44" y1="277.96" x2="601.44" y2="277.96" stroke="#c3c6e0" stroke-width="0.85"/>
<line x1="550.97" y1="310.09" x2="550.97" y2="317.95" stroke="#c3c6e0" stroke-width="0.85"/>
<line x1="549.47" y1="317.95" x2="552.47" y2="317.95" stroke="#c3c6e0" stroke-width="0.85"/>
<line x1="531.32" y1="314.95" x2="531.32" y2="343.2" stroke="#c3c6e0" stroke-width="0.85"/>
<line x1="529.82" y1="343.2" x2="532.82" y2="343.2" stroke="#c3c6e0" stroke-width="0.85"/>
<line x1="533.97" y1="313.49" x2="533.97" y2="349.34" stroke="#c3c6e0" stroke-width="0.85"/>
<line x1="532.47" y1="349.34" x2="535.47" y2="349.34" stroke="#c3c6e0" stroke-width="0.85"/>
<line x1="552.97" y1="311.46" x2="552.97" y2="330.06" stroke="#c3c6e0" stroke-width="0.85"/>
<line x1="551.47" y1="330.06" x2="554.47" y2="330.06" stroke="#c3c6e0" stroke-width="0.85"/>
<line x1="546.15" y1="312.26" x2="546.15" y2="336.42" stroke="#c3c6e0" stroke-width="0.85"/>
<line x1="544.65" y1="336.42" x2="547.65" y2="336.42" stroke="#c3c6e0" stroke-width="0.85"/>
<line x1="600.26" y1="264.49" x2="600.26" y2="277.27" stroke="#c3c6e0" stroke-width="0.85"/>
<line x1="598.76" y1="277.27" x2="601.76" y2="277.27" stroke="#c3c6e0" stroke-width="0.85"/>
<line x1="543.59" y1="312.75" x2="543.59" y2="339.68" stroke="#c3c6e0" stroke-width="0.85"/>
<line x1="542.09" y1="339.68" x2="545.09" y2="339.68" stroke="#c3c6e0" stroke-width="0.85"/>
<line x1="556.17" y1="309.54" x2="556.17" y2="350.17" stroke="#c3c6e0" stroke-width="0.85"/>
<line x1="554.67" y1="350.17" x2="557.67" y2="350.17" stroke="#c3c6e0" stroke-width="0.85"/>
<line x1="562.33" y1="304.71" x2="562.33" y2="325.43" stroke="#c3c6e0" stroke-width="0.85"/>
<line x1="560.83" y1="325.43" x2="563.83" y2="325.43" stroke="#c3c6e0" stroke-width="0.85"/>
<line x1="532.45" y1="314.16" x2="532.45" y2="339.09" stroke="#c3c6e0" stroke-width="0.85"/>
<line x1="530.95" y1="339.09" x2="533.95" y2="339.09" stroke="#c3c6e0" stroke-width="0.85"/>
<line x1="546.28" y1="313.33" x2="546.28" y2="346.15" stroke="#c3c6e0" stroke-width="0.85"/>
<line x1="544.78" y1="346.15" x2="547.78" y2="346.15" stroke="#c3c6e0" stroke-width="0.85"/>
<line x1="523.67" y1="313.26" x2="523.67" y2="329.77" stroke="#c3c6e0" stroke-width="0.85"/>
<line x1="522.17" y1="329.77" x2="525.17" y2="329.77" stroke="#c3c6e0" stroke-width="0.85"/>
<line x1="598.17" y1="267.26" x2="598.17" y2="278.67" stroke="#c3c6e0" stroke-width="0.85"/>
<line x1="596.67" y1="278.67" x2="599.67" y2="278.67" stroke="#c3c6e0" stroke-width="0.85"/>
<line x1="544.23" y1="317.96" x2="544.23" y2="349.23" stroke="#c3c6e0" stroke-width="0.85"/>
<line x1="542.73" y1="349.23" x2="545.73" y2="349.23" stroke="#c3c6e0" stroke-width="0.85"/>
<line x1="546.29" y1="314.37" x2="546.29" y2="338.75" stroke="#c3c6e0" stroke-width="0.85"/>
<line x1="544.79" y1="338.75" x2="547.79" y2="338.75" stroke="#c3c6e0" stroke-width="0.85"/>
<line x1="574.71" y1="292.17" x2="574.71" y2="329.84" stroke="#c3c6e0" stroke-width="0.85"/>
<line x1="573.21" y1="329.84" x2="576.21" y2="329.84" stroke="#c3c6e0" stroke-width="0.85"/>
<line x1="532.15" y1="313.44" x2="532.15" y2="335.13" stroke="#c3c6e0" stroke-width="0.85"/>
<line x1="530.65" y1="335.13" x2="533.65" y2="335.13" stroke="#c3c6e0" stroke-width="0.85"/>
<line x1="565.71" y1="301.64" x2="565.71" y2="318.12" stroke="#c3c6e0" stroke-width="0.85"/>
<line x1="564.21" y1="318.12" x2="567.21" y2="318.12" stroke="#c3c6e0" stroke-width="0.85"/>
<line x1="565.41" y1="301.11" x2="565.41" y2="319.95" stroke="#c3c6e0" stroke-width="0.85"/>
<line x1="563.91" y1="319.95" x2="566.91" y2="319.95" stroke="#c3c6e0" stroke-width="0.85"/>
<line x1="582.8" y1="284.81" x2="582.8" y2="292.37" stroke="#c3c6e0" stroke-width="0.85"/>
<line x1="581.3" y1="292.37" x2="584.3" y2="292.37" stroke="#c3c6e0" stroke-width="0.85"/>
<line x1="543" y1="315.66" x2="543" y2="348.33" stroke="#c3c6e0" stroke-width="0.85"/>
<line x1="541.5" y1="348.33" x2="544.5" y2="348.33" stroke="#c3c6e0" stroke-width="0.85"/>
<line x1="594.35" y1="272.51" x2="594.35" y2="279.28" stroke="#c3c6e0" stroke-width="0.85"/>
<line x1="592.85" y1="279.28" x2="595.85" y2="279.28" stroke="#c3c6e0" stroke-width="0.85"/>
<line x1="585.49" y1="282.84" x2="585.49" y2="298.8" stroke="#c3c6e0" stroke-width="0.85"/>
<line x1="583.99" y1="298.8" x2="586.99" y2="298.8" stroke="#c3c6e0" stroke-width="0.85"/>
<line x1="579.82" y1="287.51" x2="579.82" y2="303.16" stroke="#c3c6e0" stroke-width="0.85"/>
<line x1="578.32" y1="303.16" x2="581.32" y2="303.16" stroke="#c3c6e0" stroke-width="0.85"/>
<line x1="596.27" y1="271.43" x2="596.27" y2="284.63" stroke="#c3c6e0" stroke-width="0.85"/>
<line x1="594.77" y1="284.63" x2="597.77" y2="284.63" stroke="#c3c6e0" stroke-width="0.85"/>
<line x1="591.43" y1="277.76" x2="591.43" y2="291.44" stroke="#c3c6e0" stroke-width="0.85"/>
<line x1="589.93" y1="291.44" x2="592.93" y2="291.44" stroke="#c3c6e0" stroke-width="0.85"/>
<line x1="589.67" y1="280.45" x2="589.67" y2="300.84" stroke="#c3c6e0" stroke-width="0.85"/>
<line x1="588.17" y1="300.84" x2="591.17" y2="300.84" stroke="#c3c6e0" stroke-width="0.85"/>
<line x1="578.73" y1="289.66" x2="578.73" y2="305.27" stroke="#c3c6e0" stroke-width="0.85"/>
<line x1="577.23" y1="305.27" x2="580.23" y2="305.27" stroke="#c3c6e0" stroke-width="0.85"/>
<line x1="585.68" y1="279.73" x2="585.68" y2="292.19" stroke="#c3c6e0" stroke-width="0.85"/>
<line x1="584.18" y1="292.19" x2="587.18" y2="292.19" stroke="#c3c6e0" stroke-width="0.85"/>
<line x1="561.26" y1="304.02" x2="561.26" y2="326.89" stroke="#c3c6e0" stroke-width="0.85"/>
<line x1="559.76" y1="326.89" x2="562.76" y2="326.89" stroke="#c3c6e0" stroke-width="0.85"/>
<line x1="549.32" y1="315.44" x2="549.32" y2="341.2" stroke="#c3c6e0" stroke-width="0.85"/>
<line x1="547.82" y1="341.2" x2="550.82" y2="341.2" stroke="#c3c6e0" stroke-width="0.85"/>
<line x1="588.2" y1="282.03" x2="588.2" y2="292.14" stroke="#c3c6e0" stroke-width="0.85"/>
<line x1="586.7" y1="292.14" x2="589.7" y2="292.14" stroke="#c3c6e0" stroke-width="0.85"/>
<line x1="588.82" y1="277.01" x2="588.82" y2="298.77" stroke="#c3c6e0" stroke-width="0.85"/>
<line x1="587.32" y1="298.77" x2="590.32" y2="298.77" stroke="#c3c6e0" stroke-width="0.85"/>
<line x1="524.66" y1="312.54" x2="524.66" y2="345.6" stroke="#c3c6e0" stroke-width="0.85"/>
<line x1="523.16" y1="345.6" x2="526.16" y2="345.6" stroke="#c3c6e0" stroke-width="0.85"/>
<line x1="603.27" y1="262.92" x2="603.27" y2="269.65" stroke="#c3c6e0" stroke-width="0.85"/>
<line x1="601.77" y1="269.65" x2="604.77" y2="269.65" stroke="#c3c6e0" stroke-width="0.85"/>
<line x1="590.64" y1="278.48" x2="590.64" y2="297.95" stroke="#c3c6e0" stroke-width="0.85"/>
<line x1="589.14" y1="297.95" x2="592.14" y2="297.95" stroke="#c3c6e0" stroke-width="0.85"/>
<line x1="599.54" y1="266.38" x2="599.54" y2="275.11" stroke="#c3c6e0" stroke-width="0.85"/>
<line x1="598.04" y1="275.11" x2="601.04" y2="275.11" stroke="#c3c6e0" stroke-width="0.85"/>
<line x1="546.23" y1="312.54" x2="546.23" y2="329.41" stroke="#c3c6e0" stroke-width="0.85"/>
<line x1="544.73" y1="329.41" x2="547.73" y2="329.41" stroke="#c3c6e0" stroke-width="0.85"/>
<line x1="571.94" y1="295.74" x2="571.94" y2="309.94" stroke="#c3c6e0" stroke-width="0.85"/>
<line x1="570.44" y1="309.94" x2="573.44" y2="309.94" stroke="#c3c6e0" stroke-width="0.85"/>
<line x1="572.89" y1="297.13" x2="572.89" y2="307.88" stroke="#c3c6e0" stroke-width="0.85"/>
<line x1="571.39" y1="307.88" x2="574.39" y2="307.88" stroke="#c3c6e0" stroke-width="0.85"/>
<line x1="553.24" y1="313.4" x2="553.24" y2="322.04" stroke="#c3c6e0" stroke-width="0.85"/>
<line x1="551.74" y1="322.04" x2="554.74" y2="322.04" stroke="#c3c6e0" stroke-width="0.85"/>
<line x1="569.08" y1="296.28" x2="569.08" y2="322.61" stroke="#c3c6e0" stroke-width="0.85"/>
<line x1="567.58" y1="322.61" x2="570.58" y2="322.61" stroke="#c3c6e0" stroke-width="0.85"/>
<line x1="533.45" y1="314.89" x2="533.45" y2="335.42" stroke="#c3c6e0" stroke-width="0.85"/>
<line x1="531.95" y1="335.42" x2="534.95" y2="335.42" stroke="#c3c6e0" stroke-width="0.85"/>
<line x1="571.1" y1="296.02" x2="571.1" y2="326.24" stroke="#c3c6e0" stroke-width="0.85"/>
<line x1="569.6" y1="326.24" x2="572.6" y2="326.24" stroke="#c3c6e0" stroke-width="0.85"/>
<line x1="552.84" y1="313.83" x2="552.84" y2="343.57" stroke="#c3c6e0" stroke-width="0.85"/>
<line x1="551.34" y1="343.57" x2="554.34" y2="343.57" stroke="#c3c6e0" stroke-width="0.85"/>
<line x1="534.81" y1="313.14" x2="534.81" y2="340.68" stroke="#c3c6e0" stroke-width="0.85"/>
<line x1="533.31" y1="340.68" x2="536.31" y2="340.68" stroke="#c3c6e0" stroke-width="0.85"/>
<line x1="596.16" y1="270.52" x2="596.16" y2="287.75" stroke="#c3c6e0" stroke-width="0.85"/>
<line x1="594.66" y1="287.75" x2="597.66" y2="287.75" stroke="#c3c6e0" stroke-width="0.85"/>
<line x1="543.87" y1="315.43" x2="543.87" y2="333.4" stroke="#c3c6e0" stroke-width="0.85"/>
<line x1="542.37" y1="333.4" x2="545.37" y2="333.4" stroke="#c3c6e0" stroke-width="0.85"/>
<line x1="583.25" y1="284.76" x2="583.25" y2="294.25" stroke="#c3c6e0" stroke-width="0.85"/>
<line x1="581.75" y1="294.25" x2="584.75" y2="294.25" stroke="#c3c6e0" stroke-width="0.85"/>
<line x1="541.54" y1="315.57" x2="541.54" y2="345.2" stroke="#c3c6e0" stroke-width="0.85"/>
<line x1="540.04" y1="345.2" x2="543.04" y2="345.2" stroke="#c3c6e0" stroke-width="0.85"/>
<line x1="537.09" y1="311.72" x2="537.09" y2="344.2" stroke="#c3c6e0" stroke-width="0.85"/>
<line x1="535.59" y1="344.2" x2="538.59" y2="344.2" stroke="#c3c6e0" stroke-width="0.85"/>
<line x1="529.49" y1="314.9" x2="529.49" y2="327.96" stroke="#c3c6e0" stroke-width="0.85"/>
<line x1="527.99" y1="327.96" x2="530.99" y2="327.96" stroke="#c3c6e0" stroke-width="0.85"/>
<line x1="532.68" y1="314.23" x2="532.68" y2="333.09" stroke="#c3c6e0" stroke-width="0.85"/>
<line x1="531.18" y1="333.09" x2="534.18" y2="333.09" stroke="#c3c6e0" stroke-width="0.85"/>
<line x1="593.46" y1="273.87" x2="593.46" y2="288.85" stroke="#c3c6e0" stroke-width="0.85"/>
<line x1="591.96" y1="288.85" x2="594.96" y2="288.85" stroke="#c3c6e0" stroke-width="0.85"/>
<line x1="586.95" y1="283.63" x2="586.95" y2="300.1" stroke="#c3c6e0" stroke-width="0.85"/>
<line x1="585.45" y1="300.1" x2="588.45" y2="300.1" stroke="#c3c6e0" stroke-width="0.85"/>
<line x1="526.94" y1="316.93" x2="526.94" y2="349.13" stroke="#c3c6e0" stroke-width="0.85"/>
<line x1="525.44" y1="349.13" x2="528.44" y2="349.13" stroke="#c3c6e0" stroke-width="0.85"/>
<line x1="577.63" y1="291.88" x2="577.63" y2="303.86" stroke="#c3c6e0" stroke-width="0.85"/>
<line x1="576.13" y1="303.86" x2="579.13" y2="303.86" stroke="#c3c6e0" stroke-width="0.85"/>
<line x1="601.19" y1="265.1" x2="601.19" y2="276.4" stroke="#c3c6e0" stroke-width="0.85"/>
<line x1="599.69" y1="276.4" x2="602.69" y2="276.4" stroke="#c3c6e0" stroke-width="0.85"/>
<line x1="533.89" y1="313.55" x2="533.89" y2="336.56" stroke="#c3c6e0" stroke-width="0.85"/>
<line x1="532.39" y1="336.56" x2="535.39" y2="336.56" stroke="#c3c6e0" stroke-width="0.85"/>
<line x1="541.59" y1="315.82" x2="541.59" y2="342.55" stroke="#c3c6e0" stroke-width="0.85"/>
<line x1="540.09" y1="342.55" x2="543.09" y2="342.55" stroke="#c3c6e0" stroke-width="0.85"/>
<line x1="550.77" y1="313.25" x2="550.77" y2="327.38" stroke="#c3c6e0" stroke-width="0.85"/>
<line x1="549.27" y1="327.38" x2="552.27" y2="327.38" stroke="#c3c6e0" stroke-width="0.85"/>
<line x1="589.75" y1="276.87" x2="589.75" y2="300.41" stroke="#c3c6e0" stroke-width="0.85"/>
<line x1="588.25" y1="300.41" x2="591.25" y2="300.41" stroke="#c3c6e0" stroke-width="0.85"/>
<line x1="557.62" y1="305.17" x2="557.62" y2="336.51" stroke="#c3c6e0" stroke-width="0.85"/>
<line x1="556.12" y1="336.51" x2="559.12" y2="336.51" stroke="#c3c6e0" stroke-width="0.85"/>
<line x1="570.48" y1="296.06" x2="570.48" y2="321.72" stroke="#c3c6e0" stroke-width="0.85"/>
<line x1="568.98" y1="321.72" x2="571.98" y2="321.72" stroke="#c3c6e0" stroke-width="0.85"/>
<line x1="554.56" y1="312.18" x2="554.56" y2="319.38" stroke="#c3c6e0" stroke-width="0.85"/>
<line x1="553.06" y1="319.38" x2="556.06" y2="319.38" stroke="#c3c6e0" stroke-width="0.85"/>
<line x1="538.95" y1="316.52" x2="538.95" y2="348.95" stroke="#c3c6e0" stroke-width="0.85"/>
<line x1="537.45" y1="348.95" x2="540.45" y2="348.95" stroke="#c3c6e0" stroke-width="0.85"/>
<line x1="561.46" y1="302.58" x2="561.46" y2="309.4" stroke="#c3c6e0" stroke-width="0.85"/>
<line x1="559.96" y1="309.4" x2="562.96" y2="309.4" stroke="#c3c6e0" stroke-width="0.85"/>
<line x1="560.59" y1="302.52" x2="560.59" y2="330.23" stroke="#c3c6e0" stroke-width="0.85"/>
<line x1="559.09" y1="330.23" x2="562.09" y2="330.23" stroke="#c3c6e0" stroke-width="0.85"/>
<line x1="557.23" y1="307.8" x2="557.23" y2="321.9" stroke="#c3c6e0" stroke-width="0.85"/>
<line x1="555.73" y1="321.9" x2="558.73" y2="321.9" stroke="#c3c6e0" stroke-width="0.85"/>
<line x1="535.1" y1="315.86" x2="535.1" y2="337.07" stroke="#c3c6e0" stroke-width="0.85"/>
<line x1="533.6" y1="337.07" x2="536.6" y2="337.07" stroke="#c3c6e0" stroke-width="0.85"/>
<line x1="553.76" y1="308.13" x2="553.76" y2="326.68" stroke="#c3c6e0" stroke-width="0.85"/>
<line x1="552.26" y1="326.68" x2="555.26" y2="326.68" stroke="#c3c6e0" stroke-width="0.85"/>
<line x1="543.13" y1="316.78" x2="543.13" y2="330.27" stroke="#c3c6e0" stroke-width="0.85"/>
<line x1="541.63" y1="330.27" x2="544.63" y2="330.27" stroke="#c3c6e0" stroke-width="0.85"/>
<line x1="545.79" y1="316.88" x2="545.79" y2="338.96" stroke="#c3c6e0" stroke-width="0.85"/>
<line x1="544.29" y1="338.96" x2="547.29" y2="338.96" stroke="#c3c6e0" stroke-width="0.85"/>
<line x1="525.19" y1="311.55" x2="525.19" y2="334.7" stroke="#c3c6e0" stroke-width="0.85"/>
<line x1="523.69" y1="334.7" x2="526.69" y2="334.7" stroke="#c3c6e0" stroke-width="0.85"/>
<line x1="598.39" y1="267.62" x2="598.39" y2="281.98" stroke="#c3c6e0" stroke-width="0.85"/>
<line x1="596.89" y1="281.98" x2="599.89" y2="281.98" stroke="#c3c6e0" stroke-width="0.85"/>
<line x1="560.72" y1="302.08" x2="560.72" y2="317.19" stroke="#c3c6e0" stroke-width="0.85"/>
<line x1="559.22" y1="317.19" x2="562.22" y2="317.19" stroke="#c3c6e0" stroke-width="0.85"/>
<line x1="576.62" y1="292.36" x2="576.62" y2="326.94" stroke="#c3c6e0" stroke-width="0.85"/>
<line x1="575.12" y1="326.94" x2="578.12" y2="326.94" stroke="#c3c6e0" stroke-width="0.85"/>
<line x1="581.53" y1="288.77" x2="581.53" y2="297.41" stroke="#c3c6e0" stroke-width="0.85"/>
<line x1="580.03" y1="297.41" x2="583.03" y2="297.41" stroke="#c3c6e0" stroke-width="0.85"/>
<line x1="524.61" y1="315.47" x2="524.61" y2="324.69" stroke="#c3c6e0" stroke-width="0.85"/>
<line x1="523.11" y1="324.69" x2="526.11" y2="324.69" stroke="#c3c6e0" stroke-width="0.85"/>
<line x1="555.01" y1="306.56" x2="555.01" y2="334.04" stroke="#c3c6e0" stroke-width="0.85"/>
<line x1="553.51" y1="334.04" x2="556.51" y2="334.04" stroke="#c3c6e0" stroke-width="0.85"/>
<line x1="547.8" y1="314.39" x2="547.8" y2="333.45" stroke="#c3c6e0" stroke-width="0.85"/>
<line x1="546.3" y1="333.45" x2="549.3" y2="333.45" stroke="#c3c6e0" stroke-width="0.85"/>
<line x1="581.77" y1="285.17" x2="581.77" y2="296.47" stroke="#c3c6e0" stroke-width="0.85"/>
<line x1="580.27" y1="296.47" x2="583.27" y2="296.47" stroke="#c3c6e0" stroke-width="0.85"/>
<line x1="542.04" y1="313.97" x2="542.04" y2="349.05" stroke="#c3c6e0" stroke-width="0.85"/>
<line x1="540.54" y1="349.05" x2="543.54" y2="349.05" stroke="#c3c6e0" stroke-width="0.85"/>
<line x1="574.79" y1="293.14" x2="574.79" y2="335.71" stroke="#c3c6e0" stroke-width="0.85"/>
<line x1="573.29" y1="335.71" x2="576.29" y2="335.71" stroke="#c3c6e0" stroke-width="0.85"/>
<line x1="523.11" y1="315.85" x2="523.11" y2="338.23" stroke="#c3c6e0" stroke-width="0.85"/>
<line x1="521.61" y1="338.23" x2="524.61" y2="338.23" stroke="#c3c6e0" stroke-width="0.85"/>
<line x1="555.74" y1="311.53" x2="555.74" y2="339.38" stroke="#c3c6e0" stroke-width="0.85"/>
<line x1="554.24" y1="339.38" x2="557.24" y2="339.38" stroke="#c3c6e0" stroke-width="0.85"/>
<line x1="602.56" y1="264.68" x2="602.56" y2="272" stroke="#c3c6e0" stroke-width="0.85"/>
<line x1="601.06" y1="272" x2="604.06" y2="272" stroke="#c3c6e0" stroke-width="0.85"/>
<line x1="530.18" y1="318.38" x2="530.18" y2="348.85" stroke="#c3c6e0" stroke-width="0.85"/>
<line x1="528.68" y1="348.85" x2="531.68" y2="348.85" stroke="#c3c6e0" stroke-width="0.85"/>
<line x1="562.29" y1="300.85" x2="562.29" y2="313.05" stroke="#c3c6e0" stroke-width="0.85"/>
<line x1="560.79" y1="313.05" x2="563.79" y2="313.05" stroke="#c3c6e0" stroke-width="0.85"/>
<line x1="542.27" y1="287.47" x2="542.27" y2="289.7" stroke="#c3c6e0" stroke-width="0.85"/>
<line x1="540.77" y1="287.47" x2="543.77" y2="287.47" stroke="#c3c6e0" stroke-width="0.85"/>
<line x1="554.7" y1="288.22" x2="554.7" y2="290.49" stroke="#c3c6e0" stroke-width="0.85"/>
<line x1="553.2" y1="288.22" x2="556.2" y2="288.22" stroke="#c3c6e0" stroke-width="0.85"/>
<line x1="543.24" y1="285.87" x2="543.24" y2="289.7" stroke="#c3c6e0" stroke-width="0.85"/>
<line x1="541.74" y1="285.87" x2="544.74" y2="285.87" stroke="#c3c6e0" stroke-width="0.85"/>
<line x1="547.32" y1="287.47" x2="547.32" y2="289.7" stroke="#c3c6e0" stroke-width="0.85"/>
<line x1="545.82" y1="287.47" x2="548.82" y2="287.47" stroke="#c3c6e0" stroke-width="0.85"/>
<line x1="525.64" y1="284.36" x2="525.64" y2="290.73" stroke="#c3c6e0" stroke-width="0.85"/>
<line x1="524.14" y1="284.36" x2="527.14" y2="284.36" stroke="#c3c6e0" stroke-width="0.85"/>
<line x1="537.09" y1="283.21" x2="537.09" y2="287.5" stroke="#c3c6e0" stroke-width="0.85"/>
<line x1="535.59" y1="283.21" x2="538.59" y2="283.21" stroke="#c3c6e0" stroke-width="0.85"/>
<line x1="555.11" y1="285.8" x2="555.11" y2="290.19" stroke="#c3c6e0" stroke-width="0.85"/>
<line x1="553.61" y1="285.8" x2="556.61" y2="285.8" stroke="#c3c6e0" stroke-width="0.85"/>
<line x1="529.42" y1="286.36" x2="529.42" y2="289.77" stroke="#c3c6e0" stroke-width="0.85"/>
<line x1="527.92" y1="286.36" x2="530.92" y2="286.36" stroke="#c3c6e0" stroke-width="0.85"/>
<line x1="531.32" y1="284.78" x2="531.32" y2="289.22" stroke="#c3c6e0" stroke-width="0.85"/>
<line x1="529.82" y1="284.78" x2="532.82" y2="284.78" stroke="#c3c6e0" stroke-width="0.85"/>
<line x1="597.04" y1="262.52" x2="597.04" y2="267.21" stroke="#c3c6e0" stroke-width="0.85"/>
<line x1="595.54" y1="262.52" x2="598.54" y2="262.52" stroke="#c3c6e0" stroke-width="0.85"/>
<line x1="591.83" y1="267.56" x2="591.83" y2="270.53" stroke="#c3c6e0" stroke-width="0.85"/>
<line x1="590.33" y1="267.56" x2="593.33" y2="267.56" stroke="#c3c6e0" stroke-width="0.85"/>
<line x1="524.01" y1="286.72" x2="524.01" y2="291.14" stroke="#c3c6e0" stroke-width="0.85"/>
<line x1="522.51" y1="286.72" x2="525.51" y2="286.72" stroke="#c3c6e0" stroke-width="0.85"/>
<line x1="561.91" y1="280.15" x2="561.91" y2="284.72" stroke="#c3c6e0" stroke-width="0.85"/>
<line x1="560.41" y1="280.15" x2="563.41" y2="280.15" stroke="#c3c6e0" stroke-width="0.85"/>
<line x1="553.03" y1="285.45" x2="553.03" y2="290.26" stroke="#c3c6e0" stroke-width="0.85"/>
<line x1="551.53" y1="285.45" x2="554.53" y2="285.45" stroke="#c3c6e0" stroke-width="0.85"/>
<line x1="581.23" y1="271.15" x2="581.23" y2="277.26" stroke="#c3c6e0" stroke-width="0.85"/>
<line x1="579.73" y1="271.15" x2="582.73" y2="271.15" stroke="#c3c6e0" stroke-width="0.85"/>
<line x1="547.45" y1="285.68" x2="547.45" y2="289.7" stroke="#c3c6e0" stroke-width="0.85"/>
<line x1="545.95" y1="285.68" x2="548.95" y2="285.68" stroke="#c3c6e0" stroke-width="0.85"/>
<line x1="589.37" y1="268.72" x2="589.37" y2="271.73" stroke="#c3c6e0" stroke-width="0.85"/>
<line x1="587.87" y1="268.72" x2="590.87" y2="268.72" stroke="#c3c6e0" stroke-width="0.85"/>
<line x1="531.95" y1="285.63" x2="531.95" y2="289.03" stroke="#c3c6e0" stroke-width="0.85"/>
<line x1="530.45" y1="285.63" x2="533.45" y2="285.63" stroke="#c3c6e0" stroke-width="0.85"/>
<line x1="529.68" y1="284.23" x2="529.68" y2="289.7" stroke="#c3c6e0" stroke-width="0.85"/>
<line x1="528.18" y1="284.23" x2="531.18" y2="284.23" stroke="#c3c6e0" stroke-width="0.85"/>
<line x1="588.81" y1="268.6" x2="588.81" y2="272.01" stroke="#c3c6e0" stroke-width="0.85"/>
<line x1="587.31" y1="268.6" x2="590.31" y2="268.6" stroke="#c3c6e0" stroke-width="0.85"/>
<line x1="533.09" y1="286.32" x2="533.09" y2="288.69" stroke="#c3c6e0" stroke-width="0.85"/>
<line x1="531.59" y1="286.32" x2="534.59" y2="286.32" stroke="#c3c6e0" stroke-width="0.85"/>
<line x1="542.38" y1="287.32" x2="542.38" y2="289.7" stroke="#c3c6e0" stroke-width="0.85"/>
<line x1="540.88" y1="287.32" x2="543.88" y2="287.32" stroke="#c3c6e0" stroke-width="0.85"/>
<line x1="557.23" y1="283.47" x2="557.23" y2="288.07" stroke="#c3c6e0" stroke-width="0.85"/>
<line x1="555.73" y1="283.47" x2="558.73" y2="283.47" stroke="#c3c6e0" stroke-width="0.85"/>
<line x1="542.43" y1="287.42" x2="542.43" y2="289.7" stroke="#c3c6e0" stroke-width="0.85"/>
<line x1="540.93" y1="287.42" x2="543.93" y2="287.42" stroke="#c3c6e0" stroke-width="0.85"/>
<line x1="579.21" y1="276.74" x2="579.21" y2="278.96" stroke="#c3c6e0" stroke-width="0.85"/>
<line x1="577.71" y1="276.74" x2="580.71" y2="276.74" stroke="#c3c6e0" stroke-width="0.85"/>
<line x1="538.75" y1="285.04" x2="538.75" y2="288.32" stroke="#c3c6e0" stroke-width="0.85"/>
<line x1="537.25" y1="285.04" x2="540.25" y2="285.04" stroke="#c3c6e0" stroke-width="0.85"/>
<line x1="552.8" y1="287.79" x2="552.8" y2="290.23" stroke="#c3c6e0" stroke-width="0.85"/>
<line x1="551.3" y1="287.79" x2="554.3" y2="287.79" stroke="#c3c6e0" stroke-width="0.85"/>
<line x1="556.58" y1="285.3" x2="556.58" y2="288.72" stroke="#c3c6e0" stroke-width="0.85"/>
<line x1="555.08" y1="285.3" x2="558.08" y2="285.3" stroke="#c3c6e0" stroke-width="0.85"/>
<line x1="583.39" y1="271.14" x2="583.39" y2="275.64" stroke="#c3c6e0" stroke-width="0.85"/>
<line x1="581.89" y1="271.14" x2="584.89" y2="271.14" stroke="#c3c6e0" stroke-width="0.85"/>
<line x1="595" y1="263.66" x2="595" y2="268.6" stroke="#c3c6e0" stroke-width="0.85"/>
<line x1="593.5" y1="263.66" x2="596.5" y2="263.66" stroke="#c3c6e0" stroke-width="0.85"/>
<line x1="583.99" y1="270.61" x2="583.99" y2="275.2" stroke="#c3c6e0" stroke-width="0.85"/>
<line x1="582.49" y1="270.61" x2="585.49" y2="270.61" stroke="#c3c6e0" stroke-width="0.85"/>
<line x1="558.33" y1="281.3" x2="558.33" y2="286.97" stroke="#c3c6e0" stroke-width="0.85"/>
<line x1="556.83" y1="281.3" x2="559.83" y2="281.3" stroke="#c3c6e0" stroke-width="0.85"/>
<line x1="575.56" y1="274.6" x2="575.56" y2="280.9" stroke="#c3c6e0" stroke-width="0.85"/>
<line x1="574.06" y1="274.6" x2="577.06" y2="274.6" stroke="#c3c6e0" stroke-width="0.85"/>
<line x1="581.42" y1="271.95" x2="581.42" y2="277.11" stroke="#c3c6e0" stroke-width="0.85"/>
<line x1="579.92" y1="271.95" x2="582.92" y2="271.95" stroke="#c3c6e0" stroke-width="0.85"/>
<line x1="544.23" y1="284.05" x2="544.23" y2="289.7" stroke="#c3c6e0" stroke-width="0.85"/>
<line x1="542.73" y1="284.05" x2="545.73" y2="284.05" stroke="#c3c6e0" stroke-width="0.85"/>
<line x1="553.5" y1="287.74" x2="553.5" y2="290.32" stroke="#c3c6e0" stroke-width="0.85"/>
<line x1="552" y1="287.74" x2="555" y2="287.74" stroke="#c3c6e0" stroke-width="0.85"/>
<line x1="527.93" y1="287.39" x2="527.93" y2="290.15" stroke="#c3c6e0" stroke-width="0.85"/>
<line x1="526.43" y1="287.39" x2="529.43" y2="287.39" stroke="#c3c6e0" stroke-width="0.85"/>
<line x1="543.82" y1="284.66" x2="543.82" y2="289.7" stroke="#c3c6e0" stroke-width="0.85"/>
<line x1="542.32" y1="284.66" x2="545.32" y2="284.66" stroke="#c3c6e0" stroke-width="0.85"/>
<line x1="545.67" y1="287.41" x2="545.67" y2="289.7" stroke="#c3c6e0" stroke-width="0.85"/>
<line x1="544.17" y1="287.41" x2="547.17" y2="287.41" stroke="#c3c6e0" stroke-width="0.85"/>
<line x1="584.31" y1="270.44" x2="584.31" y2="274.95" stroke="#c3c6e0" stroke-width="0.85"/>
<line x1="582.81" y1="270.44" x2="585.81" y2="270.44" stroke="#c3c6e0" stroke-width="0.85"/>
<line x1="524.82" y1="288.71" x2="524.82" y2="290.94" stroke="#c3c6e0" stroke-width="0.85"/>
<line x1="523.32" y1="288.71" x2="526.32" y2="288.71" stroke="#c3c6e0" stroke-width="0.85"/>
<line x1="533.11" y1="285.08" x2="533.11" y2="288.69" stroke="#c3c6e0" stroke-width="0.85"/>
<line x1="531.61" y1="285.08" x2="534.61" y2="285.08" stroke="#c3c6e0" stroke-width="0.85"/>
<line x1="592.07" y1="264.13" x2="592.07" y2="270.41" stroke="#c3c6e0" stroke-width="0.85"/>
<line x1="590.57" y1="264.13" x2="593.57" y2="264.13" stroke="#c3c6e0" stroke-width="0.85"/>
<line x1="572.05" y1="277.86" x2="572.05" y2="280.9" stroke="#c3c6e0" stroke-width="0.85"/>
<line x1="570.55" y1="277.86" x2="573.55" y2="277.86" stroke="#c3c6e0" stroke-width="0.85"/>
<line x1="557.26" y1="284.41" x2="557.26" y2="288.04" stroke="#c3c6e0" stroke-width="0.85"/>
<line x1="555.76" y1="284.41" x2="558.76" y2="284.41" stroke="#c3c6e0" stroke-width="0.85"/>
<line x1="549.29" y1="287.7" x2="549.29" y2="289.75" stroke="#c3c6e0" stroke-width="0.85"/>
<line x1="547.79" y1="287.7" x2="550.79" y2="287.7" stroke="#c3c6e0" stroke-width="0.85"/>
<line x1="569.82" y1="275.62" x2="569.82" y2="281.34" stroke="#c3c6e0" stroke-width="0.85"/>
<line x1="568.32" y1="275.62" x2="571.32" y2="275.62" stroke="#c3c6e0" stroke-width="0.85"/>
<line x1="581.33" y1="274.75" x2="581.33" y2="277.18" stroke="#c3c6e0" stroke-width="0.85"/>
<line x1="579.83" y1="274.75" x2="582.83" y2="274.75" stroke="#c3c6e0" stroke-width="0.85"/>
<line x1="565.45" y1="280.2" x2="565.45" y2="282.97" stroke="#c3c6e0" stroke-width="0.85"/>
<line x1="563.95" y1="280.2" x2="566.95" y2="280.2" stroke="#c3c6e0" stroke-width="0.85"/>
<line x1="579.92" y1="274.35" x2="579.92" y2="278.36" stroke="#c3c6e0" stroke-width="0.85"/>
<line x1="578.42" y1="274.35" x2="581.42" y2="274.35" stroke="#c3c6e0" stroke-width="0.85"/>
<line x1="598.43" y1="260.86" x2="598.43" y2="266.44" stroke="#c3c6e0" stroke-width="0.85"/>
<line x1="596.93" y1="260.86" x2="599.93" y2="260.86" stroke="#c3c6e0" stroke-width="0.85"/>
<line x1="532.15" y1="285.54" x2="532.15" y2="288.97" stroke="#c3c6e0" stroke-width="0.85"/>
<line x1="530.65" y1="285.54" x2="533.65" y2="285.54" stroke="#c3c6e0" stroke-width="0.85"/>
<line x1="596.53" y1="263.49" x2="596.53" y2="267.56" stroke="#c3c6e0" stroke-width="0.85"/>
<line x1="595.03" y1="263.49" x2="598.03" y2="263.49" stroke="#c3c6e0" stroke-width="0.85"/>
<line x1="557.68" y1="283.63" x2="557.68" y2="287.62" stroke="#c3c6e0" stroke-width="0.85"/>
<line x1="556.18" y1="283.63" x2="559.18" y2="283.63" stroke="#c3c6e0" stroke-width="0.85"/>
<line x1="584.61" y1="268.52" x2="584.61" y2="274.73" stroke="#c3c6e0" stroke-width="0.85"/>
<line x1="583.11" y1="268.52" x2="586.11" y2="268.52" stroke="#c3c6e0" stroke-width="0.85"/>
<line x1="565.63" y1="276.54" x2="565.63" y2="282.9" stroke="#c3c6e0" stroke-width="0.85"/>
<line x1="564.13" y1="276.54" x2="567.13" y2="276.54" stroke="#c3c6e0" stroke-width="0.85"/>
<line x1="570.76" y1="278.52" x2="570.76" y2="280.99" stroke="#c3c6e0" stroke-width="0.85"/>
<line x1="569.26" y1="278.52" x2="572.26" y2="278.52" stroke="#c3c6e0" stroke-width="0.85"/>
<line x1="588.39" y1="268.33" x2="588.39" y2="272.21" stroke="#c3c6e0" stroke-width="0.85"/>
<line x1="586.89" y1="268.33" x2="589.89" y2="268.33" stroke="#c3c6e0" stroke-width="0.85"/>
<line x1="526.83" y1="284.03" x2="526.83" y2="290.43" stroke="#c3c6e0" stroke-width="0.85"/>
<line x1="525.33" y1="284.03" x2="528.33" y2="284.03" stroke="#c3c6e0" stroke-width="0.85"/>
<line x1="525.26" y1="286.23" x2="525.26" y2="290.83" stroke="#c3c6e0" stroke-width="0.85"/>
<line x1="523.76" y1="286.23" x2="526.76" y2="286.23" stroke="#c3c6e0" stroke-width="0.85"/>
<line x1="561.55" y1="278.94" x2="561.55" y2="284.91" stroke="#c3c6e0" stroke-width="0.85"/>
<line x1="560.05" y1="278.94" x2="563.05" y2="278.94" stroke="#c3c6e0" stroke-width="0.85"/>
<line x1="554.33" y1="287.47" x2="554.33" y2="290.44" stroke="#c3c6e0" stroke-width="0.85"/>
<line x1="552.83" y1="287.47" x2="555.83" y2="287.47" stroke="#c3c6e0" stroke-width="0.85"/>
<line x1="544.99" y1="286.79" x2="544.99" y2="289.7" stroke="#c3c6e0" stroke-width="0.85"/>
<line x1="543.49" y1="286.79" x2="546.49" y2="286.79" stroke="#c3c6e0" stroke-width="0.85"/>
<line x1="568.04" y1="278.4" x2="568.04" y2="282" stroke="#c3c6e0" stroke-width="0.85"/>
<line x1="566.54" y1="278.4" x2="569.54" y2="278.4" stroke="#c3c6e0" stroke-width="0.85"/>
<line x1="583.29" y1="272.63" x2="583.29" y2="275.72" stroke="#c3c6e0" stroke-width="0.85"/>
<line x1="581.79" y1="272.63" x2="584.79" y2="272.63" stroke="#c3c6e0" stroke-width="0.85"/>
<line x1="551.02" y1="286.87" x2="551.02" y2="289.99" stroke="#c3c6e0" stroke-width="0.85"/>
<line x1="549.52" y1="286.87" x2="552.52" y2="286.87" stroke="#c3c6e0" stroke-width="0.85"/>
<line x1="601.98" y1="258.92" x2="601.98" y2="264.7" stroke="#c3c6e0" stroke-width="0.85"/>
<line x1="600.48" y1="258.92" x2="603.48" y2="258.92" stroke="#c3c6e0" stroke-width="0.85"/>
<line x1="591.27" y1="266.02" x2="591.27" y2="270.8" stroke="#c3c6e0" stroke-width="0.85"/>
<line x1="589.77" y1="266.02" x2="592.77" y2="266.02" stroke="#c3c6e0" stroke-width="0.85"/>
<line x1="554.99" y1="287.67" x2="554.99" y2="290.31" stroke="#c3c6e0" stroke-width="0.85"/>
<line x1="553.49" y1="287.67" x2="556.49" y2="287.67" stroke="#c3c6e0" stroke-width="0.85"/>
<line x1="589.8" y1="267.32" x2="589.8" y2="271.52" stroke="#c3c6e0" stroke-width="0.85"/>
<line x1="588.3" y1="267.32" x2="591.3" y2="267.32" stroke="#c3c6e0" stroke-width="0.85"/>
<line x1="525.65" y1="287.96" x2="525.65" y2="290.73" stroke="#c3c6e0" stroke-width="0.85"/>
<line x1="524.15" y1="287.96" x2="527.15" y2="287.96" stroke="#c3c6e0" stroke-width="0.85"/>
<line x1="530.58" y1="284.21" x2="530.58" y2="289.44" stroke="#c3c6e0" stroke-width="0.85"/>
<line x1="529.08" y1="284.21" x2="532.08" y2="284.21" stroke="#c3c6e0" stroke-width="0.85"/>
<line x1="595.33" y1="265.48" x2="595.33" y2="268.38" stroke="#c3c6e0" stroke-width="0.85"/>
<line x1="593.83" y1="265.48" x2="596.83" y2="265.48" stroke="#c3c6e0" stroke-width="0.85"/>
<line x1="587" y1="269.49" x2="587" y2="272.95" stroke="#c3c6e0" stroke-width="0.85"/>
<line x1="585.5" y1="269.49" x2="588.5" y2="269.49" stroke="#c3c6e0" stroke-width="0.85"/>
<line x1="577.78" y1="274.28" x2="577.78" y2="280.16" stroke="#c3c6e0" stroke-width="0.85"/>
<line x1="576.28" y1="274.28" x2="579.28" y2="274.28" stroke="#c3c6e0" stroke-width="0.85"/>
<line x1="572.95" y1="275.3" x2="572.95" y2="280.9" stroke="#c3c6e0" stroke-width="0.85"/>
<line x1="571.45" y1="275.3" x2="574.45" y2="275.3" stroke="#c3c6e0" stroke-width="0.85"/>
<line x1="553.02" y1="288.21" x2="553.02" y2="290.26" stroke="#c3c6e0" stroke-width="0.85"/>
<line x1="551.52" y1="288.21" x2="554.52" y2="288.21" stroke="#c3c6e0" stroke-width="0.85"/>
<line x1="563.95" y1="279.05" x2="563.95" y2="283.69" stroke="#c3c6e0" stroke-width="0.85"/>
<line x1="562.45" y1="279.05" x2="565.45" y2="279.05" stroke="#c3c6e0" stroke-width="0.85"/>
<line x1="537.53" y1="283.96" x2="537.53" y2="287.71" stroke="#c3c6e0" stroke-width="0.85"/>
<line x1="536.03" y1="283.96" x2="539.03" y2="283.96" stroke="#c3c6e0" stroke-width="0.85"/>
<line x1="548.23" y1="287.58" x2="548.23" y2="289.7" stroke="#c3c6e0" stroke-width="0.85"/>
<line x1="546.73" y1="287.58" x2="549.73" y2="287.58" stroke="#c3c6e0" stroke-width="0.85"/>
<line x1="547.82" y1="285.98" x2="547.82" y2="289.7" stroke="#c3c6e0" stroke-width="0.85"/>
<line x1="546.32" y1="285.98" x2="549.32" y2="285.98" stroke="#c3c6e0" stroke-width="0.85"/>
<line x1="561.07" y1="279.98" x2="561.07" y2="285.15" stroke="#c3c6e0" stroke-width="0.85"/>
<line x1="559.57" y1="279.98" x2="562.57" y2="279.98" stroke="#c3c6e0" stroke-width="0.85"/>
<line x1="554.85" y1="284.03" x2="554.85" y2="290.45" stroke="#c3c6e0" stroke-width="0.85"/>
<line x1="553.35" y1="284.03" x2="556.35" y2="284.03" stroke="#c3c6e0" stroke-width="0.85"/>
<line x1="588.49" y1="266.01" x2="588.49" y2="272.16" stroke="#c3c6e0" stroke-width="0.85"/>
<line x1="586.99" y1="266.01" x2="589.99" y2="266.01" stroke="#c3c6e0" stroke-width="0.85"/>
<line x1="578.58" y1="274.47" x2="578.58" y2="279.49" stroke="#c3c6e0" stroke-width="0.85"/>
<line x1="577.08" y1="274.47" x2="580.08" y2="274.47" stroke="#c3c6e0" stroke-width="0.85"/>
<line x1="564.47" y1="300.47" x2="567.47" y2="300.47" stroke="#b9bcd9" stroke-width="0.7"/>
<line x1="550.41" y1="305.2" x2="553.41" y2="305.2" stroke="#b9bcd9" stroke-width="0.7"/>
<line x1="576" y1="287.24" x2="579" y2="287.24" stroke="#b9bcd9" stroke-width="0.7"/>
<line x1="544.06" y1="290.24" x2="547.06" y2="290.24" stroke="#b9bcd9" stroke-width="0.7"/>
<line x1="528.15" y1="299.55" x2="531.15" y2="299.55" stroke="#b9bcd9" stroke-width="0.7"/>
<line x1="568" y1="296.86" x2="571" y2="296.86" stroke="#b9bcd9" stroke-width="0.7"/>
<line x1="578.83" y1="281.18" x2="581.83" y2="281.18" stroke="#b9bcd9" stroke-width="0.7"/>
<line x1="596.18" y1="267.45" x2="599.18" y2="267.45" stroke="#b9bcd9" stroke-width="0.7"/>
<line x1="578.96" y1="277.12" x2="581.96" y2="277.12" stroke="#b9bcd9" stroke-width="0.7"/>
<line x1="581.97" y1="284.32" x2="584.97" y2="284.32" stroke="#b9bcd9" stroke-width="0.7"/>
<line x1="598.42" y1="271.41" x2="601.42" y2="271.41" stroke="#b9bcd9" stroke-width="0.7"/>
<line x1="576.66" y1="292.02" x2="579.66" y2="292.02" stroke="#b9bcd9" stroke-width="0.7"/>
<line x1="580.78" y1="284.52" x2="583.78" y2="284.52" stroke="#b9bcd9" stroke-width="0.7"/>
<line x1="537.97" y1="303.36" x2="540.97" y2="303.36" stroke="#b9bcd9" stroke-width="0.7"/>
<line x1="593.51" y1="269.1" x2="596.51" y2="269.1" stroke="#b9bcd9" stroke-width="0.7"/>
<line x1="599.85" y1="267.32" x2="602.85" y2="267.32" stroke="#b9bcd9" stroke-width="0.7"/>
<line x1="552.89" y1="288.52" x2="555.89" y2="288.52" stroke="#b9bcd9" stroke-width="0.7"/>
<line x1="552.63" y1="293.17" x2="555.63" y2="293.17" stroke="#b9bcd9" stroke-width="0.7"/>
<line x1="573.87" y1="295.37" x2="576.87" y2="295.37" stroke="#b9bcd9" stroke-width="0.7"/>
<line x1="594.64" y1="271.99" x2="597.64" y2="271.99" stroke="#b9bcd9" stroke-width="0.7"/>
<line x1="552.34" y1="291.31" x2="555.34" y2="291.31" stroke="#b9bcd9" stroke-width="0.7"/>
<line x1="576.75" y1="287.12" x2="579.75" y2="287.12" stroke="#b9bcd9" stroke-width="0.7"/>
<line x1="578.89" y1="282.26" x2="581.89" y2="282.26" stroke="#b9bcd9" stroke-width="0.7"/>
<line x1="592.75" y1="269.41" x2="595.75" y2="269.41" stroke="#b9bcd9" stroke-width="0.7"/>
<line x1="545.79" y1="296.2" x2="548.79" y2="296.2" stroke="#b9bcd9" stroke-width="0.7"/>
<line x1="571.37" y1="297.3" x2="574.37" y2="297.3" stroke="#b9bcd9" stroke-width="0.7"/>
<line x1="534.63" y1="306.42" x2="537.63" y2="306.42" stroke="#b9bcd9" stroke-width="0.7"/>
<line x1="583.03" y1="276.31" x2="586.03" y2="276.31" stroke="#b9bcd9" stroke-width="0.7"/>
<line x1="526.17" y1="306.28" x2="529.17" y2="306.28" stroke="#b9bcd9" stroke-width="0.7"/>
<line x1="588.19" y1="281.22" x2="591.19" y2="281.22" stroke="#b9bcd9" stroke-width="0.7"/>
<line x1="579.93" y1="282.09" x2="582.93" y2="282.09" stroke="#b9bcd9" stroke-width="0.7"/>
<line x1="555.47" y1="300.33" x2="558.47" y2="300.33" stroke="#b9bcd9" stroke-width="0.7"/>
<line x1="594.2" y1="269.21" x2="597.2" y2="269.21" stroke="#b9bcd9" stroke-width="0.7"/>
<line x1="543.78" y1="307.6" x2="546.78" y2="307.6" stroke="#b9bcd9" stroke-width="0.7"/>
<line x1="599.2" y1="264.87" x2="602.2" y2="264.87" stroke="#b9bcd9" stroke-width="0.7"/>
<line x1="523.56" y1="292.36" x2="526.56" y2="292.36" stroke="#b9bcd9" stroke-width="0.7"/>
<line x1="566.56" y1="294.26" x2="569.56" y2="294.26" stroke="#b9bcd9" stroke-width="0.7"/>
<line x1="535.96" y1="291.86" x2="538.96" y2="291.86" stroke="#b9bcd9" stroke-width="0.7"/>
<line x1="569.14" y1="293.47" x2="572.14" y2="293.47" stroke="#b9bcd9" stroke-width="0.7"/>
<line x1="576.87" y1="289.99" x2="579.87" y2="289.99" stroke="#b9bcd9" stroke-width="0.7"/>
<line x1="526.06" y1="303.68" x2="529.06" y2="303.68" stroke="#b9bcd9" stroke-width="0.7"/>
<line x1="588.54" y1="281.89" x2="591.54" y2="281.89" stroke="#b9bcd9" stroke-width="0.7"/>
<line x1="546.83" y1="314.23" x2="549.83" y2="314.23" stroke="#b9bcd9" stroke-width="0.7"/>
<line x1="573.23" y1="296.39" x2="576.23" y2="296.39" stroke="#b9bcd9" stroke-width="0.7"/>
<line x1="539.61" y1="309.89" x2="542.61" y2="309.89" stroke="#b9bcd9" stroke-width="0.7"/>
<line x1="589.03" y1="275.24" x2="592.03" y2="275.24" stroke="#b9bcd9" stroke-width="0.7"/>
<line x1="529.24" y1="293.81" x2="532.24" y2="293.81" stroke="#b9bcd9" stroke-width="0.7"/>
<line x1="533.76" y1="289.08" x2="536.76" y2="289.08" stroke="#b9bcd9" stroke-width="0.7"/>
<line x1="533.38" y1="306.32" x2="536.38" y2="306.32" stroke="#b9bcd9" stroke-width="0.7"/>
<line x1="529.58" y1="312.42" x2="532.58" y2="312.42" stroke="#b9bcd9" stroke-width="0.7"/>
<line x1="580.59" y1="288.1" x2="583.59" y2="288.1" stroke="#b9bcd9" stroke-width="0.7"/>
<line x1="586.04" y1="280.99" x2="589.04" y2="280.99" stroke="#b9bcd9" stroke-width="0.7"/>
<line x1="595.77" y1="274.38" x2="598.77" y2="274.38" stroke="#b9bcd9" stroke-width="0.7"/>
<line x1="571.61" y1="298.49" x2="574.61" y2="298.49" stroke="#b9bcd9" stroke-width="0.7"/>
<line x1="529.45" y1="290.74" x2="532.45" y2="290.74" stroke="#b9bcd9" stroke-width="0.7"/>
<line x1="526.31" y1="294.79" x2="529.31" y2="294.79" stroke="#b9bcd9" stroke-width="0.7"/>
<line x1="551.35" y1="301.04" x2="554.35" y2="301.04" stroke="#b9bcd9" stroke-width="0.7"/>
<line x1="576.08" y1="290.91" x2="579.08" y2="290.91" stroke="#b9bcd9" stroke-width="0.7"/>
<line x1="527.87" y1="301.12" x2="530.87" y2="301.12" stroke="#b9bcd9" stroke-width="0.7"/>
<line x1="565.01" y1="289.73" x2="568.01" y2="289.73" stroke="#b9bcd9" stroke-width="0.7"/>
<line x1="530.6" y1="306.72" x2="533.6" y2="306.72" stroke="#b9bcd9" stroke-width="0.7"/>
<line x1="551.35" y1="307.32" x2="554.35" y2="307.32" stroke="#b9bcd9" stroke-width="0.7"/>
<line x1="561.14" y1="307.21" x2="564.14" y2="307.21" stroke="#b9bcd9" stroke-width="0.7"/>
<line x1="597.46" y1="264.83" x2="600.46" y2="264.83" stroke="#b9bcd9" stroke-width="0.7"/>
<line x1="582.49" y1="284.63" x2="585.49" y2="284.63" stroke="#b9bcd9" stroke-width="0.7"/>
<line x1="545.01" y1="291.46" x2="548.01" y2="291.46" stroke="#b9bcd9" stroke-width="0.7"/>
<line x1="559.8" y1="292.32" x2="562.8" y2="292.32" stroke="#b9bcd9" stroke-width="0.7"/>
<line x1="580.68" y1="289.69" x2="583.68" y2="289.69" stroke="#b9bcd9" stroke-width="0.7"/>
<line x1="551.97" y1="296.26" x2="554.97" y2="296.26" stroke="#b9bcd9" stroke-width="0.7"/>
<line x1="561.4" y1="300.16" x2="564.4" y2="300.16" stroke="#b9bcd9" stroke-width="0.7"/>
<line x1="584.85" y1="280.09" x2="587.85" y2="280.09" stroke="#b9bcd9" stroke-width="0.7"/>
<line x1="545.01" y1="298.55" x2="548.01" y2="298.55" stroke="#b9bcd9" stroke-width="0.7"/>
<line x1="589.62" y1="275.31" x2="592.62" y2="275.31" stroke="#b9bcd9" stroke-width="0.7"/>
<line x1="525.17" y1="301.62" x2="528.17" y2="301.62" stroke="#b9bcd9" stroke-width="0.7"/>
<line x1="540.32" y1="309.16" x2="543.32" y2="309.16" stroke="#b9bcd9" stroke-width="0.7"/>
<line x1="527.03" y1="296.81" x2="530.03" y2="296.81" stroke="#b9bcd9" stroke-width="0.7"/>
<line x1="528.86" y1="303.37" x2="531.86" y2="303.37" stroke="#b9bcd9" stroke-width="0.7"/>
<line x1="600.66" y1="266.7" x2="603.66" y2="266.7" stroke="#b9bcd9" stroke-width="0.7"/>
<line x1="552.31" y1="313.58" x2="555.31" y2="313.58" stroke="#b9bcd9" stroke-width="0.7"/>
<line x1="528.52" y1="299.44" x2="531.52" y2="299.44" stroke="#b9bcd9" stroke-width="0.7"/>
<line x1="586.61" y1="270.42" x2="589.61" y2="270.42" stroke="#b9bcd9" stroke-width="0.7"/>
<line x1="582.99" y1="278.49" x2="585.99" y2="278.49" stroke="#b9bcd9" stroke-width="0.7"/>
<line x1="522.43" y1="296.54" x2="525.43" y2="296.54" stroke="#b9bcd9" stroke-width="0.7"/>
<line x1="558.13" y1="294.13" x2="561.13" y2="294.13" stroke="#b9bcd9" stroke-width="0.7"/>
<line x1="562.85" y1="282.82" x2="565.85" y2="282.82" stroke="#b9bcd9" stroke-width="0.7"/>
<line x1="604" y1="258" x2="604" y2="270" stroke="#c3c6e0" stroke-width="0.9"/>
<line x1="602.6" y1="258" x2="605.4" y2="258" stroke="#c3c6e0" stroke-width="0.9"/>
<line x1="602.6" y1="270" x2="605.4" y2="270" stroke="#c3c6e0" stroke-width="0.9"/>
<line x1="609" y1="256" x2="609" y2="266" stroke="#c3c6e0" stroke-width="0.9"/>
<line x1="607.6" y1="256" x2="610.4" y2="256" stroke="#c3c6e0" stroke-width="0.9"/>
<line x1="607.6" y1="266" x2="610.4" y2="266" stroke="#c3c6e0" stroke-width="0.9"/>
<line x1="612" y1="256" x2="612" y2="268" stroke="#c3c6e0" stroke-width="0.9"/>
<line x1="610.6" y1="256" x2="613.4" y2="256" stroke="#c3c6e0" stroke-width="0.9"/>
<line x1="610.6" y1="268" x2="613.4" y2="268" stroke="#c3c6e0" stroke-width="0.9"/>
<line x1="616" y1="262" x2="616" y2="276" stroke="#c3c6e0" stroke-width="0.9"/>
<line x1="614.6" y1="262" x2="617.4" y2="262" stroke="#c3c6e0" stroke-width="0.9"/>
<line x1="614.6" y1="276" x2="617.4" y2="276" stroke="#c3c6e0" stroke-width="0.9"/>
<line x1="620.5" y1="263" x2="620.5" y2="279" stroke="#c3c6e0" stroke-width="0.9"/>
<line x1="619.1" y1="263" x2="621.9" y2="263" stroke="#c3c6e0" stroke-width="0.9"/>
<line x1="619.1" y1="279" x2="621.9" y2="279" stroke="#c3c6e0" stroke-width="0.9"/>
<line x1="625" y1="262" x2="625" y2="273" stroke="#c3c6e0" stroke-width="0.9"/>
<line x1="623.6" y1="262" x2="626.4" y2="262" stroke="#c3c6e0" stroke-width="0.9"/>
<line x1="623.6" y1="273" x2="626.4" y2="273" stroke="#c3c6e0" stroke-width="0.9"/>
<line x1="632" y1="255" x2="632" y2="266" stroke="#c3c6e0" stroke-width="0.9"/>
<line x1="630.6" y1="255" x2="633.4" y2="255" stroke="#c3c6e0" stroke-width="0.9"/>
<line x1="630.6" y1="266" x2="633.4" y2="266" stroke="#c3c6e0" stroke-width="0.9"/>
<line x1="638" y1="251" x2="638" y2="262" stroke="#c3c6e0" stroke-width="0.9"/>
<line x1="636.6" y1="251" x2="639.4" y2="251" stroke="#c3c6e0" stroke-width="0.9"/>
<line x1="636.6" y1="262" x2="639.4" y2="262" stroke="#c3c6e0" stroke-width="0.9"/>
<line x1="647" y1="244" x2="647" y2="256" stroke="#c3c6e0" stroke-width="0.9"/>
<line x1="645.6" y1="244" x2="648.4" y2="244" stroke="#c3c6e0" stroke-width="0.9"/>
<line x1="645.6" y1="256" x2="648.4" y2="256" stroke="#c3c6e0" stroke-width="0.9"/>
<line x1="656.5" y1="235" x2="656.5" y2="243" stroke="#c3c6e0" stroke-width="0.9"/>
<line x1="655.1" y1="235" x2="657.9" y2="235" stroke="#c3c6e0" stroke-width="0.9"/>
<line x1="655.1" y1="243" x2="657.9" y2="243" stroke="#c3c6e0" stroke-width="0.9"/>
<line x1="523.2" y1="286.9" x2="675.3" y2="213.1" stroke="#e31e2b" stroke-width="3.2"/>
<path d="M 523.2,294.7 C 524.95,294.9 530.35,295.47 533.7,295.9 C 537.05,296.33 539.95,296.85 543.3,297.3 C 546.65,297.75 550.93,298.65 553.8,298.6 C 556.67,298.55 557.78,298.35 560.5,297 C 563.22,295.65 566.58,293.05 570.1,290.5 C 573.62,287.95 577.65,284.87 581.6,281.7 C 585.55,278.53 590.32,274.43 593.8,271.5 C 597.28,268.57 600.17,265.73 602.5,264.1 C 604.83,262.47 606.18,261.9 607.8,261.7 C 609.42,261.5 610.75,261.98 612.2,262.9 C 613.65,263.82 615.05,266.13 616.5,267.2 C 617.95,268.27 619.58,269.17 620.9,269.3 C 622.22,269.43 623.08,269.17 624.4,268 C 625.72,266.83 627.33,264.05 628.8,262.3 C 630.27,260.55 631.73,258.67 633.2,257.5 C 634.67,256.33 636.15,256.03 637.6,255.3 C 639.05,254.57 640.12,254.47 641.9,253.1 C 643.68,251.73 645.85,249.68 648.3,247.1 C 650.75,244.52 653.83,240.12 656.6,237.6 C 659.37,235.08 661.78,233.23 664.9,232 C 668.02,230.77 673.57,230.5 675.3,230.2" fill="none" stroke="#2c54a6" stroke-width="2.8" stroke-linecap="butt" stroke-linejoin="round"/>
<rect x="508.7" y="196.9" width="168.4" height="158.1" fill="none" stroke="#6e6e6e" stroke-width="1.1"/>
<line x1="508.7" y1="355" x2="508.7" y2="352.4" stroke="#6e6e6e" stroke-width="0.9"/>
<line x1="508.7" y1="196.9" x2="508.7" y2="199.5" stroke="#6e6e6e" stroke-width="0.9"/>
<line x1="525.6" y1="355" x2="525.6" y2="353.5" stroke="#6e6e6e" stroke-width="0.9"/>
<line x1="525.6" y1="196.9" x2="525.6" y2="198.4" stroke="#6e6e6e" stroke-width="0.9"/>
<line x1="535.48" y1="355" x2="535.48" y2="353.5" stroke="#6e6e6e" stroke-width="0.9"/>
<line x1="535.48" y1="196.9" x2="535.48" y2="198.4" stroke="#6e6e6e" stroke-width="0.9"/>
<line x1="542.5" y1="355" x2="542.5" y2="353.5" stroke="#6e6e6e" stroke-width="0.9"/>
<line x1="542.5" y1="196.9" x2="542.5" y2="198.4" stroke="#6e6e6e" stroke-width="0.9"/>
<line x1="547.94" y1="355" x2="547.94" y2="353.5" stroke="#6e6e6e" stroke-width="0.9"/>
<line x1="547.94" y1="196.9" x2="547.94" y2="198.4" stroke="#6e6e6e" stroke-width="0.9"/>
<line x1="552.38" y1="355" x2="552.38" y2="353.5" stroke="#6e6e6e" stroke-width="0.9"/>
<line x1="552.38" y1="196.9" x2="552.38" y2="198.4" stroke="#6e6e6e" stroke-width="0.9"/>
<line x1="556.14" y1="355" x2="556.14" y2="353.5" stroke="#6e6e6e" stroke-width="0.9"/>
<line x1="556.14" y1="196.9" x2="556.14" y2="198.4" stroke="#6e6e6e" stroke-width="0.9"/>
<line x1="559.39" y1="355" x2="559.39" y2="353.5" stroke="#6e6e6e" stroke-width="0.9"/>
<line x1="559.39" y1="196.9" x2="559.39" y2="198.4" stroke="#6e6e6e" stroke-width="0.9"/>
<line x1="562.26" y1="355" x2="562.26" y2="353.5" stroke="#6e6e6e" stroke-width="0.9"/>
<line x1="562.26" y1="196.9" x2="562.26" y2="198.4" stroke="#6e6e6e" stroke-width="0.9"/>
<line x1="564.83" y1="355" x2="564.83" y2="352.4" stroke="#6e6e6e" stroke-width="0.9"/>
<line x1="564.83" y1="196.9" x2="564.83" y2="199.5" stroke="#6e6e6e" stroke-width="0.9"/>
<line x1="581.73" y1="355" x2="581.73" y2="353.5" stroke="#6e6e6e" stroke-width="0.9"/>
<line x1="581.73" y1="196.9" x2="581.73" y2="198.4" stroke="#6e6e6e" stroke-width="0.9"/>
<line x1="591.62" y1="355" x2="591.62" y2="353.5" stroke="#6e6e6e" stroke-width="0.9"/>
<line x1="591.62" y1="196.9" x2="591.62" y2="198.4" stroke="#6e6e6e" stroke-width="0.9"/>
<line x1="598.63" y1="355" x2="598.63" y2="353.5" stroke="#6e6e6e" stroke-width="0.9"/>
<line x1="598.63" y1="196.9" x2="598.63" y2="198.4" stroke="#6e6e6e" stroke-width="0.9"/>
<line x1="604.07" y1="355" x2="604.07" y2="353.5" stroke="#6e6e6e" stroke-width="0.9"/>
<line x1="604.07" y1="196.9" x2="604.07" y2="198.4" stroke="#6e6e6e" stroke-width="0.9"/>
<line x1="608.51" y1="355" x2="608.51" y2="353.5" stroke="#6e6e6e" stroke-width="0.9"/>
<line x1="608.51" y1="196.9" x2="608.51" y2="198.4" stroke="#6e6e6e" stroke-width="0.9"/>
<line x1="612.27" y1="355" x2="612.27" y2="353.5" stroke="#6e6e6e" stroke-width="0.9"/>
<line x1="612.27" y1="196.9" x2="612.27" y2="198.4" stroke="#6e6e6e" stroke-width="0.9"/>
<line x1="615.53" y1="355" x2="615.53" y2="353.5" stroke="#6e6e6e" stroke-width="0.9"/>
<line x1="615.53" y1="196.9" x2="615.53" y2="198.4" stroke="#6e6e6e" stroke-width="0.9"/>
<line x1="618.4" y1="355" x2="618.4" y2="353.5" stroke="#6e6e6e" stroke-width="0.9"/>
<line x1="618.4" y1="196.9" x2="618.4" y2="198.4" stroke="#6e6e6e" stroke-width="0.9"/>
<line x1="620.97" y1="355" x2="620.97" y2="352.4" stroke="#6e6e6e" stroke-width="0.9"/>
<line x1="620.97" y1="196.9" x2="620.97" y2="199.5" stroke="#6e6e6e" stroke-width="0.9"/>
<line x1="637.86" y1="355" x2="637.86" y2="353.5" stroke="#6e6e6e" stroke-width="0.9"/>
<line x1="637.86" y1="196.9" x2="637.86" y2="198.4" stroke="#6e6e6e" stroke-width="0.9"/>
<line x1="647.75" y1="355" x2="647.75" y2="353.5" stroke="#6e6e6e" stroke-width="0.9"/>
<line x1="647.75" y1="196.9" x2="647.75" y2="198.4" stroke="#6e6e6e" stroke-width="0.9"/>
<line x1="654.76" y1="355" x2="654.76" y2="353.5" stroke="#6e6e6e" stroke-width="0.9"/>
<line x1="654.76" y1="196.9" x2="654.76" y2="198.4" stroke="#6e6e6e" stroke-width="0.9"/>
<line x1="660.2" y1="355" x2="660.2" y2="353.5" stroke="#6e6e6e" stroke-width="0.9"/>
<line x1="660.2" y1="196.9" x2="660.2" y2="198.4" stroke="#6e6e6e" stroke-width="0.9"/>
<line x1="664.65" y1="355" x2="664.65" y2="353.5" stroke="#6e6e6e" stroke-width="0.9"/>
<line x1="664.65" y1="196.9" x2="664.65" y2="198.4" stroke="#6e6e6e" stroke-width="0.9"/>
<line x1="668.4" y1="355" x2="668.4" y2="353.5" stroke="#6e6e6e" stroke-width="0.9"/>
<line x1="668.4" y1="196.9" x2="668.4" y2="198.4" stroke="#6e6e6e" stroke-width="0.9"/>
<line x1="671.66" y1="355" x2="671.66" y2="353.5" stroke="#6e6e6e" stroke-width="0.9"/>
<line x1="671.66" y1="196.9" x2="671.66" y2="198.4" stroke="#6e6e6e" stroke-width="0.9"/>
<line x1="674.53" y1="355" x2="674.53" y2="353.5" stroke="#6e6e6e" stroke-width="0.9"/>
<line x1="674.53" y1="196.9" x2="674.53" y2="198.4" stroke="#6e6e6e" stroke-width="0.9"/>
<line x1="677.1" y1="355" x2="677.1" y2="352.4" stroke="#6e6e6e" stroke-width="0.9"/>
<line x1="677.1" y1="196.9" x2="677.1" y2="199.5" stroke="#6e6e6e" stroke-width="0.9"/>
<line x1="508.7" y1="355" x2="511.3" y2="355" stroke="#6e6e6e" stroke-width="0.9"/>
<line x1="677.1" y1="355" x2="674.5" y2="355" stroke="#6e6e6e" stroke-width="0.9"/>
<line x1="508.7" y1="345.48" x2="510.2" y2="345.48" stroke="#6e6e6e" stroke-width="0.9"/>
<line x1="677.1" y1="345.48" x2="675.6" y2="345.48" stroke="#6e6e6e" stroke-width="0.9"/>
<line x1="508.7" y1="339.91" x2="510.2" y2="339.91" stroke="#6e6e6e" stroke-width="0.9"/>
<line x1="677.1" y1="339.91" x2="675.6" y2="339.91" stroke="#6e6e6e" stroke-width="0.9"/>
<line x1="508.7" y1="335.96" x2="510.2" y2="335.96" stroke="#6e6e6e" stroke-width="0.9"/>
<line x1="677.1" y1="335.96" x2="675.6" y2="335.96" stroke="#6e6e6e" stroke-width="0.9"/>
<line x1="508.7" y1="332.9" x2="510.2" y2="332.9" stroke="#6e6e6e" stroke-width="0.9"/>
<line x1="677.1" y1="332.9" x2="675.6" y2="332.9" stroke="#6e6e6e" stroke-width="0.9"/>
<line x1="508.7" y1="330.39" x2="510.2" y2="330.39" stroke="#6e6e6e" stroke-width="0.9"/>
<line x1="677.1" y1="330.39" x2="675.6" y2="330.39" stroke="#6e6e6e" stroke-width="0.9"/>
<line x1="508.7" y1="328.28" x2="510.2" y2="328.28" stroke="#6e6e6e" stroke-width="0.9"/>
<line x1="677.1" y1="328.28" x2="675.6" y2="328.28" stroke="#6e6e6e" stroke-width="0.9"/>
<line x1="508.7" y1="326.44" x2="510.2" y2="326.44" stroke="#6e6e6e" stroke-width="0.9"/>
<line x1="677.1" y1="326.44" x2="675.6" y2="326.44" stroke="#6e6e6e" stroke-width="0.9"/>
<line x1="508.7" y1="324.83" x2="510.2" y2="324.83" stroke="#6e6e6e" stroke-width="0.9"/>
<line x1="677.1" y1="324.83" x2="675.6" y2="324.83" stroke="#6e6e6e" stroke-width="0.9"/>
<line x1="508.7" y1="323.38" x2="511.3" y2="323.38" stroke="#6e6e6e" stroke-width="0.9"/>
<line x1="677.1" y1="323.38" x2="674.5" y2="323.38" stroke="#6e6e6e" stroke-width="0.9"/>
<line x1="508.7" y1="313.86" x2="510.2" y2="313.86" stroke="#6e6e6e" stroke-width="0.9"/>
<line x1="677.1" y1="313.86" x2="675.6" y2="313.86" stroke="#6e6e6e" stroke-width="0.9"/>
<line x1="508.7" y1="308.29" x2="510.2" y2="308.29" stroke="#6e6e6e" stroke-width="0.9"/>
<line x1="677.1" y1="308.29" x2="675.6" y2="308.29" stroke="#6e6e6e" stroke-width="0.9"/>
<line x1="508.7" y1="304.34" x2="510.2" y2="304.34" stroke="#6e6e6e" stroke-width="0.9"/>
<line x1="677.1" y1="304.34" x2="675.6" y2="304.34" stroke="#6e6e6e" stroke-width="0.9"/>
<line x1="508.7" y1="301.28" x2="510.2" y2="301.28" stroke="#6e6e6e" stroke-width="0.9"/>
<line x1="677.1" y1="301.28" x2="675.6" y2="301.28" stroke="#6e6e6e" stroke-width="0.9"/>
<line x1="508.7" y1="298.77" x2="510.2" y2="298.77" stroke="#6e6e6e" stroke-width="0.9"/>
<line x1="677.1" y1="298.77" x2="675.6" y2="298.77" stroke="#6e6e6e" stroke-width="0.9"/>
<line x1="508.7" y1="296.66" x2="510.2" y2="296.66" stroke="#6e6e6e" stroke-width="0.9"/>
<line x1="677.1" y1="296.66" x2="675.6" y2="296.66" stroke="#6e6e6e" stroke-width="0.9"/>
<line x1="508.7" y1="294.82" x2="510.2" y2="294.82" stroke="#6e6e6e" stroke-width="0.9"/>
<line x1="677.1" y1="294.82" x2="675.6" y2="294.82" stroke="#6e6e6e" stroke-width="0.9"/>
<line x1="508.7" y1="293.21" x2="510.2" y2="293.21" stroke="#6e6e6e" stroke-width="0.9"/>
<line x1="677.1" y1="293.21" x2="675.6" y2="293.21" stroke="#6e6e6e" stroke-width="0.9"/>
<line x1="508.7" y1="291.76" x2="511.3" y2="291.76" stroke="#6e6e6e" stroke-width="0.9"/>
<line x1="677.1" y1="291.76" x2="674.5" y2="291.76" stroke="#6e6e6e" stroke-width="0.9"/>
<line x1="508.7" y1="282.24" x2="510.2" y2="282.24" stroke="#6e6e6e" stroke-width="0.9"/>
<line x1="677.1" y1="282.24" x2="675.6" y2="282.24" stroke="#6e6e6e" stroke-width="0.9"/>
<line x1="508.7" y1="276.67" x2="510.2" y2="276.67" stroke="#6e6e6e" stroke-width="0.9"/>
<line x1="677.1" y1="276.67" x2="675.6" y2="276.67" stroke="#6e6e6e" stroke-width="0.9"/>
<line x1="508.7" y1="272.72" x2="510.2" y2="272.72" stroke="#6e6e6e" stroke-width="0.9"/>
<line x1="677.1" y1="272.72" x2="675.6" y2="272.72" stroke="#6e6e6e" stroke-width="0.9"/>
<line x1="508.7" y1="269.66" x2="510.2" y2="269.66" stroke="#6e6e6e" stroke-width="0.9"/>
<line x1="677.1" y1="269.66" x2="675.6" y2="269.66" stroke="#6e6e6e" stroke-width="0.9"/>
<line x1="508.7" y1="267.15" x2="510.2" y2="267.15" stroke="#6e6e6e" stroke-width="0.9"/>
<line x1="677.1" y1="267.15" x2="675.6" y2="267.15" stroke="#6e6e6e" stroke-width="0.9"/>
<line x1="508.7" y1="265.04" x2="510.2" y2="265.04" stroke="#6e6e6e" stroke-width="0.9"/>
<line x1="677.1" y1="265.04" x2="675.6" y2="265.04" stroke="#6e6e6e" stroke-width="0.9"/>
<line x1="508.7" y1="263.2" x2="510.2" y2="263.2" stroke="#6e6e6e" stroke-width="0.9"/>
<line x1="677.1" y1="263.2" x2="675.6" y2="263.2" stroke="#6e6e6e" stroke-width="0.9"/>
<line x1="508.7" y1="261.59" x2="510.2" y2="261.59" stroke="#6e6e6e" stroke-width="0.9"/>
<line x1="677.1" y1="261.59" x2="675.6" y2="261.59" stroke="#6e6e6e" stroke-width="0.9"/>
<line x1="508.7" y1="260.14" x2="511.3" y2="260.14" stroke="#6e6e6e" stroke-width="0.9"/>
<line x1="677.1" y1="260.14" x2="674.5" y2="260.14" stroke="#6e6e6e" stroke-width="0.9"/>
<line x1="508.7" y1="250.62" x2="510.2" y2="250.62" stroke="#6e6e6e" stroke-width="0.9"/>
<line x1="677.1" y1="250.62" x2="675.6" y2="250.62" stroke="#6e6e6e" stroke-width="0.9"/>
<line x1="508.7" y1="245.05" x2="510.2" y2="245.05" stroke="#6e6e6e" stroke-width="0.9"/>
<line x1="677.1" y1="245.05" x2="675.6" y2="245.05" stroke="#6e6e6e" stroke-width="0.9"/>
<line x1="508.7" y1="241.1" x2="510.2" y2="241.1" stroke="#6e6e6e" stroke-width="0.9"/>
<line x1="677.1" y1="241.1" x2="675.6" y2="241.1" stroke="#6e6e6e" stroke-width="0.9"/>
<line x1="508.7" y1="238.04" x2="510.2" y2="238.04" stroke="#6e6e6e" stroke-width="0.9"/>
<line x1="677.1" y1="238.04" x2="675.6" y2="238.04" stroke="#6e6e6e" stroke-width="0.9"/>
<line x1="508.7" y1="235.53" x2="510.2" y2="235.53" stroke="#6e6e6e" stroke-width="0.9"/>
<line x1="677.1" y1="235.53" x2="675.6" y2="235.53" stroke="#6e6e6e" stroke-width="0.9"/>
<line x1="508.7" y1="233.42" x2="510.2" y2="233.42" stroke="#6e6e6e" stroke-width="0.9"/>
<line x1="677.1" y1="233.42" x2="675.6" y2="233.42" stroke="#6e6e6e" stroke-width="0.9"/>
<line x1="508.7" y1="231.58" x2="510.2" y2="231.58" stroke="#6e6e6e" stroke-width="0.9"/>
<line x1="677.1" y1="231.58" x2="675.6" y2="231.58" stroke="#6e6e6e" stroke-width="0.9"/>
<line x1="508.7" y1="229.97" x2="510.2" y2="229.97" stroke="#6e6e6e" stroke-width="0.9"/>
<line x1="677.1" y1="229.97" x2="675.6" y2="229.97" stroke="#6e6e6e" stroke-width="0.9"/>
<line x1="508.7" y1="228.52" x2="511.3" y2="228.52" stroke="#6e6e6e" stroke-width="0.9"/>
<line x1="677.1" y1="228.52" x2="674.5" y2="228.52" stroke="#6e6e6e" stroke-width="0.9"/>
<line x1="508.7" y1="219" x2="510.2" y2="219" stroke="#6e6e6e" stroke-width="0.9"/>
<line x1="677.1" y1="219" x2="675.6" y2="219" stroke="#6e6e6e" stroke-width="0.9"/>
<line x1="508.7" y1="213.43" x2="510.2" y2="213.43" stroke="#6e6e6e" stroke-width="0.9"/>
<line x1="677.1" y1="213.43" x2="675.6" y2="213.43" stroke="#6e6e6e" stroke-width="0.9"/>
<line x1="508.7" y1="209.48" x2="510.2" y2="209.48" stroke="#6e6e6e" stroke-width="0.9"/>
<line x1="677.1" y1="209.48" x2="675.6" y2="209.48" stroke="#6e6e6e" stroke-width="0.9"/>
<line x1="508.7" y1="206.42" x2="510.2" y2="206.42" stroke="#6e6e6e" stroke-width="0.9"/>
<line x1="677.1" y1="206.42" x2="675.6" y2="206.42" stroke="#6e6e6e" stroke-width="0.9"/>
<line x1="508.7" y1="203.91" x2="510.2" y2="203.91" stroke="#6e6e6e" stroke-width="0.9"/>
<line x1="677.1" y1="203.91" x2="675.6" y2="203.91" stroke="#6e6e6e" stroke-width="0.9"/>
<line x1="508.7" y1="201.8" x2="510.2" y2="201.8" stroke="#6e6e6e" stroke-width="0.9"/>
<line x1="677.1" y1="201.8" x2="675.6" y2="201.8" stroke="#6e6e6e" stroke-width="0.9"/>
<line x1="508.7" y1="199.96" x2="510.2" y2="199.96" stroke="#6e6e6e" stroke-width="0.9"/>
<line x1="677.1" y1="199.96" x2="675.6" y2="199.96" stroke="#6e6e6e" stroke-width="0.9"/>
<line x1="508.7" y1="198.35" x2="510.2" y2="198.35" stroke="#6e6e6e" stroke-width="0.9"/>
<line x1="677.1" y1="198.35" x2="675.6" y2="198.35" stroke="#6e6e6e" stroke-width="0.9"/>
<line x1="508.7" y1="196.9" x2="511.3" y2="196.9" stroke="#6e6e6e" stroke-width="0.9"/>
<line x1="677.1" y1="196.9" x2="674.5" y2="196.9" stroke="#6e6e6e" stroke-width="0.9"/>
<text x="506.3" y="358.8" font-size="9" text-anchor="end" fill="#262626">10<tspan font-size="5.58" dy="-3.42">-1</tspan></text>
<text x="506.3" y="327.36" font-size="9" text-anchor="end" fill="#262626">10<tspan font-size="5.58" dy="-3.42">0</tspan></text>
<text x="506.3" y="295.92" font-size="9" text-anchor="end" fill="#262626">10<tspan font-size="5.58" dy="-3.42">1</tspan></text>
<text x="506.3" y="264.48" font-size="9" text-anchor="end" fill="#262626">10<tspan font-size="5.58" dy="-3.42">2</tspan></text>
<text x="506.3" y="233.04" font-size="9" text-anchor="end" fill="#262626">10<tspan font-size="5.58" dy="-3.42">3</tspan></text>
<text x="506.3" y="201.6" font-size="9" text-anchor="end" fill="#262626">10<tspan font-size="5.58" dy="-3.42">4</tspan></text>
<text x="501.9" y="369" font-size="9" text-anchor="start" fill="#262626">10<tspan font-size="5.58" dy="-3.42">-1</tspan></text>
<text x="558.03" y="369" font-size="9" text-anchor="start" fill="#262626">10<tspan font-size="5.58" dy="-3.42">0</tspan></text>
<text x="614.17" y="369" font-size="9" text-anchor="start" fill="#262626">10<tspan font-size="5.58" dy="-3.42">1</tspan></text>
<text x="670.3" y="369" font-size="9" text-anchor="start" fill="#262626">10<tspan font-size="5.58" dy="-3.42">2</tspan></text>
<text x="1.2" y="443.8" font-size="13.5" text-anchor="start" fill="#111" font-weight="bold">g</text>
<text x="129.3" y="443.8" font-size="10.5" text-anchor="middle" fill="#2e2e2e">Microrheology</text>
<text transform="translate(14.0,525.9) rotate(-90)" font-size="10.5" text-anchor="middle" fill="#2e2e2e">Viscosity (Pa·s)</text>
<rect x="58.2" y="601.72" width="22" height="8.68" fill="#5b8dc8" stroke="#3d6aa0" stroke-width="0.6"/>
<rect x="85.3" y="560.27" width="22" height="50.13" fill="#c0a257" stroke="#8f7836" stroke-width="0.6"/>
<rect x="112.2" y="458.34" width="22" height="152.06" fill="#cd7751" stroke="#9a5236" stroke-width="0.6"/>
<rect x="139.4" y="607.24" width="22" height="3.16" fill="#86b4e3" stroke="#5a86b5" stroke-width="0.6"/>
<rect x="166.8" y="601" width="22" height="9.4" fill="#fbd87c" stroke="#b89d50" stroke-width="0.6"/>
<rect x="194.1" y="564.29" width="22" height="46.11" fill="#ecb08c" stroke="#b08064" stroke-width="0.6"/>
<line x1="36.6" y1="610.4" x2="224.7" y2="610.4" stroke="#a8a8a8" stroke-width="1"/>
<line x1="36.6" y1="452.3" x2="36.6" y2="610.4" stroke="#a8a8a8" stroke-width="1"/>
<line x1="36.1" y1="610.4" x2="38.8" y2="610.4" stroke="#a8a8a8" stroke-width="0.9"/>
<text x="34.3" y="612.65" font-size="9.4" text-anchor="end" fill="#333">0</text>
<line x1="36.1" y1="594.61" x2="38.8" y2="594.61" stroke="#a8a8a8" stroke-width="0.9"/>
<text x="34.3" y="597.07" font-size="9.4" text-anchor="end" fill="#333">20</text>
<line x1="36.1" y1="578.82" x2="38.8" y2="578.82" stroke="#a8a8a8" stroke-width="0.9"/>
<text x="34.3" y="581.5" font-size="9.4" text-anchor="end" fill="#333">40</text>
<line x1="36.1" y1="563.03" x2="38.8" y2="563.03" stroke="#a8a8a8" stroke-width="0.9"/>
<text x="34.3" y="565.92" font-size="9.4" text-anchor="end" fill="#333">60</text>
<line x1="36.1" y1="547.24" x2="38.8" y2="547.24" stroke="#a8a8a8" stroke-width="0.9"/>
<text x="34.3" y="550.35" font-size="9.4" text-anchor="end" fill="#333">80</text>
<line x1="36.1" y1="531.45" x2="38.8" y2="531.45" stroke="#a8a8a8" stroke-width="0.9"/>
<text x="34.3" y="534.77" font-size="9.4" text-anchor="end" fill="#333">100</text>
<line x1="36.1" y1="515.66" x2="38.8" y2="515.66" stroke="#a8a8a8" stroke-width="0.9"/>
<text x="34.3" y="519.19" font-size="9.4" text-anchor="end" fill="#333">120</text>
<line x1="36.1" y1="499.87" x2="38.8" y2="499.87" stroke="#a8a8a8" stroke-width="0.9"/>
<text x="34.3" y="503.62" font-size="9.4" text-anchor="end" fill="#333">140</text>
<line x1="36.1" y1="484.08" x2="38.8" y2="484.08" stroke="#a8a8a8" stroke-width="0.9"/>
<text x="34.3" y="488.04" font-size="9.4" text-anchor="end" fill="#333">160</text>
<line x1="36.1" y1="468.29" x2="38.8" y2="468.29" stroke="#a8a8a8" stroke-width="0.9"/>
<text x="34.3" y="472.47" font-size="9.4" text-anchor="end" fill="#333">180</text>
<line x1="36.1" y1="452.5" x2="38.8" y2="452.5" stroke="#a8a8a8" stroke-width="0.9"/>
<text x="34.3" y="456.89" font-size="9.4" text-anchor="end" fill="#333">200</text>
<line x1="41.3" y1="610.4" x2="41.3" y2="608.8" stroke="#a8a8a8" stroke-width="0.9"/>
<circle cx="64.5" cy="601.3" r="1.35" fill="#000"/>
<circle cx="66.5" cy="600.5" r="1.35" fill="#000"/>
<circle cx="68.2" cy="600.2" r="1.35" fill="#000"/>
<circle cx="70" cy="600.8" r="1.35" fill="#000"/>
<circle cx="71.5" cy="601.2" r="1.35" fill="#000"/>
<circle cx="67.5" cy="601.8" r="1.35" fill="#000"/>
<line x1="69.2" y1="600.2" x2="69.2" y2="602.4" stroke="#111" stroke-width="0.9"/>
<line x1="67.6" y1="600.2" x2="70.8" y2="600.2" stroke="#111" stroke-width="0.9"/>
<line x1="67.6" y1="602.4" x2="70.8" y2="602.4" stroke="#111" stroke-width="0.9"/>
<circle cx="94.1" cy="558.7" r="1.35" fill="#000"/>
<circle cx="96.8" cy="553.8" r="1.35" fill="#000"/>
<circle cx="98" cy="554.7" r="1.35" fill="#000"/>
<circle cx="95.3" cy="557.1" r="1.35" fill="#000"/>
<circle cx="92.7" cy="562.7" r="1.5" fill="#8f7836"/>
<circle cx="100.3" cy="560.9" r="1.5" fill="#8f7836"/>
<line x1="96.2" y1="557" x2="96.2" y2="563.3" stroke="#222" stroke-width="0.9"/>
<line x1="94.6" y1="557" x2="97.8" y2="557" stroke="#222" stroke-width="0.9"/>
<line x1="94.6" y1="563.3" x2="97.8" y2="563.3" stroke="#222" stroke-width="0.9"/>
<circle cx="120.5" cy="456.9" r="1.35" fill="#000"/>
<circle cx="122.5" cy="454.9" r="1.35" fill="#000"/>
<circle cx="126.6" cy="457.2" r="1.35" fill="#000"/>
<circle cx="128.2" cy="453.5" r="1.35" fill="#000"/>
<circle cx="124.3" cy="457" r="1.35" fill="#000"/>
<circle cx="121.5" cy="458.2" r="1.35" fill="#000"/>
<line x1="123.4" y1="454.5" x2="123.4" y2="461.7" stroke="#111" stroke-width="0.9"/>
<line x1="121.6" y1="454.5" x2="125.2" y2="454.5" stroke="#111" stroke-width="0.9"/>
<line x1="121.6" y1="461.7" x2="125.2" y2="461.7" stroke="#111" stroke-width="0.9"/>
<circle cx="146.5" cy="607" r="1.35" fill="#000"/>
<circle cx="148.5" cy="606.6" r="1.35" fill="#000"/>
<circle cx="150.5" cy="606.8" r="1.35" fill="#000"/>
<circle cx="152.5" cy="607" r="1.35" fill="#000"/>
<circle cx="174.5" cy="600.6" r="1.35" fill="#000"/>
<circle cx="176.5" cy="600.3" r="1.35" fill="#000"/>
<circle cx="178.5" cy="600.5" r="1.35" fill="#000"/>
<circle cx="180" cy="600.7" r="1.35" fill="#000"/>
<circle cx="205" cy="557.8" r="1.35" fill="#000"/>
<circle cx="206.5" cy="562.2" r="1.35" fill="#000"/>
<circle cx="203.8" cy="563.8" r="1.35" fill="#000"/>
<circle cx="204" cy="565" r="1.5" fill="#b08064"/>
<circle cx="208.5" cy="565.5" r="1.5" fill="#b08064"/>
<line x1="205.2" y1="561.5" x2="205.2" y2="567" stroke="#222" stroke-width="0.9"/>
<line x1="203.6" y1="561.5" x2="206.8" y2="561.5" stroke="#222" stroke-width="0.9"/>
<line x1="203.6" y1="567" x2="206.8" y2="567" stroke="#222" stroke-width="0.9"/>
<text transform="translate(74.7,622.7) rotate(-39)" font-size="10.5" text-anchor="end" fill="#2e2e2e">N + PEG</text>
<text transform="translate(100.3,623) rotate(-39)" font-size="10.5" text-anchor="end" fill="#2e2e2e">N + polyrA</text>
<text transform="translate(125.8,623) rotate(-39)" font-size="10.5" text-anchor="end" fill="#2e2e2e">N + 1-1000 RNA</text>
<text transform="translate(154,622.6) rotate(-39)" font-size="10.5" text-anchor="end" fill="#2e2e2e">pN + PEG</text>
<text transform="translate(178.1,622.6) rotate(-39)" font-size="10.5" text-anchor="end" fill="#2e2e2e">pN + polyrA</text>
<text transform="translate(210.4,622.6) rotate(-39)" font-size="10.5" text-anchor="end" fill="#2e2e2e">pN + 1-1000 RNA</text>
<text x="232.6" y="443.8" font-size="13.5" text-anchor="start" fill="#111" font-weight="bold">h</text>
<text transform="translate(246.0,525.9) rotate(-90)" font-size="10.5" text-anchor="middle" fill="#2e2e2e">Relaxation Time (s)</text>
<rect x="287.4" y="448" width="18" height="162.5" fill="#e9e9e9" stroke="#777" stroke-width="0.9"/>
<rect x="309.4" y="448" width="18" height="162.5" fill="#e9e9e9" stroke="#777" stroke-width="0.9"/>
<rect x="331.4" y="448" width="18" height="162.5" fill="#e9e9e9" stroke="#777" stroke-width="0.9"/>
<rect x="375.5" y="448" width="18" height="162.5" fill="#e9e9e9" stroke="#777" stroke-width="0.9"/>
<rect x="397.5" y="448" width="18" height="162.5" fill="#e9e9e9" stroke="#777" stroke-width="0.9"/>
<rect x="419.5" y="448" width="18" height="162.5" fill="#e9e9e9" stroke="#777" stroke-width="0.9"/>
<rect x="309.4" y="594.03" width="18" height="16.47" fill="#b9922f" stroke="#6a6a6a" stroke-width="0.9"/>
<rect x="331.4" y="527.38" width="18" height="83.12" fill="#c85a28" stroke="#6a6a6a" stroke-width="0.9"/>
<rect x="270.9" y="447.5" width="184.3" height="163" fill="none" stroke="#777" stroke-width="1"/>
<line x1="270.9" y1="610.5" x2="273.4" y2="610.5" stroke="#777" stroke-width="0.9"/>
<line x1="455.2" y1="610.5" x2="452.7" y2="610.5" stroke="#777" stroke-width="0.9"/>
<text x="251.2" y="612.5" font-size="9" text-anchor="start" fill="#262626">10<tspan font-size="5.58" dy="-3.42">-2</tspan></text>
<line x1="270.9" y1="594.15" x2="272.3" y2="594.15" stroke="#777" stroke-width="0.8"/>
<line x1="455.2" y1="594.15" x2="453.8" y2="594.15" stroke="#777" stroke-width="0.8"/>
<line x1="270.9" y1="584.58" x2="272.3" y2="584.58" stroke="#777" stroke-width="0.8"/>
<line x1="455.2" y1="584.58" x2="453.8" y2="584.58" stroke="#777" stroke-width="0.8"/>
<line x1="270.9" y1="577.79" x2="272.3" y2="577.79" stroke="#777" stroke-width="0.8"/>
<line x1="455.2" y1="577.79" x2="453.8" y2="577.79" stroke="#777" stroke-width="0.8"/>
<line x1="270.9" y1="572.52" x2="272.3" y2="572.52" stroke="#777" stroke-width="0.8"/>
<line x1="455.2" y1="572.52" x2="453.8" y2="572.52" stroke="#777" stroke-width="0.8"/>
<line x1="270.9" y1="568.22" x2="272.3" y2="568.22" stroke="#777" stroke-width="0.8"/>
<line x1="455.2" y1="568.22" x2="453.8" y2="568.22" stroke="#777" stroke-width="0.8"/>
<line x1="270.9" y1="564.59" x2="272.3" y2="564.59" stroke="#777" stroke-width="0.8"/>
<line x1="455.2" y1="564.59" x2="453.8" y2="564.59" stroke="#777" stroke-width="0.8"/>
<line x1="270.9" y1="561.44" x2="272.3" y2="561.44" stroke="#777" stroke-width="0.8"/>
<line x1="455.2" y1="561.44" x2="453.8" y2="561.44" stroke="#777" stroke-width="0.8"/>
<line x1="270.9" y1="558.66" x2="272.3" y2="558.66" stroke="#777" stroke-width="0.8"/>
<line x1="455.2" y1="558.66" x2="453.8" y2="558.66" stroke="#777" stroke-width="0.8"/>
<line x1="270.9" y1="556.17" x2="273.4" y2="556.17" stroke="#777" stroke-width="0.9"/>
<line x1="455.2" y1="556.17" x2="452.7" y2="556.17" stroke="#777" stroke-width="0.9"/>
<text x="251.2" y="559.4" font-size="9" text-anchor="start" fill="#262626">10<tspan font-size="5.58" dy="-3.42">-1</tspan></text>
<line x1="270.9" y1="539.82" x2="272.3" y2="539.82" stroke="#777" stroke-width="0.8"/>
<line x1="455.2" y1="539.82" x2="453.8" y2="539.82" stroke="#777" stroke-width="0.8"/>
<line x1="270.9" y1="530.25" x2="272.3" y2="530.25" stroke="#777" stroke-width="0.8"/>
<line x1="455.2" y1="530.25" x2="453.8" y2="530.25" stroke="#777" stroke-width="0.8"/>
<line x1="270.9" y1="523.46" x2="272.3" y2="523.46" stroke="#777" stroke-width="0.8"/>
<line x1="455.2" y1="523.46" x2="453.8" y2="523.46" stroke="#777" stroke-width="0.8"/>
<line x1="270.9" y1="518.19" x2="272.3" y2="518.19" stroke="#777" stroke-width="0.8"/>
<line x1="455.2" y1="518.19" x2="453.8" y2="518.19" stroke="#777" stroke-width="0.8"/>
<line x1="270.9" y1="513.89" x2="272.3" y2="513.89" stroke="#777" stroke-width="0.8"/>
<line x1="455.2" y1="513.89" x2="453.8" y2="513.89" stroke="#777" stroke-width="0.8"/>
<line x1="270.9" y1="510.26" x2="272.3" y2="510.26" stroke="#777" stroke-width="0.8"/>
<line x1="455.2" y1="510.26" x2="453.8" y2="510.26" stroke="#777" stroke-width="0.8"/>
<line x1="270.9" y1="507.11" x2="272.3" y2="507.11" stroke="#777" stroke-width="0.8"/>
<line x1="455.2" y1="507.11" x2="453.8" y2="507.11" stroke="#777" stroke-width="0.8"/>
<line x1="270.9" y1="504.33" x2="272.3" y2="504.33" stroke="#777" stroke-width="0.8"/>
<line x1="455.2" y1="504.33" x2="453.8" y2="504.33" stroke="#777" stroke-width="0.8"/>
<line x1="270.9" y1="501.84" x2="273.4" y2="501.84" stroke="#777" stroke-width="0.9"/>
<line x1="455.2" y1="501.84" x2="452.7" y2="501.84" stroke="#777" stroke-width="0.9"/>
<text x="251.2" y="506.3" font-size="9" text-anchor="start" fill="#262626">10<tspan font-size="5.58" dy="-3.42">0</tspan></text>
<line x1="270.9" y1="485.49" x2="272.3" y2="485.49" stroke="#777" stroke-width="0.8"/>
<line x1="455.2" y1="485.49" x2="453.8" y2="485.49" stroke="#777" stroke-width="0.8"/>
<line x1="270.9" y1="475.92" x2="272.3" y2="475.92" stroke="#777" stroke-width="0.8"/>
<line x1="455.2" y1="475.92" x2="453.8" y2="475.92" stroke="#777" stroke-width="0.8"/>
<line x1="270.9" y1="469.13" x2="272.3" y2="469.13" stroke="#777" stroke-width="0.8"/>
<line x1="455.2" y1="469.13" x2="453.8" y2="469.13" stroke="#777" stroke-width="0.8"/>
<line x1="270.9" y1="463.86" x2="272.3" y2="463.86" stroke="#777" stroke-width="0.8"/>
<line x1="455.2" y1="463.86" x2="453.8" y2="463.86" stroke="#777" stroke-width="0.8"/>
<line x1="270.9" y1="459.56" x2="272.3" y2="459.56" stroke="#777" stroke-width="0.8"/>
<line x1="455.2" y1="459.56" x2="453.8" y2="459.56" stroke="#777" stroke-width="0.8"/>
<line x1="270.9" y1="455.93" x2="272.3" y2="455.93" stroke="#777" stroke-width="0.8"/>
<line x1="455.2" y1="455.93" x2="453.8" y2="455.93" stroke="#777" stroke-width="0.8"/>
<line x1="270.9" y1="452.78" x2="272.3" y2="452.78" stroke="#777" stroke-width="0.8"/>
<line x1="455.2" y1="452.78" x2="453.8" y2="452.78" stroke="#777" stroke-width="0.8"/>
<line x1="270.9" y1="450" x2="272.3" y2="450" stroke="#777" stroke-width="0.8"/>
<line x1="455.2" y1="450" x2="453.8" y2="450" stroke="#777" stroke-width="0.8"/>
<line x1="270.9" y1="447.51" x2="273.4" y2="447.51" stroke="#777" stroke-width="0.9"/>
<line x1="455.2" y1="447.51" x2="452.7" y2="447.51" stroke="#777" stroke-width="0.9"/>
<text x="251.2" y="453.2" font-size="9" text-anchor="start" fill="#262626">10<tspan font-size="5.58" dy="-3.42">1</tspan></text>
<line x1="296.4" y1="610.5" x2="296.4" y2="608.1" stroke="#777" stroke-width="0.9"/>
<line x1="296.4" y1="447.5" x2="296.4" y2="449.9" stroke="#777" stroke-width="0.9"/>
<line x1="318.4" y1="610.5" x2="318.4" y2="608.1" stroke="#777" stroke-width="0.9"/>
<line x1="318.4" y1="447.5" x2="318.4" y2="449.9" stroke="#777" stroke-width="0.9"/>
<line x1="340.4" y1="610.5" x2="340.4" y2="608.1" stroke="#777" stroke-width="0.9"/>
<line x1="340.4" y1="447.5" x2="340.4" y2="449.9" stroke="#777" stroke-width="0.9"/>
<line x1="384.5" y1="610.5" x2="384.5" y2="608.1" stroke="#777" stroke-width="0.9"/>
<line x1="384.5" y1="447.5" x2="384.5" y2="449.9" stroke="#777" stroke-width="0.9"/>
<line x1="406.5" y1="610.5" x2="406.5" y2="608.1" stroke="#777" stroke-width="0.9"/>
<line x1="406.5" y1="447.5" x2="406.5" y2="449.9" stroke="#777" stroke-width="0.9"/>
<line x1="428.5" y1="610.5" x2="428.5" y2="608.1" stroke="#777" stroke-width="0.9"/>
<line x1="428.5" y1="447.5" x2="428.5" y2="449.9" stroke="#777" stroke-width="0.9"/>
<line x1="362.5" y1="610.5" x2="362.5" y2="608.1" stroke="#777" stroke-width="0.9"/>
<line x1="362.5" y1="447.5" x2="362.5" y2="449.9" stroke="#777" stroke-width="0.9"/>
<circle cx="338.1" cy="520.3" r="1.35" fill="#000"/>
<circle cx="344.3" cy="523.9" r="1.35" fill="#000"/>
<circle cx="339.9" cy="526.5" r="1.35" fill="#000"/>
<circle cx="341.6" cy="530.9" r="1.35" fill="#000"/>
<circle cx="340.7" cy="535.3" r="1.35" fill="#000"/>
<circle cx="346" cy="537.5" r="1.35" fill="#000"/>
<circle cx="343.4" cy="530" r="1.35" fill="#000"/>
<circle cx="342.5" cy="527.5" r="1.35" fill="#000"/>
<line x1="340.5" y1="523.2" x2="340.5" y2="532" stroke="#111" stroke-width="0.9"/>
<line x1="338.7" y1="523.2" x2="342.3" y2="523.2" stroke="#111" stroke-width="0.9"/>
<line x1="338.7" y1="532" x2="342.3" y2="532" stroke="#111" stroke-width="0.9"/>
<circle cx="318.3" cy="584.5" r="1.35" fill="#000"/>
<circle cx="314.6" cy="607.5" r="1.35" fill="#000"/>
<circle cx="314.2" cy="593.7" r="1.35" fill="#000"/>
<circle cx="320.4" cy="593.7" r="1.35" fill="#000"/>
<circle cx="316.5" cy="593.9" r="1.35" fill="#000"/>
<line x1="318.5" y1="588.4" x2="318.5" y2="600.4" stroke="#222" stroke-width="0.9"/>
<line x1="316.5" y1="588.4" x2="320.5" y2="588.4" stroke="#222" stroke-width="0.9"/>
<line x1="316.5" y1="600.4" x2="320.5" y2="600.4" stroke="#222" stroke-width="0.9"/>
<rect x="308.2" y="426.7" width="111.5" height="16.3" fill="#fff" stroke="#444" stroke-width="0.9"/>
<polygon points="313.5,430.2 322.8,430.2 313.5,439.3" fill="#b9922f"/>
<polygon points="322.8,430.2 322.8,439.3 313.5,439.3" fill="#c85a28"/>
<rect x="313.5" y="430.2" width="9.3" height="9.1" fill="none" stroke="#777" stroke-width="0.6"/>
<text x="325.2" y="438.8" font-size="10.5" text-anchor="start" fill="#2e2e2e">Elastic</text>
<rect x="362.5" y="430.2" width="9.3" height="9.1" fill="#e9e9e9" stroke="#777" stroke-width="0.7"/>
<text x="375.6" y="438.8" font-size="10.5" text-anchor="start" fill="#2e2e2e">Viscous</text>
<text transform="translate(295.5,622) rotate(-39)" font-size="10.5" text-anchor="end" fill="#2e2e2e">N + PEG</text>
<text transform="translate(320.5,622.5) rotate(-39)" font-size="10.5" text-anchor="end" fill="#2e2e2e">N + polyrA</text>
<text transform="translate(346.4,622) rotate(-39)" font-size="10.5" text-anchor="end" fill="#2e2e2e">N + 1-1000 RNA</text>
<text transform="translate(382.5,623.8) rotate(-39)" font-size="10.5" text-anchor="end" fill="#2e2e2e">pN + PEG</text>
<text transform="translate(407.8,624.4) rotate(-39)" font-size="10.5" text-anchor="end" fill="#2e2e2e">pN + polyrA</text>
<text transform="translate(433.3,624.4) rotate(-39)" font-size="10.5" text-anchor="end" fill="#2e2e2e">pN + 1-1000 RNA</text>
<text x="461.5" y="444" font-size="13.5" text-anchor="start" fill="#111" font-weight="bold">i</text>
<text x="587.4" y="444.9" font-size="10.5" text-anchor="middle" fill="#2e2e2e">Micropipette Aspiration</text>
<text transform="translate(470.0,525.9) rotate(-90)" font-size="10.5" text-anchor="middle" fill="#2e2e2e">Viscosity (Pa·s)</text>
<rect x="517.1" y="603.24" width="22" height="7.86" fill="#5b8dc8" stroke="#3d6aa0" stroke-width="0.6"/>
<rect x="544.3" y="583.17" width="22" height="27.93" fill="#c0a257" stroke="#8f7836" stroke-width="0.6"/>
<rect x="571.3" y="498.58" width="22" height="112.52" fill="#cd7751" stroke="#9a5236" stroke-width="0.6"/>
<rect x="598.4" y="607.61" width="22" height="3.49" fill="#86b4e3" stroke="#5a86b5" stroke-width="0.6"/>
<rect x="625.8" y="604.99" width="22" height="6.11" fill="#fbd87c" stroke="#b89d50" stroke-width="0.6"/>
<rect x="653.2" y="582.53" width="22" height="28.57" fill="#ecb08c" stroke="#b08064" stroke-width="0.6"/>
<line x1="495.6" y1="611.1" x2="683.5" y2="611.1" stroke="#a8a8a8" stroke-width="1"/>
<line x1="495.6" y1="452.4" x2="495.6" y2="611.1" stroke="#a8a8a8" stroke-width="1"/>
<line x1="495.1" y1="611.1" x2="497.8" y2="611.1" stroke="#a8a8a8" stroke-width="0.9"/>
<text x="490.7" y="614.25" font-size="9.4" text-anchor="end" fill="#333">0</text>
<line x1="495.1" y1="595.23" x2="497.8" y2="595.23" stroke="#a8a8a8" stroke-width="0.9"/>
<text x="490.7" y="598.68" font-size="9.4" text-anchor="end" fill="#333">20</text>
<line x1="495.1" y1="579.36" x2="497.8" y2="579.36" stroke="#a8a8a8" stroke-width="0.9"/>
<text x="490.7" y="583.11" font-size="9.4" text-anchor="end" fill="#333">40</text>
<line x1="495.1" y1="563.49" x2="497.8" y2="563.49" stroke="#a8a8a8" stroke-width="0.9"/>
<text x="490.7" y="567.54" font-size="9.4" text-anchor="end" fill="#333">60</text>
<line x1="495.1" y1="547.62" x2="497.8" y2="547.62" stroke="#a8a8a8" stroke-width="0.9"/>
<text x="490.7" y="551.97" font-size="9.4" text-anchor="end" fill="#333">80</text>
<line x1="495.1" y1="531.75" x2="497.8" y2="531.75" stroke="#a8a8a8" stroke-width="0.9"/>
<text x="490.7" y="536.4" font-size="9.4" text-anchor="end" fill="#333">100</text>
<line x1="495.1" y1="515.88" x2="497.8" y2="515.88" stroke="#a8a8a8" stroke-width="0.9"/>
<text x="490.7" y="520.83" font-size="9.4" text-anchor="end" fill="#333">120</text>
<line x1="495.1" y1="500.01" x2="497.8" y2="500.01" stroke="#a8a8a8" stroke-width="0.9"/>
<text x="490.7" y="505.26" font-size="9.4" text-anchor="end" fill="#333">140</text>
<line x1="495.1" y1="484.14" x2="497.8" y2="484.14" stroke="#a8a8a8" stroke-width="0.9"/>
<text x="490.7" y="489.69" font-size="9.4" text-anchor="end" fill="#333">160</text>
<line x1="495.1" y1="468.27" x2="497.8" y2="468.27" stroke="#a8a8a8" stroke-width="0.9"/>
<text x="490.7" y="474.12" font-size="9.4" text-anchor="end" fill="#333">180</text>
<line x1="495.1" y1="452.4" x2="497.8" y2="452.4" stroke="#a8a8a8" stroke-width="0.9"/>
<text x="490.7" y="458.55" font-size="9.4" text-anchor="end" fill="#333">200</text>
<circle cx="528.5" cy="601.5" r="1.35" fill="#000"/>
<circle cx="526" cy="603" r="1.35" fill="#000"/>
<line x1="528" y1="601.5" x2="528" y2="604.5" stroke="#222" stroke-width="0.9"/>
<line x1="526.4" y1="601.5" x2="529.6" y2="601.5" stroke="#222" stroke-width="0.9"/>
<line x1="526.4" y1="604.5" x2="529.6" y2="604.5" stroke="#222" stroke-width="0.9"/>
<circle cx="554" cy="581" r="1.35" fill="#000"/>
<circle cx="557" cy="582.5" r="1.35" fill="#000"/>
<circle cx="553" cy="584.5" r="1.5" fill="#8f7836"/>
<line x1="555.2" y1="580.5" x2="555.2" y2="585.5" stroke="#222" stroke-width="0.9"/>
<line x1="553.6" y1="580.5" x2="556.8" y2="580.5" stroke="#222" stroke-width="0.9"/>
<line x1="553.6" y1="585.5" x2="556.8" y2="585.5" stroke="#222" stroke-width="0.9"/>
<circle cx="580.8" cy="477.5" r="1.35" fill="#000"/>
<circle cx="575.5" cy="507.8" r="1.4" fill="#a0502a"/>
<circle cx="585.2" cy="510.2" r="1.4" fill="#a0502a"/>
<line x1="582.2" y1="479.7" x2="582.2" y2="516.4" stroke="#222" stroke-width="1"/>
<line x1="580.2" y1="479.7" x2="584.2" y2="479.7" stroke="#222" stroke-width="1"/>
<line x1="580.2" y1="516.4" x2="584.2" y2="516.4" stroke="#222" stroke-width="1"/>
<circle cx="606" cy="606.7" r="1.35" fill="#000"/>
<circle cx="608.5" cy="607" r="1.35" fill="#000"/>
<circle cx="611" cy="606.7" r="1.35" fill="#000"/>
<circle cx="633.5" cy="604.2" r="1.35" fill="#000"/>
<circle cx="636" cy="604.5" r="1.35" fill="#000"/>
<circle cx="638.5" cy="604.6" r="1.35" fill="#000"/>
<circle cx="658.7" cy="579.5" r="1.35" fill="#000"/>
<circle cx="660.5" cy="584" r="1.5" fill="#b08064"/>
<line x1="664.3" y1="580.5" x2="664.3" y2="585.5" stroke="#222" stroke-width="0.9"/>
<line x1="662.5" y1="580.5" x2="666.1" y2="580.5" stroke="#222" stroke-width="0.9"/>
<line x1="662.5" y1="585.5" x2="666.1" y2="585.5" stroke="#222" stroke-width="0.9"/>
<text transform="translate(531.1,623.7) rotate(-39)" font-size="10.5" text-anchor="end" fill="#2e2e2e">N + PEG</text>
<text transform="translate(556.3,624.4) rotate(-39)" font-size="10.5" text-anchor="end" fill="#2e2e2e">N + polyrA</text>
<text transform="translate(584.3,624.4) rotate(-39)" font-size="10.5" text-anchor="end" fill="#2e2e2e">N + 1-1000 RNA</text>
<text transform="translate(612.7,623.7) rotate(-39)" font-size="10.5" text-anchor="end" fill="#2e2e2e">pN + PEG</text>
<text transform="translate(638.8,624.1) rotate(-39)" font-size="10.5" text-anchor="end" fill="#2e2e2e">pN + polyrA</text>
<text transform="translate(666.3,624.1) rotate(-39)" font-size="10.5" text-anchor="end" fill="#2e2e2e">pN + 1-1000 RNA</text>
</svg></body></html>
